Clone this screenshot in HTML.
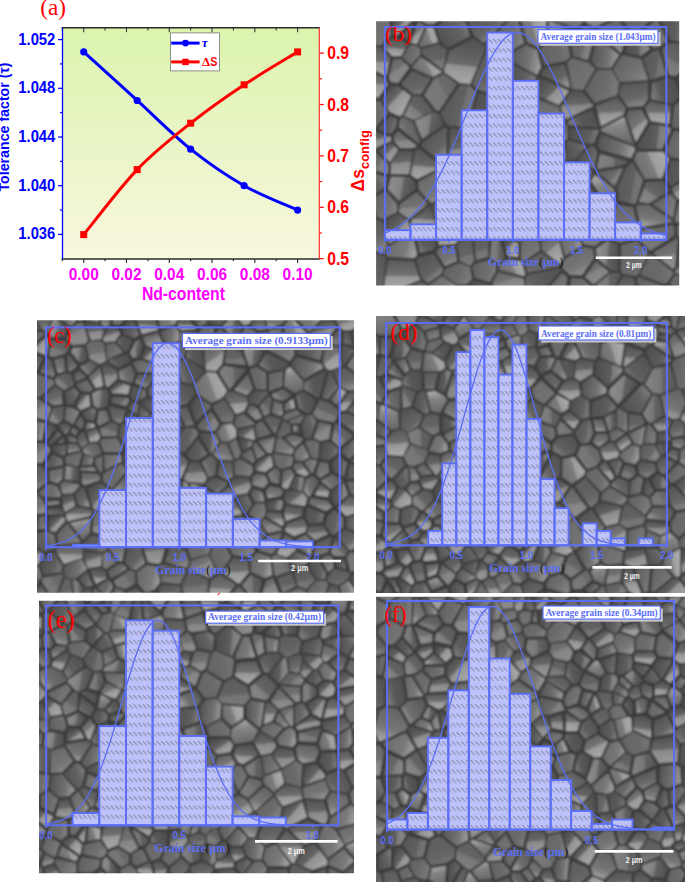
<!DOCTYPE html>
<html><head><meta charset="utf-8"><title>Figure</title>
<style>
html,body{margin:0;padding:0;background:#fff;width:685px;height:882px;overflow:hidden;}
svg{display:block;}
</style></head><body>
<svg width="685" height="882" viewBox="0 0 685 882">
<defs><linearGradient id="pg" x1="0" y1="0" x2="0" y2="1"><stop offset="0" stop-color="#dbf4ad"/><stop offset="0.42" stop-color="#e7f5c2"/><stop offset="1" stop-color="#f9f7df"/></linearGradient></defs>
<rect x="62.5" y="27.8" width="256.8" height="231.2" fill="url(#pg)"/>
<line x1="58.0" y1="234.40" x2="62.5" y2="234.40" stroke="#0000ff" stroke-width="1.2"/>
<line x1="60.0" y1="210.05" x2="62.5" y2="210.05" stroke="#0000ff" stroke-width="1.2"/>
<line x1="58.0" y1="185.70" x2="62.5" y2="185.70" stroke="#0000ff" stroke-width="1.2"/>
<line x1="60.0" y1="161.35" x2="62.5" y2="161.35" stroke="#0000ff" stroke-width="1.2"/>
<line x1="58.0" y1="137.00" x2="62.5" y2="137.00" stroke="#0000ff" stroke-width="1.2"/>
<line x1="60.0" y1="112.65" x2="62.5" y2="112.65" stroke="#0000ff" stroke-width="1.2"/>
<line x1="58.0" y1="88.30" x2="62.5" y2="88.30" stroke="#0000ff" stroke-width="1.2"/>
<line x1="60.0" y1="63.95" x2="62.5" y2="63.95" stroke="#0000ff" stroke-width="1.2"/>
<line x1="58.0" y1="39.60" x2="62.5" y2="39.60" stroke="#0000ff" stroke-width="1.2"/>
<line x1="319.3" y1="258.70" x2="323.8" y2="258.70" stroke="#ff0000" stroke-width="1.2"/>
<line x1="319.3" y1="233.00" x2="321.9" y2="233.00" stroke="#ff0000" stroke-width="1.2"/>
<line x1="319.3" y1="207.30" x2="323.8" y2="207.30" stroke="#ff0000" stroke-width="1.2"/>
<line x1="319.3" y1="181.60" x2="321.9" y2="181.60" stroke="#ff0000" stroke-width="1.2"/>
<line x1="319.3" y1="155.90" x2="323.8" y2="155.90" stroke="#ff0000" stroke-width="1.2"/>
<line x1="319.3" y1="130.20" x2="321.9" y2="130.20" stroke="#ff0000" stroke-width="1.2"/>
<line x1="319.3" y1="104.50" x2="323.8" y2="104.50" stroke="#ff0000" stroke-width="1.2"/>
<line x1="319.3" y1="78.80" x2="321.9" y2="78.80" stroke="#ff0000" stroke-width="1.2"/>
<line x1="319.3" y1="53.10" x2="323.8" y2="53.10" stroke="#ff0000" stroke-width="1.2"/>
<line x1="62.31" y1="259.0" x2="62.31" y2="261.2" stroke="#333" stroke-width="1.2"/>
<line x1="62.31" y1="27.8" x2="62.31" y2="30.4" stroke="#333" stroke-width="1.1"/>
<line x1="83.70" y1="259.0" x2="83.70" y2="263.0" stroke="#333" stroke-width="1.2"/>
<line x1="83.70" y1="27.8" x2="83.70" y2="32.2" stroke="#333" stroke-width="1.1"/>
<line x1="105.09" y1="259.0" x2="105.09" y2="261.2" stroke="#333" stroke-width="1.2"/>
<line x1="105.09" y1="27.8" x2="105.09" y2="30.4" stroke="#333" stroke-width="1.1"/>
<line x1="126.48" y1="259.0" x2="126.48" y2="263.0" stroke="#333" stroke-width="1.2"/>
<line x1="126.48" y1="27.8" x2="126.48" y2="32.2" stroke="#333" stroke-width="1.1"/>
<line x1="147.87" y1="259.0" x2="147.87" y2="261.2" stroke="#333" stroke-width="1.2"/>
<line x1="147.87" y1="27.8" x2="147.87" y2="30.4" stroke="#333" stroke-width="1.1"/>
<line x1="169.26" y1="259.0" x2="169.26" y2="263.0" stroke="#333" stroke-width="1.2"/>
<line x1="169.26" y1="27.8" x2="169.26" y2="32.2" stroke="#333" stroke-width="1.1"/>
<line x1="190.65" y1="259.0" x2="190.65" y2="261.2" stroke="#333" stroke-width="1.2"/>
<line x1="190.65" y1="27.8" x2="190.65" y2="30.4" stroke="#333" stroke-width="1.1"/>
<line x1="212.04" y1="259.0" x2="212.04" y2="263.0" stroke="#333" stroke-width="1.2"/>
<line x1="212.04" y1="27.8" x2="212.04" y2="32.2" stroke="#333" stroke-width="1.1"/>
<line x1="233.43" y1="259.0" x2="233.43" y2="261.2" stroke="#333" stroke-width="1.2"/>
<line x1="233.43" y1="27.8" x2="233.43" y2="30.4" stroke="#333" stroke-width="1.1"/>
<line x1="254.82" y1="259.0" x2="254.82" y2="263.0" stroke="#333" stroke-width="1.2"/>
<line x1="254.82" y1="27.8" x2="254.82" y2="32.2" stroke="#333" stroke-width="1.1"/>
<line x1="276.21" y1="259.0" x2="276.21" y2="261.2" stroke="#333" stroke-width="1.2"/>
<line x1="276.21" y1="27.8" x2="276.21" y2="30.4" stroke="#333" stroke-width="1.1"/>
<line x1="297.60" y1="259.0" x2="297.60" y2="263.0" stroke="#333" stroke-width="1.2"/>
<line x1="297.60" y1="27.8" x2="297.60" y2="32.2" stroke="#333" stroke-width="1.1"/>
<line x1="61.7" y1="27.8" x2="319.8" y2="27.8" stroke="#2a2a2a" stroke-width="1.5"/>
<line x1="61.7" y1="259.0" x2="319.8" y2="259.0" stroke="#2a2a2a" stroke-width="1.5"/>
<line x1="62.5" y1="27.8" x2="62.5" y2="259.0" stroke="#0000ff" stroke-width="1.3"/>
<line x1="319.3" y1="27.8" x2="319.3" y2="259.0" stroke="#ff2020" stroke-width="1.1"/>
<path d="M83.70,51.78 C92.61,59.89 119.35,84.24 137.18,100.48 C155.00,116.71 172.83,134.97 190.65,149.18 C208.48,163.38 226.30,175.55 244.12,185.70 C261.95,195.85 288.69,205.99 297.60,210.05" fill="none" stroke="#0000ff" stroke-width="3"/>
<path d="M83.70,234.60 C92.61,223.77 119.35,188.17 137.18,169.60 C155.00,151.03 172.83,137.33 190.65,123.20 C208.48,109.07 226.30,96.68 244.12,84.80 C261.95,72.92 288.69,57.38 297.60,51.90" fill="none" stroke="#ff0000" stroke-width="3"/>
<rect x="80.20" y="231.10" width="7" height="7" fill="#ff0000"/>
<rect x="133.68" y="166.10" width="7" height="7" fill="#ff0000"/>
<rect x="187.15" y="119.70" width="7" height="7" fill="#ff0000"/>
<rect x="240.62" y="81.30" width="7" height="7" fill="#ff0000"/>
<rect x="294.10" y="48.40" width="7" height="7" fill="#ff0000"/>
<circle cx="83.70" cy="51.78" r="3.6" fill="#0000ff"/>
<circle cx="137.18" cy="100.48" r="3.6" fill="#0000ff"/>
<circle cx="190.65" cy="149.18" r="3.6" fill="#0000ff"/>
<circle cx="244.12" cy="185.70" r="3.6" fill="#0000ff"/>
<circle cx="297.60" cy="210.05" r="3.6" fill="#0000ff"/>
<rect x="170.6" y="32.9" width="48.8" height="38" fill="#fff" stroke="#777" stroke-width="0.8"/>
<line x1="171.2" y1="43.1" x2="199.6" y2="43.1" stroke="#0000ff" stroke-width="3"/>
<circle cx="185.5" cy="43.1" r="3.4" fill="#0000ff"/>
<line x1="171.2" y1="61.9" x2="199.6" y2="61.9" stroke="#ff0000" stroke-width="3"/>
<rect x="182.3" y="58.7" width="6.4" height="6.4" fill="#ff0000"/>
<text x="201.8" y="46.6" font-family="Liberation Serif" font-weight="bold" font-style="italic" font-size="13.5" fill="#0000ff">&#964;</text>
<text x="202.0" y="66.4" font-family="Liberation Serif" font-weight="bold" font-size="13" fill="#ff0000">&#916;</text>
<text x="210.2" y="66.4" font-family="Liberation Sans" font-weight="bold" font-size="12.8" fill="#ff0000" transform="translate(210.2 0) scale(0.84 1) translate(-210.2 0)">S</text>
<text x="55.3" y="239.40" font-family="Liberation Sans" font-weight="bold" font-size="17" fill="#0000ff" text-anchor="end" transform="translate(55.3 0) scale(0.87 1) translate(-55.3 0)">1.036</text>
<text x="55.3" y="190.70" font-family="Liberation Sans" font-weight="bold" font-size="17" fill="#0000ff" text-anchor="end" transform="translate(55.3 0) scale(0.87 1) translate(-55.3 0)">1.040</text>
<text x="55.3" y="142.00" font-family="Liberation Sans" font-weight="bold" font-size="17" fill="#0000ff" text-anchor="end" transform="translate(55.3 0) scale(0.87 1) translate(-55.3 0)">1.044</text>
<text x="55.3" y="93.30" font-family="Liberation Sans" font-weight="bold" font-size="17" fill="#0000ff" text-anchor="end" transform="translate(55.3 0) scale(0.87 1) translate(-55.3 0)">1.048</text>
<text x="55.3" y="44.60" font-family="Liberation Sans" font-weight="bold" font-size="17" fill="#0000ff" text-anchor="end" transform="translate(55.3 0) scale(0.87 1) translate(-55.3 0)">1.052</text>
<text x="327.2" y="264.80" font-family="Liberation Sans" font-weight="bold" font-size="18.3" fill="#ff0000" transform="translate(327.2 0) scale(0.86 1) translate(-327.2 0)">0.5</text>
<text x="327.2" y="213.40" font-family="Liberation Sans" font-weight="bold" font-size="18.3" fill="#ff0000" transform="translate(327.2 0) scale(0.86 1) translate(-327.2 0)">0.6</text>
<text x="327.2" y="162.00" font-family="Liberation Sans" font-weight="bold" font-size="18.3" fill="#ff0000" transform="translate(327.2 0) scale(0.86 1) translate(-327.2 0)">0.7</text>
<text x="327.2" y="110.60" font-family="Liberation Sans" font-weight="bold" font-size="18.3" fill="#ff0000" transform="translate(327.2 0) scale(0.86 1) translate(-327.2 0)">0.8</text>
<text x="327.2" y="59.20" font-family="Liberation Sans" font-weight="bold" font-size="18.3" fill="#ff0000" transform="translate(327.2 0) scale(0.86 1) translate(-327.2 0)">0.9</text>
<text x="83.70" y="280.5" font-family="Liberation Sans" font-weight="bold" font-size="16.8" fill="#ff00ff" text-anchor="middle" transform="translate(83.70 0) scale(0.92 1) translate(-83.70 0)">0.00</text>
<text x="126.48" y="280.5" font-family="Liberation Sans" font-weight="bold" font-size="16.8" fill="#ff00ff" text-anchor="middle" transform="translate(126.48 0) scale(0.92 1) translate(-126.48 0)">0.02</text>
<text x="169.26" y="280.5" font-family="Liberation Sans" font-weight="bold" font-size="16.8" fill="#ff00ff" text-anchor="middle" transform="translate(169.26 0) scale(0.92 1) translate(-169.26 0)">0.04</text>
<text x="212.04" y="280.5" font-family="Liberation Sans" font-weight="bold" font-size="16.8" fill="#ff00ff" text-anchor="middle" transform="translate(212.04 0) scale(0.92 1) translate(-212.04 0)">0.06</text>
<text x="254.82" y="280.5" font-family="Liberation Sans" font-weight="bold" font-size="16.8" fill="#ff00ff" text-anchor="middle" transform="translate(254.82 0) scale(0.92 1) translate(-254.82 0)">0.08</text>
<text x="297.60" y="280.5" font-family="Liberation Sans" font-weight="bold" font-size="16.8" fill="#ff00ff" text-anchor="middle" transform="translate(297.60 0) scale(0.92 1) translate(-297.60 0)">0.10</text>
<text x="183.4" y="299.8" font-family="Liberation Sans" font-weight="bold" font-size="17.5" fill="#ff00ff" text-anchor="middle" transform="translate(183.4 0) scale(0.9 1) translate(-183.4 0)">Nd-content</text>
<text transform="translate(9.4 127) rotate(-90)" font-family="Liberation Sans" font-weight="bold" font-size="14.2" fill="#0000ff" text-anchor="middle">Tolerance factor (&#964;)</text>
<text transform="translate(363.8 191.4) rotate(-90)" font-family="Liberation Sans" font-weight="bold" font-size="17.5" fill="#ff0000">&#916;s<tspan font-size="13" dy="5.5">config</tspan></text>
<text x="40.3" y="15.3" font-family="Liberation Serif" font-size="23.2" fill="#ff0000">(a)</text>
<defs><pattern id="hatb" patternUnits="userSpaceOnUse" width="4.70" height="9.40" x="493.00" y="123.50"><line x1="0" y1="0" x2="4.4" y2="4.4" stroke="#727282" stroke-width="1.05" stroke-dasharray="1.1 0.45"/></pattern><clipPath id="cpb"><rect x="376.1" y="21.2" width="303.1" height="264.3"/></clipPath><pattern id="hatc" patternUnits="userSpaceOnUse" width="4.60" height="9.20" x="156.30" y="409.20"><line x1="0" y1="0" x2="4.4" y2="4.4" stroke="#727282" stroke-width="1.05" stroke-dasharray="1.1 0.45"/></pattern><clipPath id="cpc"><rect x="37.0" y="320.2" width="317.0" height="272.5"/></clipPath><pattern id="hatd" patternUnits="userSpaceOnUse" width="4.40" height="9.20" x="461.00" y="381.75"><line x1="0" y1="0" x2="4.4" y2="4.4" stroke="#727282" stroke-width="1.05" stroke-dasharray="1.1 0.45"/></pattern><clipPath id="cpd"><rect x="376.1" y="316.1" width="308.9" height="276.9"/></clipPath><pattern id="hate" patternUnits="userSpaceOnUse" width="4.60" height="9.20" x="101.30" y="741.10"><line x1="0" y1="0" x2="4.4" y2="4.4" stroke="#727282" stroke-width="1.05" stroke-dasharray="1.1 0.45"/></pattern><clipPath id="cpe"><rect x="39.0" y="600.7" width="315.0" height="272.6"/></clipPath><pattern id="hatf" patternUnits="userSpaceOnUse" width="4.70" height="9.30" x="451.75" y="704.20"><line x1="0" y1="0" x2="4.4" y2="4.4" stroke="#727282" stroke-width="1.05" stroke-dasharray="1.1 0.45"/></pattern><clipPath id="cpf"><rect x="376.1" y="596.7" width="308.9" height="285.3"/></clipPath><linearGradient id="g0" x1="0.67" y1="0.97" x2="0.33" y2="0.03"><stop offset="0.00" stop-color="rgb(118,118,118)"/><stop offset="0.35" stop-color="rgb(100,100,100)"/><stop offset="1.00" stop-color="rgb(93,93,93)"/></linearGradient><linearGradient id="g1" x1="1.00" y1="0.54" x2="0.00" y2="0.46"><stop offset="0.00" stop-color="rgb(139,139,139)"/><stop offset="0.37" stop-color="rgb(123,123,123)"/><stop offset="0.39" stop-color="rgb(94,94,94)"/><stop offset="1.00" stop-color="rgb(76,76,76)"/></linearGradient><linearGradient id="g2" x1="0.94" y1="0.27" x2="0.06" y2="0.73"><stop offset="0.00" stop-color="rgb(121,121,121)"/><stop offset="0.35" stop-color="rgb(97,97,97)"/><stop offset="1.00" stop-color="rgb(82,82,82)"/></linearGradient><linearGradient id="g3" x1="0.87" y1="0.84" x2="0.13" y2="0.16"><stop offset="0.00" stop-color="rgb(170,170,170)"/><stop offset="0.56" stop-color="rgb(146,146,146)"/><stop offset="0.58" stop-color="rgb(103,103,103)"/><stop offset="1.00" stop-color="rgb(75,75,75)"/></linearGradient><linearGradient id="g4" x1="0.99" y1="0.61" x2="0.01" y2="0.39"><stop offset="0.00" stop-color="rgb(131,131,131)"/><stop offset="0.35" stop-color="rgb(108,108,108)"/><stop offset="1.00" stop-color="rgb(103,103,103)"/></linearGradient><linearGradient id="g5" x1="0.94" y1="0.75" x2="0.06" y2="0.25"><stop offset="0.00" stop-color="rgb(135,135,135)"/><stop offset="0.37" stop-color="rgb(124,124,124)"/><stop offset="0.39" stop-color="rgb(105,105,105)"/><stop offset="1.00" stop-color="rgb(93,93,93)"/></linearGradient><linearGradient id="g6" x1="0.64" y1="0.98" x2="0.36" y2="0.02"><stop offset="0.00" stop-color="rgb(138,138,138)"/><stop offset="0.35" stop-color="rgb(104,104,104)"/><stop offset="1.00" stop-color="rgb(85,85,85)"/></linearGradient><linearGradient id="g7" x1="0.54" y1="1.00" x2="0.46" y2="0.00"><stop offset="0.00" stop-color="rgb(154,154,154)"/><stop offset="0.49" stop-color="rgb(136,136,136)"/><stop offset="0.51" stop-color="rgb(103,103,103)"/><stop offset="1.00" stop-color="rgb(82,82,82)"/></linearGradient><linearGradient id="g8" x1="0.99" y1="0.58" x2="0.01" y2="0.42"><stop offset="0.00" stop-color="rgb(156,156,156)"/><stop offset="0.35" stop-color="rgb(114,114,114)"/><stop offset="1.00" stop-color="rgb(84,84,84)"/></linearGradient><linearGradient id="g9" x1="0.57" y1="0.99" x2="0.43" y2="0.01"><stop offset="0.00" stop-color="rgb(122,122,122)"/><stop offset="0.36" stop-color="rgb(114,114,114)"/><stop offset="0.38" stop-color="rgb(100,100,100)"/><stop offset="1.00" stop-color="rgb(91,91,91)"/></linearGradient><linearGradient id="g10" x1="0.75" y1="0.94" x2="0.25" y2="0.06"><stop offset="0.00" stop-color="rgb(147,147,147)"/><stop offset="0.35" stop-color="rgb(117,117,117)"/><stop offset="1.00" stop-color="rgb(105,105,105)"/></linearGradient><linearGradient id="g11" x1="0.73" y1="0.94" x2="0.27" y2="0.06"><stop offset="0.00" stop-color="rgb(140,140,140)"/><stop offset="0.59" stop-color="rgb(131,131,131)"/><stop offset="0.61" stop-color="rgb(114,114,114)"/><stop offset="1.00" stop-color="rgb(104,104,104)"/></linearGradient><linearGradient id="g12" x1="0.99" y1="0.42" x2="0.01" y2="0.58"><stop offset="0.00" stop-color="rgb(117,117,117)"/><stop offset="0.35" stop-color="rgb(107,107,107)"/><stop offset="1.00" stop-color="rgb(99,99,99)"/></linearGradient><linearGradient id="g13" x1="0.00" y1="0.52" x2="1.00" y2="0.48"><stop offset="0.00" stop-color="rgb(130,130,130)"/><stop offset="0.52" stop-color="rgb(119,119,119)"/><stop offset="0.54" stop-color="rgb(99,99,99)"/><stop offset="1.00" stop-color="rgb(87,87,87)"/></linearGradient><linearGradient id="g14" x1="0.98" y1="0.66" x2="0.02" y2="0.34"><stop offset="0.00" stop-color="rgb(120,120,120)"/><stop offset="0.35" stop-color="rgb(94,94,94)"/><stop offset="1.00" stop-color="rgb(76,76,76)"/></linearGradient><linearGradient id="g15" x1="0.87" y1="0.84" x2="0.13" y2="0.16"><stop offset="0.00" stop-color="rgb(164,164,164)"/><stop offset="0.46" stop-color="rgb(142,142,142)"/><stop offset="0.48" stop-color="rgb(102,102,102)"/><stop offset="1.00" stop-color="rgb(76,76,76)"/></linearGradient><linearGradient id="g16" x1="0.98" y1="0.65" x2="0.02" y2="0.35"><stop offset="0.00" stop-color="rgb(161,161,161)"/><stop offset="0.35" stop-color="rgb(121,121,121)"/><stop offset="1.00" stop-color="rgb(105,105,105)"/></linearGradient><linearGradient id="g17" x1="0.45" y1="1.00" x2="0.55" y2="0.00"><stop offset="0.00" stop-color="rgb(169,169,169)"/><stop offset="0.39" stop-color="rgb(146,146,146)"/><stop offset="0.41" stop-color="rgb(106,106,106)"/><stop offset="1.00" stop-color="rgb(79,79,79)"/></linearGradient><linearGradient id="g18" x1="0.81" y1="0.90" x2="0.19" y2="0.10"><stop offset="0.00" stop-color="rgb(148,148,148)"/><stop offset="0.35" stop-color="rgb(99,99,99)"/><stop offset="1.00" stop-color="rgb(83,83,83)"/></linearGradient><linearGradient id="g19" x1="0.74" y1="0.94" x2="0.26" y2="0.06"><stop offset="0.00" stop-color="rgb(169,169,169)"/><stop offset="0.48" stop-color="rgb(151,151,151)"/><stop offset="0.50" stop-color="rgb(119,119,119)"/><stop offset="1.00" stop-color="rgb(98,98,98)"/></linearGradient><linearGradient id="g20" x1="0.87" y1="0.84" x2="0.13" y2="0.16"><stop offset="0.00" stop-color="rgb(117,117,117)"/><stop offset="0.35" stop-color="rgb(113,113,113)"/><stop offset="1.00" stop-color="rgb(106,106,106)"/></linearGradient><linearGradient id="g21" x1="0.15" y1="0.85" x2="0.85" y2="0.15"><stop offset="0.00" stop-color="rgb(136,136,136)"/><stop offset="0.38" stop-color="rgb(124,124,124)"/><stop offset="0.40" stop-color="rgb(102,102,102)"/><stop offset="1.00" stop-color="rgb(88,88,88)"/></linearGradient><linearGradient id="g22" x1="1.00" y1="0.56" x2="0.00" y2="0.44"><stop offset="0.00" stop-color="rgb(126,126,126)"/><stop offset="0.35" stop-color="rgb(93,93,93)"/><stop offset="1.00" stop-color="rgb(79,79,79)"/></linearGradient><linearGradient id="g23" x1="0.98" y1="0.64" x2="0.02" y2="0.36"><stop offset="0.00" stop-color="rgb(119,119,119)"/><stop offset="0.36" stop-color="rgb(111,111,111)"/><stop offset="0.38" stop-color="rgb(96,96,96)"/><stop offset="1.00" stop-color="rgb(87,87,87)"/></linearGradient><linearGradient id="g24" x1="0.15" y1="0.86" x2="0.85" y2="0.14"><stop offset="0.00" stop-color="rgb(122,122,122)"/><stop offset="0.35" stop-color="rgb(94,94,94)"/><stop offset="1.00" stop-color="rgb(83,83,83)"/></linearGradient><linearGradient id="g25" x1="0.49" y1="1.00" x2="0.51" y2="0.00"><stop offset="0.00" stop-color="rgb(171,171,171)"/><stop offset="0.47" stop-color="rgb(150,150,150)"/><stop offset="0.49" stop-color="rgb(114,114,114)"/><stop offset="1.00" stop-color="rgb(90,90,90)"/></linearGradient><linearGradient id="g26" x1="0.90" y1="0.80" x2="0.10" y2="0.20"><stop offset="0.00" stop-color="rgb(129,129,129)"/><stop offset="0.35" stop-color="rgb(108,108,108)"/><stop offset="1.00" stop-color="rgb(103,103,103)"/></linearGradient><linearGradient id="g27" x1="0.01" y1="0.43" x2="0.99" y2="0.57"><stop offset="0.00" stop-color="rgb(144,144,144)"/><stop offset="0.49" stop-color="rgb(127,127,127)"/><stop offset="0.51" stop-color="rgb(98,98,98)"/><stop offset="1.00" stop-color="rgb(79,79,79)"/></linearGradient><linearGradient id="g28" x1="0.36" y1="0.98" x2="0.64" y2="0.02"><stop offset="0.00" stop-color="rgb(164,164,164)"/><stop offset="0.35" stop-color="rgb(118,118,118)"/><stop offset="1.00" stop-color="rgb(99,99,99)"/></linearGradient><linearGradient id="g29" x1="0.56" y1="1.00" x2="0.44" y2="0.00"><stop offset="0.00" stop-color="rgb(144,144,144)"/><stop offset="0.43" stop-color="rgb(133,133,133)"/><stop offset="0.45" stop-color="rgb(114,114,114)"/><stop offset="1.00" stop-color="rgb(102,102,102)"/></linearGradient><linearGradient id="g30" x1="0.42" y1="0.01" x2="0.58" y2="0.99"><stop offset="0.00" stop-color="rgb(171,171,171)"/><stop offset="0.35" stop-color="rgb(131,131,131)"/><stop offset="1.00" stop-color="rgb(104,104,104)"/></linearGradient><linearGradient id="g31" x1="0.29" y1="0.95" x2="0.71" y2="0.05"><stop offset="0.00" stop-color="rgb(127,127,127)"/><stop offset="0.44" stop-color="rgb(118,118,118)"/><stop offset="0.46" stop-color="rgb(102,102,102)"/><stop offset="1.00" stop-color="rgb(92,92,92)"/></linearGradient><linearGradient id="g32" x1="0.93" y1="0.75" x2="0.07" y2="0.25"><stop offset="0.00" stop-color="rgb(129,129,129)"/><stop offset="0.35" stop-color="rgb(114,114,114)"/><stop offset="1.00" stop-color="rgb(98,98,98)"/></linearGradient><linearGradient id="g33" x1="0.97" y1="0.34" x2="0.03" y2="0.66"><stop offset="0.00" stop-color="rgb(171,171,171)"/><stop offset="0.44" stop-color="rgb(155,155,155)"/><stop offset="0.46" stop-color="rgb(126,126,126)"/><stop offset="1.00" stop-color="rgb(108,108,108)"/></linearGradient><linearGradient id="g34" x1="0.97" y1="0.68" x2="0.03" y2="0.32"><stop offset="0.00" stop-color="rgb(125,125,125)"/><stop offset="0.35" stop-color="rgb(110,110,110)"/><stop offset="1.00" stop-color="rgb(96,96,96)"/></linearGradient><linearGradient id="g35" x1="0.67" y1="0.97" x2="0.33" y2="0.03"><stop offset="0.00" stop-color="rgb(160,160,160)"/><stop offset="0.52" stop-color="rgb(139,139,139)"/><stop offset="0.54" stop-color="rgb(101,101,101)"/><stop offset="1.00" stop-color="rgb(77,77,77)"/></linearGradient><linearGradient id="g36" x1="0.08" y1="0.77" x2="0.92" y2="0.23"><stop offset="0.00" stop-color="rgb(157,157,157)"/><stop offset="0.35" stop-color="rgb(110,110,110)"/><stop offset="1.00" stop-color="rgb(91,91,91)"/></linearGradient><linearGradient id="g37" x1="0.53" y1="1.00" x2="0.47" y2="0.00"><stop offset="0.00" stop-color="rgb(170,170,170)"/><stop offset="0.45" stop-color="rgb(149,149,149)"/><stop offset="0.47" stop-color="rgb(112,112,112)"/><stop offset="1.00" stop-color="rgb(88,88,88)"/></linearGradient><linearGradient id="g38" x1="0.03" y1="0.66" x2="0.97" y2="0.34"><stop offset="0.00" stop-color="rgb(123,123,123)"/><stop offset="0.35" stop-color="rgb(89,89,89)"/><stop offset="1.00" stop-color="rgb(78,78,78)"/></linearGradient><linearGradient id="g39" x1="0.09" y1="0.78" x2="0.91" y2="0.22"><stop offset="0.00" stop-color="rgb(122,122,122)"/><stop offset="0.60" stop-color="rgb(117,117,117)"/><stop offset="0.62" stop-color="rgb(108,108,108)"/><stop offset="1.00" stop-color="rgb(103,103,103)"/></linearGradient><filter id="semblur" x="0" y="0" width="1" height="1"><feGaussianBlur stdDeviation="1.1"/></filter></defs>
<g><g clip-path="url(#cpb)"><g filter="url(#semblur)"><rect x="373.1" y="18.2" width="309.1" height="270.3" fill="#3a3a3a"/>
<path d="M493 161 496 191 498 192 512 188 522 168 510 150 508 150Z" fill="url(#g32)"/><path d="M681 130 693 144 697 144 697 121Z" fill="url(#g21)"/><path d="M528 195 543 188 545 182 536 170 525 170 515 188Z" fill="url(#g16)"/><path d="M413 151 399 151 391 163 391 174 409 174Z" fill="url(#g7)"/><path d="M584 247 565 259 562 266 564 270 570 275 582 275 594 258 593 249Z" fill="url(#g10)"/><path d="M378 98 388 84 386 79 365 69 358 73 357 84Z" fill="url(#g25)"/><path d="M386 259 384 255 367 251 337 268 355 285 383 287Z" fill="url(#g21)"/><path d="M577 188 576 195 595 211 601 212 605 208 588 183Z" fill="url(#g23)"/><path d="M398 83 409 68 409 67 401 59 393 59 389 78 391 82Z" fill="url(#g11)"/><path d="M524 279 498 272 492 284 498 293 524 290Z" fill="url(#g11)"/><path d="M542 216 556 215 557 209 544 190 529 197 531 208Z" fill="url(#g21)"/><path d="M529 208 527 197 513 190 500 194 509 217 517 218Z" fill="url(#g6)"/><path d="M504 86 535 81 536 77 507 61Z" fill="url(#g22)"/><path d="M675 235 674 226 673 225 642 230 639 239 650 251Z" fill="url(#g39)"/><path d="M444 72 460 83 470 84 486 48 484 45 473 38 449 51Z" fill="url(#g17)"/><path d="M636 142 648 122 642 110 629 110 626 116Z" fill="url(#g19)"/><path d="M645 108 651 121 669 124 671 106 650 101Z" fill="url(#g25)"/><path d="M682 159 691 146 678 131 674 131 665 151 671 157Z" fill="url(#g34)"/><path d="M648 80 641 59 622 55 613 69 620 82Z" fill="url(#g32)"/><path d="M375 100 355 87 334 106 349 113 360 113Z" fill="url(#g13)"/><path d="M376 47 368 67 386 76 390 58 381 47Z" fill="url(#g25)"/><path d="M640 33 631 33 625 53 641 56 650 49Z" fill="url(#g1)"/><path d="M549 141 566 140 567 138 568 127 565 121 561 118 547 126Z" fill="url(#g6)"/><path d="M412 232 390 246 386 255 388 257 414 258 417 255Z" fill="url(#g16)"/><path d="M397 204 386 191 373 198 373 199 377 217 383 219 397 212Z" fill="url(#g32)"/><path d="M388 113 379 100 362 115 373 130Z" fill="url(#g12)"/><path d="M421 94 431 79 412 71 401 84 413 94Z" fill="url(#g0)"/><path d="M429 285 433 303 450 298 456 286 442 276Z" fill="url(#g16)"/><path d="M414 120 433 111 421 96 413 96 404 116Z" fill="url(#g21)"/><path d="M676 200 671 194 652 204 673 218Z" fill="url(#g32)"/><path d="M433 77 442 72 421 57 412 67 412 68Z" fill="url(#g33)"/><path d="M648 82 621 84 619 95 628 107 643 106 648 99Z" fill="url(#g6)"/><path d="M459 -26 450 12 466 20 480 -2 480 -5 466 -36Z" fill="url(#g4)"/><path d="M358 182 372 195 385 188 387 177 369 172Z" fill="url(#g2)"/><path d="M444 168 418 182 419 190 431 203 445 197 450 190 453 175 451 171 447 169Z" fill="url(#g10)"/><path d="M471 130 475 155 491 159 507 148 500 130Z" fill="url(#g10)"/><path d="M562 273 536 302 538 307 565 300 567 277Z" fill="url(#g34)"/><path d="M415 18 414 17 396 14 392 16 394 34 397 35Z" fill="url(#g3)"/><path d="M699 257 677 268 675 272 675 273 693 278 701 266Z" fill="url(#g31)"/><path d="M438 42 433 27 427 27 419 45 421 47Z" fill="url(#g33)"/><path d="M693 175 672 188 673 192 678 199 699 196 703 190Z" fill="url(#g19)"/><path d="M482 0 468 22 474 36 484 43 508 18Z" fill="url(#g18)"/><path d="M430 205 411 221 413 229 434 229 436 225Z" fill="url(#g17)"/><path d="M428 283 441 274 443 269 434 254 419 257 416 260 422 279Z" fill="url(#g18)"/><path d="M541 75 570 88 565 64 544 68Z" fill="url(#g18)"/><path d="M408 221 398 214 384 221 389 244 411 230Z" fill="url(#g15)"/><path d="M374 46 360 34 346 62 357 70 364 66Z" fill="url(#g10)"/><path d="M527 275 526 278 526 290 534 300 561 271 559 268Z" fill="url(#g24)"/><path d="M589 63 572 58 567 63 572 89 583 90 595 69Z" fill="url(#g20)"/><path d="M399 116 402 115 411 96 398 86 391 86 381 99 390 112Z" fill="url(#g3)"/><path d="M549 19 576 28 583 23 580 12 557 3 548 17Z" fill="url(#g20)"/><path d="M473 280 469 285 472 315 486 324 496 295 490 285Z" fill="url(#g14)"/><path d="M591 181 608 207 616 202 614 189 595 175Z" fill="url(#g30)"/><path d="M528 234 516 220 509 220 500 234 501 235 520 241Z" fill="url(#g15)"/><path d="M611 297 621 303 627 302 635 283 634 278 623 276Z" fill="url(#g6)"/><path d="M620 242 636 238 638 228 633 207 618 205 608 210 604 214 608 238Z" fill="url(#g29)"/><path d="M636 285 629 303 637 309 640 308 645 297Z" fill="url(#g15)"/><path d="M473 237 484 233 477 210 474 210 458 222 457 224 463 236Z" fill="url(#g7)"/><path d="M675 275 670 283 685 304 699 291 693 280Z" fill="url(#g26)"/><path d="M498 236 492 237 490 258 498 263 505 258 499 237Z" fill="url(#g13)"/><path d="M691 173 682 162 671 160 665 179 671 186Z" fill="url(#g22)"/><path d="M566 119 593 106 593 105 583 92 572 91 561 107 563 116Z" fill="url(#g7)"/><path d="M546 189 558 207 573 195 574 187 564 177 548 182Z" fill="url(#g8)"/><path d="M352 208 354 223 359 225 374 217 370 201Z" fill="url(#g29)"/><path d="M617 97 596 106 601 126 623 115 626 108Z" fill="url(#g37)"/><path d="M626 168 617 188 619 201 634 204 636 203 643 180 632 162Z" fill="url(#g23)"/><path d="M499 265 499 270 524 276 525 274 522 263 520 261 507 260Z" fill="url(#g33)"/><path d="M507 59 537 75 541 67 537 50 526 45 506 57Z" fill="url(#g8)"/><path d="M601 134 597 145 600 150 631 158 635 150 634 147Z" fill="url(#g8)"/><path d="M445 199 432 205 438 224 455 223 456 221Z" fill="url(#g7)"/><path d="M411 43 417 44 425 26 418 21Z" fill="url(#g19)"/><path d="M701 216 698 199 679 202 675 220 677 223Z" fill="url(#g39)"/><path d="M451 193 447 198 458 219 471 208Z" fill="url(#g17)"/><path d="M400 119 399 127 419 144 420 141 413 122 403 117Z" fill="url(#g36)"/><path d="M678 128 698 117 699 105 682 99 674 106 672 125 674 128Z" fill="url(#g12)"/><path d="M537 82 538 96 559 105 569 91 539 77Z" fill="url(#g15)"/><path d="M398 150 392 143 377 150 390 162Z" fill="url(#g15)"/><path d="M673 272 650 254 640 275 664 284 668 282 673 274Z" fill="url(#g12)"/><path d="M466 23 449 16 436 27 441 42 448 48 470 36Z" fill="url(#g2)"/><path d="M472 84 478 90 496 94 502 87 504 60 503 58 487 50Z" fill="url(#g0)"/><path d="M422 139 444 125 439 114 434 112 415 121Z" fill="url(#g27)"/><path d="M567 141 566 161 575 160 586 146 568 140Z" fill="url(#g2)"/><path d="M459 263 445 269 443 275 457 285 467 284 472 279 470 267Z" fill="url(#g34)"/><path d="M596 172 615 186 623 168Z" fill="url(#g5)"/><path d="M455 247 439 248 436 252 445 266 457 261Z" fill="url(#g10)"/><path d="M653 51 643 59 650 80 666 75 659 50Z" fill="url(#g23)"/><path d="M599 130 570 128 569 138 588 144 594 143Z" fill="url(#g22)"/><path d="M558 216 561 222 573 225 593 213 574 197 559 209Z" fill="url(#g21)"/><path d="M591 61 597 68 611 68 619 55 597 36Z" fill="url(#g8)"/><path d="M510 19 487 45 488 47 504 55 524 43 517 17Z" fill="url(#g4)"/><path d="M598 32 621 53 628 32 618 19 597 29Z" fill="url(#g28)"/><path d="M424 95 436 110 439 111 457 84 444 74 434 79Z" fill="url(#g39)"/><path d="M597 169 624 165 629 161 600 154Z" fill="url(#g13)"/><path d="M558 231 565 256 582 245 572 227 561 225Z" fill="url(#g16)"/><path d="M474 240 476 260 488 257 489 236 486 235Z" fill="url(#g9)"/><path d="M681 239 697 245 711 224 703 219 677 226 678 236Z" fill="url(#g38)"/><path d="M391 137 373 131 367 147 375 148 391 141Z" fill="url(#g35)"/><path d="M582 312 590 286 583 279 571 278 569 300Z" fill="url(#g11)"/><path d="M474 157 454 171 455 174 493 191 490 162Z" fill="url(#g23)"/><path d="M673 269 675 267 678 240 677 238 653 253Z" fill="url(#g29)"/><path d="M578 31 571 43 573 56 588 60 595 33 594 29 585 26Z" fill="url(#g5)"/><path d="M612 271 619 271 618 244 607 241 596 249 597 258Z" fill="url(#g27)"/><path d="M584 244 595 246 605 238 601 215 595 215 575 227Z" fill="url(#g31)"/><path d="M427 285 421 282 397 292 420 311 428 310 430 304Z" fill="url(#g29)"/><path d="M525 263 527 273 559 266 541 252Z" fill="url(#g0)"/><path d="M451 299 471 315 471 315 467 285 458 287Z" fill="url(#g13)"/><path d="M652 83 651 99 672 104 680 96 675 80 668 78Z" fill="url(#g38)"/><path d="M541 242 542 250 560 264 563 258 557 232Z" fill="url(#g19)"/><path d="M657 19 642 32 653 48 659 47 667 41Z" fill="url(#g20)"/><path d="M472 240 463 238 457 245 460 261 470 266 474 261Z" fill="url(#g9)"/><path d="M361 26 360 32 376 45 381 45 391 35 389 16 382 14Z" fill="url(#g20)"/><path d="M530 234 540 240 556 230 559 223 556 217 542 218Z" fill="url(#g7)"/><path d="M673 221 649 205 637 205 636 206 641 227 673 222Z" fill="url(#g28)"/><path d="M419 148 415 151 411 175 417 179 442 167Z" fill="url(#g17)"/><path d="M461 237 455 226 438 227 436 230 439 245 455 244Z" fill="url(#g19)"/><path d="M588 147 577 160 594 169 597 152 594 146Z" fill="url(#g14)"/><path d="M662 178 669 159 663 152 637 152 634 160 645 179Z" fill="url(#g33)"/><path d="M446 124 449 126 467 126 476 92 470 86 460 85 440 114Z" fill="url(#g23)"/><path d="M665 286 660 296 663 310 682 308 683 305 669 285Z" fill="url(#g1)"/><path d="M420 280 414 261 388 260 384 288 386 290 393 291Z" fill="url(#g25)"/><path d="M548 42 540 49 544 65 566 61 570 57 568 44Z" fill="url(#g12)"/><path d="M542 149 527 143 513 150 524 166 536 167 543 155Z" fill="url(#g23)"/><path d="M476 263 472 267 475 278 490 282 496 271 496 265 489 260Z" fill="url(#g34)"/><path d="M545 148 546 154 565 160 565 142 549 143Z" fill="url(#g37)"/><path d="M595 27 617 16 621 2 621 1 590 -4 583 11 586 23Z" fill="url(#g11)"/><path d="M561 117 559 107 537 99 527 111 534 122 546 125Z" fill="url(#g29)"/><path d="M421 146 445 165 446 166 447 128 445 127 423 142Z" fill="url(#g18)"/><path d="M397 119 390 116 377 129 391 134 396 127Z" fill="url(#g14)"/><path d="M637 278 637 283 647 295 658 294 662 286 639 277Z" fill="url(#g34)"/><path d="M507 111 526 111 536 97 534 83 504 88 498 95Z" fill="url(#g18)"/><path d="M415 182 409 177 391 177 388 189 399 201 416 189Z" fill="url(#g27)"/><path d="M410 45 402 57 411 65 420 55 420 49 417 46Z" fill="url(#g34)"/><path d="M617 95 619 83 612 70 597 70 585 90 595 103Z" fill="url(#g34)"/><path d="M452 191 474 208 478 207 492 193 454 176Z" fill="url(#g5)"/><path d="M361 227 368 249 384 253 387 245 383 221 376 219Z" fill="url(#g6)"/><path d="M366 150 370 169 388 174 388 164 374 151Z" fill="url(#g5)"/><path d="M447 50 439 44 421 49 422 54 443 70Z" fill="url(#g9)"/><path d="M543 146 547 142 545 126 534 124 528 141Z" fill="url(#g27)"/><path d="M470 128 500 128 506 113 496 96 478 93 469 126Z" fill="url(#g14)"/><path d="M546 20 545 18 520 16 527 42 538 47 546 40Z" fill="url(#g33)"/><path d="M428 204 417 192 400 204 399 212 409 219Z" fill="url(#g29)"/><path d="M575 162 567 163 565 175 576 185 588 180 594 172Z" fill="url(#g21)"/><path d="M669 189 663 181 646 182 639 202 649 203 670 191Z" fill="url(#g21)"/><path d="M662 49 669 75 676 76 687 66 683 44 669 43Z" fill="url(#g31)"/><path d="M623 274 635 276 638 275 648 253 637 241 621 245 621 272Z" fill="url(#g4)"/><path d="M689 69 678 79 683 96 700 102 736 79Z" fill="url(#g2)"/><path d="M667 10 659 17 670 40 683 42 685 19Z" fill="url(#g22)"/><path d="M433 232 415 232 420 253 433 250 436 246Z" fill="url(#g24)"/><path d="M446 13 425 -2 417 16 418 18 427 24 434 24Z" fill="url(#g29)"/><path d="M651 124 637 146 638 149 662 149 671 130 669 127Z" fill="url(#g1)"/><path d="M654 17 632 3 624 3 620 17 630 30 640 30Z" fill="url(#g0)"/><path d="M494 194 480 209 487 232 491 234 498 233 507 218 497 195Z" fill="url(#g26)"/><path d="M609 298 594 287 586 310 599 309Z" fill="url(#g9)"/><path d="M529 236 521 242 521 259 524 261 540 250 539 242Z" fill="url(#g10)"/><path d="M529 230 539 217 530 211 520 220Z" fill="url(#g24)"/><path d="M546 157 538 169 547 180 563 174 564 163Z" fill="url(#g20)"/><path d="M549 21 548 39 568 42 575 30Z" fill="url(#g27)"/><path d="M408 44 397 38 393 37 383 46 392 56 401 56Z" fill="url(#g17)"/><path d="M503 239 508 256 518 257 518 243Z" fill="url(#g3)"/><path d="M450 128 449 167 452 169 473 155 469 129 467 128Z" fill="url(#g7)"/><path d="M509 147 511 148 526 141 532 123 526 113 508 113 502 129Z" fill="url(#g9)"/><path d="M594 284 609 272 596 261 585 277 593 284Z" fill="url(#g11)"/><path d="M398 131 394 136 394 141 400 148 413 148 417 146Z" fill="url(#g29)"/><path d="M601 129 601 131 634 145 624 117Z" fill="url(#g30)"/><path d="M408 41 413 24 401 36Z" fill="url(#g2)"/><path d="M699 254 699 253 697 248 681 241 678 266Z" fill="url(#g12)"/><path d="M610 295 621 275 620 273 611 273 596 285Z" fill="url(#g13)"/><path d="M599 128 593 109 568 121 569 125Z" fill="url(#g38)"/></g></g>
<rect x="384.90" y="230.10" width="25.58" height="9.70" fill="#bec2fa"/>
<rect x="385.90" y="231.10" width="23.58" height="8.70" fill="url(#hatb)"/>
<rect x="410.48" y="224.30" width="25.58" height="15.50" fill="#bec2fa"/>
<rect x="411.48" y="225.30" width="23.58" height="14.50" fill="url(#hatb)"/>
<rect x="436.06" y="154.80" width="25.58" height="85.00" fill="#bec2fa"/>
<rect x="437.06" y="155.80" width="23.58" height="84.00" fill="url(#hatb)"/>
<rect x="461.64" y="110.30" width="25.58" height="129.50" fill="#bec2fa"/>
<rect x="462.64" y="111.30" width="23.58" height="128.50" fill="url(#hatb)"/>
<rect x="487.22" y="32.50" width="25.58" height="207.30" fill="#bec2fa"/>
<rect x="488.22" y="33.50" width="23.58" height="206.30" fill="url(#hatb)"/>
<rect x="512.80" y="80.80" width="25.58" height="159.00" fill="#bec2fa"/>
<rect x="513.80" y="81.80" width="23.58" height="158.00" fill="url(#hatb)"/>
<rect x="538.38" y="113.50" width="25.58" height="126.30" fill="#bec2fa"/>
<rect x="539.38" y="114.50" width="23.58" height="125.30" fill="url(#hatb)"/>
<rect x="563.96" y="162.30" width="25.58" height="77.50" fill="#bec2fa"/>
<rect x="564.96" y="163.30" width="23.58" height="76.50" fill="url(#hatb)"/>
<rect x="589.54" y="193.30" width="25.58" height="46.50" fill="#bec2fa"/>
<rect x="590.54" y="194.30" width="23.58" height="45.50" fill="url(#hatb)"/>
<rect x="615.12" y="222.40" width="25.58" height="17.40" fill="#bec2fa"/>
<rect x="616.12" y="223.40" width="23.58" height="16.40" fill="url(#hatb)"/>
<rect x="640.70" y="233.50" width="25.58" height="6.30" fill="#bec2fa"/>
<rect x="641.70" y="234.50" width="23.58" height="5.30" fill="url(#hatb)"/>
<rect x="384.90" y="230.10" width="25.58" height="9.70" fill="none" stroke="#5b6ef5" stroke-width="1.9"/>
<rect x="410.48" y="224.30" width="25.58" height="15.50" fill="none" stroke="#5b6ef5" stroke-width="1.9"/>
<rect x="436.06" y="154.80" width="25.58" height="85.00" fill="none" stroke="#5b6ef5" stroke-width="1.9"/>
<rect x="461.64" y="110.30" width="25.58" height="129.50" fill="none" stroke="#5b6ef5" stroke-width="1.9"/>
<rect x="487.22" y="32.50" width="25.58" height="207.30" fill="none" stroke="#5b6ef5" stroke-width="1.9"/>
<rect x="512.80" y="80.80" width="25.58" height="159.00" fill="none" stroke="#5b6ef5" stroke-width="1.9"/>
<rect x="538.38" y="113.50" width="25.58" height="126.30" fill="none" stroke="#5b6ef5" stroke-width="1.9"/>
<rect x="563.96" y="162.30" width="25.58" height="77.50" fill="none" stroke="#5b6ef5" stroke-width="1.9"/>
<rect x="589.54" y="193.30" width="25.58" height="46.50" fill="none" stroke="#5b6ef5" stroke-width="1.9"/>
<rect x="615.12" y="222.40" width="25.58" height="17.40" fill="none" stroke="#5b6ef5" stroke-width="1.9"/>
<rect x="640.70" y="233.50" width="25.58" height="6.30" fill="none" stroke="#5b6ef5" stroke-width="1.9"/>
<polyline points="384.9,232.9 386.4,232.4 387.9,231.8 389.4,231.2 390.9,230.5 392.4,229.8 393.9,229.1 395.4,228.3 396.9,227.4 398.4,226.5 399.9,225.6 401.4,224.6 402.9,223.5 404.4,222.4 405.9,221.2 407.4,219.9 408.9,218.6 410.4,217.3 411.9,215.8 413.4,214.3 414.9,212.7 416.4,211.1 417.9,209.3 419.4,207.5 420.9,205.7 422.4,203.7 423.9,201.7 425.4,199.5 426.9,197.3 428.4,195.0 429.9,192.7 431.4,190.2 432.9,187.7 434.4,185.1 435.9,182.4 437.4,179.7 438.9,176.8 440.4,173.9 441.9,170.9 443.4,167.8 444.9,164.7 446.4,161.5 447.9,158.2 449.4,154.9 450.9,151.5 452.4,148.0 453.9,144.5 455.4,141.0 456.9,137.4 458.4,133.8 459.9,130.1 461.4,126.5 462.9,122.7 464.4,119.0 465.9,115.3 467.4,111.6 468.9,107.9 470.4,104.1 471.9,100.5 473.4,96.8 474.9,93.2 476.4,89.6 477.9,86.0 479.4,82.5 480.9,79.1 482.4,75.7 483.9,72.4 485.4,69.2 486.9,66.1 488.4,63.1 489.9,60.2 491.4,57.4 492.9,54.7 494.4,52.2 495.9,49.8 497.4,47.5 498.9,45.3 500.4,43.4 501.9,41.5 503.4,39.9 504.9,38.3 506.4,37.0 507.9,35.8 509.4,34.8 510.9,34.0 512.4,33.4 513.9,32.9 515.4,32.6 516.9,32.5 518.4,32.6 519.9,32.8 521.4,33.2 522.9,33.8 524.4,34.5 525.9,35.3 527.4,36.4 528.9,37.6 530.4,38.9 531.9,40.4 533.4,42.0 534.9,43.8 536.4,45.7 537.9,47.7 539.4,49.9 540.9,52.2 542.4,54.6 543.9,57.1 545.4,59.7 546.9,62.5 548.4,65.3 549.9,68.2 551.4,71.2 552.9,74.3 554.4,77.4 555.9,80.7 557.4,83.9 558.9,87.3 560.4,90.6 561.9,94.0 563.4,97.5 564.9,101.0 566.4,104.4 567.9,108.0 569.4,111.5 570.9,115.0 572.4,118.5 573.9,122.0 575.4,125.6 576.9,129.0 578.4,132.5 579.9,135.9 581.4,139.3 582.9,142.7 584.4,146.1 585.9,149.3 587.4,152.6 588.9,155.8 590.4,158.9 591.9,162.0 593.4,165.0 594.9,168.0 596.4,170.9 597.9,173.7 599.4,176.5 600.9,179.2 602.4,181.8 603.9,184.4 605.4,186.9 606.9,189.3 608.4,191.6 609.9,193.9 611.4,196.1 612.9,198.2 614.4,200.3 615.9,202.3 617.4,204.2 618.9,206.0 620.4,207.8 621.9,209.5 623.4,211.1 624.9,212.7 626.4,214.2 627.9,215.6 629.4,217.0 630.9,218.3 632.4,219.6 633.9,220.8 635.4,221.9 636.9,223.0 638.4,224.0 639.9,225.0 641.4,225.9 642.9,226.8 644.4,227.6 645.9,228.4 647.4,229.2 648.9,229.9 650.4,230.5 651.9,231.2 653.4,231.8 654.9,232.3 656.4,232.8 657.9,233.3 659.4,233.8 660.9,234.2 662.4,234.6 663.9,235.0 665.4,235.4" fill="none" stroke="#5b6ef5" stroke-width="1.3"/>
<rect x="384.9" y="27.0" width="281.4" height="212.8" fill="none" stroke="#5b6ef5" stroke-width="2"/>
<line x1="384.90" y1="239.8" x2="384.90" y2="242.3" stroke="#5b6ef5" stroke-width="1.5"/>
<text x="384.90" y="253.6" font-family="Liberation Sans" font-weight="bold" font-size="10.6" fill="#5b6ef5" text-anchor="middle" transform="translate(384.90 0) scale(0.90 1) translate(-384.90 0)">0.0</text>
<line x1="448.85" y1="239.8" x2="448.85" y2="242.3" stroke="#5b6ef5" stroke-width="1.5"/>
<text x="448.85" y="253.6" font-family="Liberation Sans" font-weight="bold" font-size="10.6" fill="#5b6ef5" text-anchor="middle" transform="translate(448.85 0) scale(0.90 1) translate(-448.85 0)">0.5</text>
<line x1="512.80" y1="239.8" x2="512.80" y2="242.3" stroke="#5b6ef5" stroke-width="1.5"/>
<text x="512.80" y="253.6" font-family="Liberation Sans" font-weight="bold" font-size="10.6" fill="#5b6ef5" text-anchor="middle" transform="translate(512.80 0) scale(0.90 1) translate(-512.80 0)">1.0</text>
<line x1="576.75" y1="239.8" x2="576.75" y2="242.3" stroke="#5b6ef5" stroke-width="1.5"/>
<text x="576.75" y="253.6" font-family="Liberation Sans" font-weight="bold" font-size="10.6" fill="#5b6ef5" text-anchor="middle" transform="translate(576.75 0) scale(0.90 1) translate(-576.75 0)">1.5</text>
<line x1="640.70" y1="239.8" x2="640.70" y2="242.3" stroke="#5b6ef5" stroke-width="1.5"/>
<text x="640.70" y="253.6" font-family="Liberation Sans" font-weight="bold" font-size="10.6" fill="#5b6ef5" text-anchor="middle" transform="translate(640.70 0) scale(0.90 1) translate(-640.70 0)">2.0</text>
<text x="525.6" y="266.1" font-family="Liberation Serif" font-weight="bold" font-size="11.7" fill="#5b6ef5" text-anchor="middle">Grain size<tspan font-weight="normal" fill="#111">(</tspan>&#956;m<tspan font-weight="normal" fill="#111">)</tspan></text>
<rect x="540.5" y="32.2" width="120.0" height="13.6" fill="#c8c8c8"/>
<rect x="538.0" y="29.7" width="120.0" height="13.6" fill="#fff" stroke="#5b6ef5" stroke-width="1.2"/>
<text x="598.0" y="40.1" font-family="Liberation Serif" font-weight="bold" font-size="10.2" fill="#5b6ef5" text-anchor="middle" textLength="115.0" lengthAdjust="spacingAndGlyphs">Average grain size (1.043&#956;m)</text>
<line x1="595.7" y1="257.7" x2="672.3" y2="257.7" stroke="#fff" stroke-width="2.6"/>
<text x="634.0" y="268.0" font-family="Liberation Sans" font-weight="bold" font-size="8.3" fill="#f4f4f4" text-anchor="middle" transform="translate(634.0 0) scale(0.8 1) translate(-634.0 0)">2 &#956;m</text>
<text x="385.0" y="40.7" font-family="Liberation Serif" font-size="22.0" fill="#ff0000" textLength="27.1" lengthAdjust="spacingAndGlyphs">(b)</text></g>
<g><g clip-path="url(#cpc)"><g filter="url(#semblur)"><rect x="34.0" y="317.2" width="323.0" height="278.5" fill="#3a3a3a"/>
<path d="M182 518 195 507 194 504 183 504Z" fill="url(#g17)"/><path d="M267 331 259 333 255 343 265 350 270 343Z" fill="url(#g9)"/><path d="M117 562 108 551 103 554 103 567 106 569Z" fill="url(#g39)"/><path d="M283 491 280 488 270 486 266 491 268 498 281 496Z" fill="url(#g28)"/><path d="M214 506 213 511 224 515 225 507 217 503Z" fill="url(#g39)"/><path d="M61 435 58 431 48 443 51 445 52 444Z" fill="url(#g22)"/><path d="M63 596 72 594 71 580 65 577 59 593Z" fill="url(#g0)"/><path d="M27 542 19 546 24 564 38 565 43 554Z" fill="url(#g37)"/><path d="M36 516 27 507 16 512 30 532 33 530Z" fill="url(#g39)"/><path d="M123 424 120 425 119 437 126 447 132 445 137 439 133 426Z" fill="url(#g8)"/><path d="M196 308 191 316 199 327 207 323 204 310Z" fill="url(#g23)"/><path d="M56 429 56 427 48 423 46 440Z" fill="url(#g38)"/><path d="M62 404 62 391 55 386 43 398 53 405Z" fill="url(#g6)"/><path d="M246 343 241 335 232 340 231 345 242 348Z" fill="url(#g23)"/><path d="M82 558 83 550 81 544 58 547 56 551 64 564Z" fill="url(#g25)"/><path d="M161 425 150 429 147 437 154 440 162 431Z" fill="url(#g36)"/><path d="M235 459 239 457 241 453 236 439 229 443Z" fill="url(#g20)"/><path d="M140 404 139 416 141 418 143 418 149 414Z" fill="url(#g18)"/><path d="M282 526 284 523 281 513 268 512 266 516Z" fill="url(#g25)"/><path d="M51 360 47 358 40 372 53 377 55 375Z" fill="url(#g9)"/><path d="M141 475 146 459 133 447 126 449 123 454 123 463 128 471Z" fill="url(#g14)"/><path d="M306 441 305 442 311 457 318 459 319 443 312 440Z" fill="url(#g12)"/><path d="M175 452 173 453 168 477 181 478 188 462 183 456Z" fill="url(#g37)"/><path d="M90 442 98 441 100 437 97 429 87 432Z" fill="url(#g19)"/><path d="M148 562 158 564 161 562 167 541 161 537 143 546Z" fill="url(#g7)"/><path d="M30 465 24 477 36 490 47 482 46 471 42 466Z" fill="url(#g6)"/><path d="M83 540 90 533 90 519 70 523Z" fill="url(#g30)"/><path d="M140 491 131 497 137 510 147 515 151 514 153 511Z" fill="url(#g9)"/><path d="M34 442 26 427 2 436 30 446Z" fill="url(#g20)"/><path d="M87 380 77 384 77 386 82 391 90 392 93 389Z" fill="url(#g12)"/><path d="M133 358 139 357 143 346 140 339 136 341 130 353Z" fill="url(#g27)"/><path d="M282 599 283 603 306 609 309 604 305 591 298 588 283 596Z" fill="url(#g11)"/><path d="M316 400 303 391 296 396 299 408 306 413 311 413Z" fill="url(#g38)"/><path d="M26 504 34 493 21 479 -64 498 14 509Z" fill="url(#g15)"/><path d="M145 563 140 546 138 544 128 546 125 562 130 568 136 570Z" fill="url(#g18)"/><path d="M328 501 312 498 310 499 309 504 326 511 332 507Z" fill="url(#g29)"/><path d="M84 455 81 466 92 464 93 458Z" fill="url(#g8)"/><path d="M182 502 192 501 187 483 183 481 180 500Z" fill="url(#g33)"/><path d="M355 350 343 345 340 347 343 365 344 365Z" fill="url(#g14)"/><path d="M135 572 130 570 114 581 116 586 125 589 135 584Z" fill="url(#g39)"/><path d="M202 528 209 526 208 516 201 515 199 520Z" fill="url(#g0)"/><path d="M289 363 266 353 259 365 268 371 284 369Z" fill="url(#g38)"/><path d="M102 366 106 386 108 387 117 379 117 371 106 363Z" fill="url(#g7)"/><path d="M260 522 268 533 282 530 282 529 265 519Z" fill="url(#g11)"/><path d="M50 594 57 593 63 576 62 574 43 578 42 582Z" fill="url(#g39)"/><path d="M172 363 158 365 156 373 157 377 165 383 177 383 179 382 175 364Z" fill="url(#g7)"/><path d="M218 501 226 504 234 498 235 496 229 487 218 495Z" fill="url(#g8)"/><path d="M300 433 299 426 293 426 294 432Z" fill="url(#g27)"/><path d="M209 596 219 601 222 600 236 585 221 575 218 575 211 580Z" fill="url(#g25)"/><path d="M311 495 319 481 313 476 306 479 304 491 309 497Z" fill="url(#g36)"/><path d="M128 409 137 414 138 404 132 402Z" fill="url(#g23)"/><path d="M294 475 291 469 283 471 282 486 285 489 288 488Z" fill="url(#g19)"/><path d="M351 572 359 569 362 564 353 552 351 552 347 557 350 570Z" fill="url(#g39)"/><path d="M359 595 348 581 340 586 343 600 349 601Z" fill="url(#g33)"/><path d="M189 569 209 578 216 573 209 555 191 561Z" fill="url(#g11)"/><path d="M158 330 153 312 144 312 137 320 142 334Z" fill="url(#g17)"/><path d="M133 386 130 396 132 400 139 401 146 396 145 390Z" fill="url(#g22)"/><path d="M359 514 347 518 346 527 355 531 363 526Z" fill="url(#g8)"/><path d="M212 504 215 501 215 495 206 489 202 499Z" fill="url(#g34)"/><path d="M63 465 62 459 53 454 45 465 48 468Z" fill="url(#g23)"/><path d="M265 418 264 419 275 434 281 420 281 419 270 416Z" fill="url(#g9)"/><path d="M99 426 110 420 106 410 99 411 97 422Z" fill="url(#g39)"/><path d="M126 523 137 525 144 517 136 513 126 516Z" fill="url(#g5)"/><path d="M51 337 65 337 68 328 57 320 54 320 53 320 48 332Z" fill="url(#g27)"/><path d="M124 524 123 515 111 504 105 509 115 531Z" fill="url(#g19)"/><path d="M286 521 302 515 303 508 286 505 284 512Z" fill="url(#g17)"/><path d="M171 345 174 361 176 362 184 356 186 349 180 343Z" fill="url(#g0)"/><path d="M268 393 267 392 255 391 248 397 249 403 258 405Z" fill="url(#g14)"/><path d="M104 389 96 391 92 394 94 406 98 408 106 407 108 404 109 395 107 390Z" fill="url(#g27)"/><path d="M135 383 146 388 155 378 153 375 138 375Z" fill="url(#g31)"/><path d="M82 447 88 443 84 432 83 432 82 432 78 437 78 443Z" fill="url(#g6)"/><path d="M82 604 91 599 92 589 86 589 79 598Z" fill="url(#g24)"/><path d="M196 534 200 529 197 522 183 523 183 524Z" fill="url(#g28)"/><path d="M66 445 54 446 52 447 53 451 63 456 65 454Z" fill="url(#g14)"/><path d="M223 573 239 584 249 572 248 560 233 558Z" fill="url(#g37)"/><path d="M104 452 121 452 123 448 117 438 102 439 100 442Z" fill="url(#g20)"/><path d="M333 568 333 558 329 555 321 558 328 572Z" fill="url(#g10)"/><path d="M80 468 81 470 96 471 93 466Z" fill="url(#g7)"/><path d="M300 423 304 416 303 415 288 421 291 424Z" fill="url(#g34)"/><path d="M259 521 264 517 266 511 264 503 255 504 249 514Z" fill="url(#g32)"/><path d="M264 416 269 414 272 399 269 395 260 406Z" fill="url(#g31)"/><path d="M272 394 274 398 283 401 292 395 283 389Z" fill="url(#g36)"/><path d="M196 422 210 408 210 405 197 396 190 406Z" fill="url(#g14)"/><path d="M139 335 134 321 128 321 122 328 123 334 134 338Z" fill="url(#g14)"/><path d="M82 473 82 483 83 484 85 485 100 480 100 476 97 474Z" fill="url(#g29)"/><path d="M319 398 327 371 325 370 305 382 304 389 318 398Z" fill="url(#g38)"/><path d="M347 482 351 494 362 498 368 487 364 480Z" fill="url(#g26)"/><path d="M155 589 160 582 157 567 147 565 137 572 138 584 146 593Z" fill="url(#g16)"/><path d="M355 397 355 392 349 392 339 407 341 411 346 410Z" fill="url(#g37)"/><path d="M48 505 59 504 59 500 46 500Z" fill="url(#g7)"/><path d="M328 497 329 491 320 484 315 495Z" fill="url(#g25)"/><path d="M306 439 311 438 316 421 312 415 306 416 302 424 303 435Z" fill="url(#g2)"/><path d="M224 366 219 372 229 389 230 389 247 369Z" fill="url(#g13)"/><path d="M152 413 162 423 165 420 170 408 159 403Z" fill="url(#g16)"/><path d="M150 414 145 419 149 427 159 423Z" fill="url(#g32)"/><path d="M323 346 309 334 297 350 297 354 320 360Z" fill="url(#g14)"/><path d="M74 374 76 381 86 377 79 370Z" fill="url(#g6)"/><path d="M24 566 24 579 40 580 42 577 38 567Z" fill="url(#g30)"/><path d="M346 569 344 559 336 559 336 567Z" fill="url(#g14)"/><path d="M140 542 141 543 158 534 151 517 147 518 139 527Z" fill="url(#g17)"/><path d="M106 330 103 340 105 342 115 341 120 334 118 329 111 327Z" fill="url(#g35)"/><path d="M350 574 348 572 334 569 329 575 327 580 330 583 338 585 348 579Z" fill="url(#g0)"/><path d="M87 572 79 579 86 587 92 586 93 586Z" fill="url(#g23)"/><path d="M81 542 67 523 57 535 59 545Z" fill="url(#g32)"/><path d="M106 344 107 360 123 352 115 343Z" fill="url(#g32)"/><path d="M74 388 65 392 66 404 73 405 79 393Z" fill="url(#g2)"/><path d="M344 483 332 491 331 499 335 506 348 495Z" fill="url(#g1)"/><path d="M45 516 39 517 37 529 46 529Z" fill="url(#g26)"/><path d="M200 436 210 453 212 453 219 442 215 434 200 433Z" fill="url(#g1)"/><path d="M211 506 201 501 197 504 197 507 201 513 208 513 210 512Z" fill="url(#g27)"/><path d="M303 444 296 450 294 455 296 460 302 461 309 457Z" fill="url(#g16)"/><path d="M253 442 239 439 243 451 251 446Z" fill="url(#g1)"/><path d="M253 425 254 423 244 414 237 416 234 423 237 428Z" fill="url(#g34)"/><path d="M160 453 156 457 165 475 170 453Z" fill="url(#g25)"/><path d="M282 386 283 371 269 374 269 390 270 391Z" fill="url(#g26)"/><path d="M341 452 349 459 363 448 356 438 341 450Z" fill="url(#g8)"/><path d="M325 524 331 534 334 535 343 527 343 518 335 510 328 515Z" fill="url(#g23)"/><path d="M166 423 163 424 164 431 175 437 181 429Z" fill="url(#g39)"/><path d="M255 551 247 539 239 536 234 536 227 544 233 555 249 557Z" fill="url(#g32)"/><path d="M325 343 336 327 334 322 325 319 311 332Z" fill="url(#g35)"/><path d="M39 329 32 318 26 322 24 332Z" fill="url(#g23)"/><path d="M49 517 49 530 55 532 65 521 64 517Z" fill="url(#g3)"/><path d="M95 588 94 588 93 599 101 603 105 601 106 600Z" fill="url(#g19)"/><path d="M205 371 185 358 177 364 182 382 193 384Z" fill="url(#g38)"/><path d="M277 436 281 437 291 432 290 425 286 422 283 421Z" fill="url(#g0)"/><path d="M212 403 223 397 227 391 216 373 207 372 194 385 197 394Z" fill="url(#g33)"/><path d="M85 321 98 322 100 312 90 310Z" fill="url(#g8)"/><path d="M362 406 357 399 348 411 358 415Z" fill="url(#g24)"/><path d="M109 599 123 605 124 591 116 588Z" fill="url(#g26)"/><path d="M227 517 242 514 235 500 227 506Z" fill="url(#g37)"/><path d="M187 547 196 538 195 536 181 527 170 540Z" fill="url(#g16)"/><path d="M330 537 316 543 314 555 318 555 328 552 332 538Z" fill="url(#g6)"/><path d="M128 412 125 421 134 423 138 419 137 417Z" fill="url(#g14)"/><path d="M202 347 199 345 188 349 186 357 204 368Z" fill="url(#g38)"/><path d="M234 462 235 475 250 476 253 471 252 466 240 459Z" fill="url(#g32)"/><path d="M138 372 153 372 155 365 141 360 134 362 133 363Z" fill="url(#g32)"/><path d="M145 481 142 489 155 509 158 508 162 502 162 482Z" fill="url(#g23)"/><path d="M63 468 49 471 50 481 58 483 62 479Z" fill="url(#g10)"/><path d="M365 528 357 533 360 542 366 542 368 529Z" fill="url(#g20)"/><path d="M100 429 102 436 117 436 118 425 112 422Z" fill="url(#g31)"/><path d="M35 533 30 536 29 540 44 552 54 549 56 546 54 535 47 532Z" fill="url(#g2)"/><path d="M249 366 256 365 263 352 254 344 249 345 244 351Z" fill="url(#g27)"/><path d="M216 478 209 479 206 484 206 486 217 493 227 485 227 482Z" fill="url(#g18)"/><path d="M234 415 224 399 213 406 213 408 222 422 232 422Z" fill="url(#g0)"/><path d="M126 410 110 406 109 409 113 420 119 423 122 422Z" fill="url(#g6)"/><path d="M198 439 186 454 190 460 199 460 207 454Z" fill="url(#g22)"/><path d="M65 420 73 424 79 412 73 408 66 407Z" fill="url(#g16)"/><path d="M89 395 82 394 76 406 81 410 90 406Z" fill="url(#g3)"/><path d="M150 412 157 403 148 398 141 403Z" fill="url(#g14)"/><path d="M124 513 134 510 128 498 114 499 113 502Z" fill="url(#g21)"/><path d="M143 476 144 479 164 479 154 458 148 460Z" fill="url(#g26)"/><path d="M233 314 244 325 249 324 256 314 247 305Z" fill="url(#g17)"/><path d="M266 329 263 316 257 316 251 325 258 330Z" fill="url(#g6)"/><path d="M88 568 101 566 102 554 85 551 84 558Z" fill="url(#g35)"/><path d="M76 442 76 438 69 435 67 436 69 441Z" fill="url(#g6)"/><path d="M110 577 112 578 127 569 123 564 119 564 108 571Z" fill="url(#g5)"/><path d="M100 364 106 361 104 344 101 341 90 341 86 345 90 359Z" fill="url(#g29)"/><path d="M245 513 247 513 252 504 247 495 237 498 237 498Z" fill="url(#g2)"/><path d="M213 454 219 459 233 460 227 444 221 443Z" fill="url(#g28)"/><path d="M194 425 187 407 177 409 186 426Z" fill="url(#g0)"/><path d="M268 536 258 550 271 554 274 553 282 533Z" fill="url(#g20)"/><path d="M95 464 99 471 101 473 102 471 102 456 95 459Z" fill="url(#g12)"/><path d="M291 466 293 461 292 456 274 454 273 455 276 466 282 469Z" fill="url(#g4)"/><path d="M262 492 253 489 250 493 255 502 264 501 264 500Z" fill="url(#g8)"/><path d="M272 413 281 416 283 413 282 404 274 401Z" fill="url(#g10)"/><path d="M335 538 331 553 335 556 345 556 348 551Z" fill="url(#g21)"/><path d="M350 333 344 332 344 343 353 346Z" fill="url(#g24)"/><path d="M319 422 314 438 320 441 329 439 331 425Z" fill="url(#g11)"/><path d="M120 379 132 383 135 374 131 365 119 371Z" fill="url(#g36)"/><path d="M117 342 125 351 127 352 133 340 122 336Z" fill="url(#g38)"/><path d="M45 555 40 566 44 575 61 572 62 566 54 552Z" fill="url(#g14)"/><path d="M159 451 154 442 146 438 139 440 134 446 147 458 154 456Z" fill="url(#g24)"/><path d="M238 605 247 597 239 586 226 601Z" fill="url(#g5)"/><path d="M65 371 64 357 54 360 58 373Z" fill="url(#g28)"/><path d="M341 600 338 587 330 585 325 602 332 607Z" fill="url(#g7)"/><path d="M347 479 364 477 362 468 350 464Z" fill="url(#g23)"/><path d="M157 363 156 353 146 348 142 358Z" fill="url(#g3)"/><path d="M350 550 353 549 357 544 354 533 345 529 336 537Z" fill="url(#g18)"/><path d="M218 573 221 572 231 557 224 544 220 544 213 547 210 554Z" fill="url(#g12)"/><path d="M104 455 105 470 121 462 121 455Z" fill="url(#g16)"/><path d="M351 330 360 325 359 322 347 313 345 313 336 321 339 326 343 330Z" fill="url(#g19)"/><path d="M226 352 225 363 246 365 241 352 230 348Z" fill="url(#g9)"/><path d="M326 574 318 559 312 558 309 566 317 579 325 579Z" fill="url(#g22)"/><path d="M238 436 254 440 255 439 253 427 238 430Z" fill="url(#g15)"/><path d="M143 420 141 420 135 426 140 438 145 436 148 428Z" fill="url(#g26)"/><path d="M48 595 41 585 33 593 34 598 48 596Z" fill="url(#g6)"/><path d="M207 478 199 462 190 462 184 479 188 482 204 483Z" fill="url(#g7)"/><path d="M326 581 316 581 307 591 311 603 323 602 328 584Z" fill="url(#g32)"/><path d="M212 456 210 456 202 462 209 477 215 475 217 461Z" fill="url(#g36)"/><path d="M320 400 319 401 313 414 318 419 333 422 335 421 339 412 336 408 328 402Z" fill="url(#g31)"/><path d="M312 474 317 461 311 459 304 462Z" fill="url(#g16)"/><path d="M87 423 85 430 95 427 94 424Z" fill="url(#g33)"/><path d="M311 555 312 542 306 535 296 539 299 549Z" fill="url(#g16)"/><path d="M191 559 208 554 211 547 197 540 188 549Z" fill="url(#g4)"/><path d="M259 596 262 580 251 575 242 585 250 596 255 598Z" fill="url(#g13)"/><path d="M256 420 261 418 262 417 257 408 250 405 247 412Z" fill="url(#g11)"/><path d="M113 324 119 325 125 319 119 311 113 315Z" fill="url(#g20)"/><path d="M243 326 232 316 223 326 231 337 241 332Z" fill="url(#g27)"/><path d="M76 578 87 569 82 559 64 566 63 573 65 576 72 579Z" fill="url(#g8)"/><path d="M92 408 82 413 87 420 94 421 96 410Z" fill="url(#g2)"/><path d="M250 371 256 389 266 390 266 373 257 367 250 369Z" fill="url(#g12)"/><path d="M221 542 224 542 232 534 226 520 215 528Z" fill="url(#g17)"/><path d="M293 571 306 564 309 558 297 552 289 558Z" fill="url(#g8)"/><path d="M295 393 303 389 303 381 290 367 286 370 284 386Z" fill="url(#g30)"/><path d="M303 440 301 437 292 435 285 438 295 447Z" fill="url(#g29)"/><path d="M244 411 248 403 246 397 231 391 228 392 225 397 236 414Z" fill="url(#g37)"/><path d="M49 447 43 443 37 443 32 449 31 462 42 463 50 451Z" fill="url(#g11)"/><path d="M160 401 171 406 176 386 166 386Z" fill="url(#g20)"/><path d="M232 462 220 461 218 475 228 480 233 476Z" fill="url(#g6)"/><path d="M344 367 333 371 340 386 348 390 356 390 356 375Z" fill="url(#g6)"/><path d="M322 398 328 399 338 387 331 372 329 372Z" fill="url(#g18)"/><path d="M126 604 144 597 144 596 136 587 127 591Z" fill="url(#g35)"/><path d="M266 534 258 522 249 537 256 548Z" fill="url(#g6)"/><path d="M83 323 78 323 71 328 67 339 72 345 85 344 88 340Z" fill="url(#g11)"/><path d="M71 432 76 435 79 431 73 427Z" fill="url(#g21)"/><path d="M322 522 324 514 307 507 305 516 309 524Z" fill="url(#g22)"/><path d="M181 591 180 586 162 584 158 591 166 598Z" fill="url(#g18)"/><path d="M135 318 141 310 135 299 121 306 121 308 128 317Z" fill="url(#g39)"/><path d="M255 442 253 447 257 459 265 454Z" fill="url(#g10)"/><path d="M80 363 88 359 84 347 73 348 71 352Z" fill="url(#g27)"/><path d="M183 591 187 595 207 595 208 580 189 571 182 585Z" fill="url(#g9)"/><path d="M351 461 362 465 368 457 365 451Z" fill="url(#g26)"/><path d="M258 441 268 453 271 453 272 452 275 438 274 437Z" fill="url(#g11)"/><path d="M307 526 303 518 287 524 285 531 294 536 305 532Z" fill="url(#g37)"/><path d="M256 474 252 478 253 485 263 488 268 483 265 475Z" fill="url(#g11)"/><path d="M68 444 68 453 81 450 76 444Z" fill="url(#g29)"/><path d="M160 332 164 341 170 343 179 341 179 332 175 326Z" fill="url(#g8)"/><path d="M81 416 75 424 82 429 84 421Z" fill="url(#g0)"/><path d="M63 506 65 512 75 506 73 495 63 496 62 499Z" fill="url(#g35)"/><path d="M255 465 256 470 265 472 273 466 271 456 267 456 258 462Z" fill="url(#g3)"/><path d="M172 409 167 420 183 427 173 409Z" fill="url(#g23)"/><path d="M362 501 350 496 338 508 346 516 359 512 362 506Z" fill="url(#g25)"/><path d="M249 342 253 341 256 332 249 327 245 327 243 333Z" fill="url(#g28)"/><path d="M204 347 206 370 207 370 216 371 222 364 224 351 212 345Z" fill="url(#g19)"/><path d="M140 478 128 473 113 491 115 496 129 495 140 488 142 480Z" fill="url(#g36)"/><path d="M68 370 71 371 77 366 69 354 67 356Z" fill="url(#g6)"/><path d="M294 449 281 438 277 438 275 452 292 454Z" fill="url(#g10)"/><path d="M325 345 323 362 326 368 329 370 331 370 341 366 338 347Z" fill="url(#g19)"/><path d="M243 516 229 520 234 533 239 533Z" fill="url(#g32)"/><path d="M214 343 224 349 228 346 229 339 221 328 218 329Z" fill="url(#g31)"/><path d="M353 332 356 348 357 348 364 347 365 330 362 328Z" fill="url(#g19)"/><path d="M112 489 126 471 122 464 104 473 103 475 103 481Z" fill="url(#g4)"/><path d="M96 584 107 578 105 571 102 568 90 570Z" fill="url(#g17)"/><path d="M103 313 101 323 105 327 110 325 109 315Z" fill="url(#g28)"/><path d="M67 373 58 376 55 380 56 384 64 390 74 385 74 383 71 374Z" fill="url(#g21)"/><path d="M362 594 368 582 359 572 351 575 350 580 361 594Z" fill="url(#g15)"/><path d="M255 426 257 438 271 434 262 421 257 424Z" fill="url(#g12)"/><path d="M64 354 68 351 69 346 65 341 52 340 49 355 53 357Z" fill="url(#g31)"/><path d="M180 584 187 570 163 564 159 566 162 582Z" fill="url(#g9)"/><path d="M70 306 78 320 82 320 87 308 85 303 83 300Z" fill="url(#g3)"/><path d="M306 333 294 320 288 320 284 326 286 340 295 347Z" fill="url(#g33)"/><path d="M108 361 118 368 130 362 131 361 127 354 125 354Z" fill="url(#g38)"/><path d="M177 607 183 603 184 597 182 593 167 600 168 605Z" fill="url(#g14)"/><path d="M320 462 316 474 320 478 329 472 328 463Z" fill="url(#g10)"/><path d="M46 355 49 339 47 337 30 349Z" fill="url(#g3)"/><path d="M122 561 125 545 114 539 109 549 119 561Z" fill="url(#g10)"/><path d="M68 308 59 318 70 326 76 321Z" fill="url(#g8)"/><path d="M97 587 107 598 113 587 111 582 108 580Z" fill="url(#g5)"/><path d="M114 533 103 510 95 512 93 518 93 532 112 537Z" fill="url(#g29)"/><path d="M48 514 48 514 63 515 64 513 61 508 48 509Z" fill="url(#g24)"/><path d="M64 481 60 485 63 494 73 493 80 485Z" fill="url(#g11)"/><path d="M283 593 296 586 292 573 277 578Z" fill="url(#g9)"/><path d="M161 610 165 606 164 600 156 593 147 596 148 602Z" fill="url(#g21)"/><path d="M53 380 37 374 36 374 33 391 36 397 40 397 54 384Z" fill="url(#g4)"/><path d="M273 578 266 581 262 595 280 597 280 596Z" fill="url(#g11)"/><path d="M107 549 111 539 92 535 83 543 85 549 102 552Z" fill="url(#g23)"/><path d="M272 575 270 557 257 553 251 559 251 572 265 578Z" fill="url(#g16)"/><path d="M357 418 347 413 341 414 339 421 356 433 358 420Z" fill="url(#g9)"/><path d="M281 510 283 503 282 500 267 502 266 503 268 510Z" fill="url(#g1)"/><path d="M265 315 268 329 282 324 286 319 280 313Z" fill="url(#g28)"/><path d="M341 332 338 330 328 343 338 345 341 343Z" fill="url(#g9)"/><path d="M180 524 180 521 159 511 156 512 154 515 162 534 168 537Z" fill="url(#g17)"/><path d="M275 576 291 571 287 558 275 555 272 557Z" fill="url(#g39)"/><path d="M119 382 110 389 112 393 128 394 130 386Z" fill="url(#g3)"/><path d="M331 400 337 405 346 392 340 388Z" fill="url(#g33)"/><path d="M157 400 163 385 156 380 148 390 149 395Z" fill="url(#g0)"/><path d="M294 355 294 350 284 342 272 344 268 350 290 361Z" fill="url(#g32)"/><path d="M38 493 44 497 60 497 61 495 57 486 49 484Z" fill="url(#g4)"/><path d="M187 404 195 394 192 386 181 384 179 385 174 406Z" fill="url(#g24)"/><path d="M126 406 129 401 128 398 112 397 112 403Z" fill="url(#g5)"/><path d="M42 440 45 423 31 421 29 425 37 440Z" fill="url(#g16)"/><path d="M323 525 309 526 307 533 315 540 328 534Z" fill="url(#g7)"/><path d="M104 329 99 324 85 323 91 340 101 339Z" fill="url(#g7)"/><path d="M269 331 272 341 283 340 281 327Z" fill="url(#g39)"/><path d="M297 473 305 476 309 474 301 463 295 463 293 467Z" fill="url(#g19)"/><path d="M43 358 26 351 27 368 35 372 36 371Z" fill="url(#g9)"/><path d="M38 312 33 316 42 329 46 331 51 320Z" fill="url(#g6)"/><path d="M285 411 295 408 293 399 285 404Z" fill="url(#g33)"/><path d="M181 333 181 341 187 347 198 343 197 332Z" fill="url(#g27)"/><path d="M66 464 78 466 82 454 81 452 67 456 65 458Z" fill="url(#g26)"/><path d="M164 343 158 352 159 362 172 361 169 345Z" fill="url(#g38)"/><path d="M65 442 64 437 58 443Z" fill="url(#g13)"/><path d="M51 307 42 303 39 310 52 318Z" fill="url(#g13)"/><path d="M285 534 277 554 287 557 296 550 293 539Z" fill="url(#g25)"/><path d="M65 434 68 432 70 426 64 423 59 426 60 428Z" fill="url(#g18)"/><path d="M161 328 175 324 177 319 172 311 155 311Z" fill="url(#g16)"/><path d="M334 319 342 312 332 295 323 308 326 316Z" fill="url(#g35)"/><path d="M296 476 290 488 302 491 304 478Z" fill="url(#g1)"/><path d="M253 463 255 460 251 449 243 454 242 457Z" fill="url(#g34)"/><path d="M344 481 332 474 321 481 331 489Z" fill="url(#g36)"/><path d="M200 430 215 431 219 424 211 411 197 426Z" fill="url(#g5)"/><path d="M249 478 234 477 230 482 230 485 236 495 247 493 251 487Z" fill="url(#g35)"/><path d="M371 560 374 557 373 554 369 547 367 546 359 546 356 550 365 562Z" fill="url(#g4)"/><path d="M125 526 116 534 115 537 127 543 137 542 136 527Z" fill="url(#g23)"/><path d="M83 449 84 453 94 457 102 453 98 443 89 444Z" fill="url(#g36)"/><path d="M198 536 199 538 212 544 217 542 212 529 211 528 202 531Z" fill="url(#g39)"/><path d="M46 334 45 333 41 331 23 335 22 337 26 348Z" fill="url(#g25)"/><path d="M82 487 75 494 78 505 90 507 84 488Z" fill="url(#g18)"/><path d="M66 466 65 479 79 482 79 471 78 468Z" fill="url(#g27)"/><path d="M336 423 335 424 332 440 339 447 354 436Z" fill="url(#g21)"/><path d="M110 501 112 497 110 491 101 483 87 488 93 508 95 510 103 508Z" fill="url(#g15)"/><path d="M174 440 163 434 157 441 161 449 171 450 174 449Z" fill="url(#g33)"/><path d="M68 521 90 516 93 511 91 510 77 507 66 514 67 520Z" fill="url(#g25)"/><path d="M182 521 197 519 200 514 196 509Z" fill="url(#g4)"/><path d="M321 364 296 357 291 365 304 379 323 368Z" fill="url(#g8)"/><path d="M279 484 280 471 275 468 268 474 271 482Z" fill="url(#g39)"/><path d="M166 480 165 481 165 501 178 500 181 481Z" fill="url(#g37)"/><path d="M179 518 180 503 179 502 165 503 161 509Z" fill="url(#g2)"/><path d="M255 522 246 516 242 533 247 535Z" fill="url(#g0)"/><path d="M347 463 339 456 332 462 333 471 344 477Z" fill="url(#g22)"/><path d="M204 344 211 342 214 328 208 326 200 330 200 342Z" fill="url(#g4)"/><path d="M74 594 78 597 84 589 76 580 73 580Z" fill="url(#g13)"/><path d="M40 581 24 581 17 587 31 591Z" fill="url(#g18)"/><path d="M57 424 63 420 64 407 64 406 53 408 49 421Z" fill="url(#g21)"/><path d="M187 568 189 561 186 551 171 544 165 562Z" fill="url(#g6)"/><path d="M143 337 146 345 156 350 162 342 158 333Z" fill="url(#g11)"/><path d="M45 513 46 507 42 499 36 494 28 505 38 514Z" fill="url(#g10)"/><path d="M234 390 247 395 253 389 248 374Z" fill="url(#g28)"/><path d="M212 514 210 515 212 526 214 527 224 518Z" fill="url(#g30)"/><path d="M90 361 80 367 88 375 98 365Z" fill="url(#g36)"/><path d="M347 366 357 373 382 363 365 350 357 351Z" fill="url(#g39)"/><path d="M197 436 198 432 194 428 185 428 184 429 177 439 176 450 184 453Z" fill="url(#g23)"/><path d="M294 573 298 586 306 589 315 580 307 567Z" fill="url(#g9)"/><path d="M289 490 285 491 284 498 286 503 305 506 307 498 302 492Z" fill="url(#g15)"/><path d="M207 309 209 323 217 326 221 325 230 314 220 301Z" fill="url(#g2)"/><path d="M217 433 221 441 227 442 236 437 236 430 232 424 222 425Z" fill="url(#g33)"/><path d="M283 418 284 419 286 420 301 414 297 410 285 414Z" fill="url(#g20)"/><path d="M51 408 39 399 36 400 30 409 32 417 47 420Z" fill="url(#g11)"/><path d="M329 460 338 453 338 449 330 442 321 443 320 459Z" fill="url(#g14)"/><path d="M100 367 89 377 96 388 103 386Z" fill="url(#g19)"/><path d="M181 330 196 329 196 329 188 318 179 320 177 324Z" fill="url(#g17)"/><path d="M204 487 203 485 190 484 194 501 195 501 200 499Z" fill="url(#g27)"/><path d="M309 332 323 317 320 309 305 303 296 318Z" fill="url(#g16)"/></g></g>
<rect x="72.69" y="544.80" width="26.69" height="2.40" fill="#bec2fa"/>
<rect x="73.69" y="545.80" width="24.69" height="1.40" fill="url(#hatc)"/>
<rect x="99.38" y="490.10" width="26.69" height="57.10" fill="#bec2fa"/>
<rect x="100.38" y="491.10" width="24.69" height="56.10" fill="url(#hatc)"/>
<rect x="126.07" y="418.00" width="26.69" height="129.20" fill="#bec2fa"/>
<rect x="127.07" y="419.00" width="24.69" height="128.20" fill="url(#hatc)"/>
<rect x="152.76" y="343.20" width="26.69" height="204.00" fill="#bec2fa"/>
<rect x="153.76" y="344.20" width="24.69" height="203.00" fill="url(#hatc)"/>
<rect x="179.45" y="487.90" width="26.69" height="59.30" fill="#bec2fa"/>
<rect x="180.45" y="488.90" width="24.69" height="58.30" fill="url(#hatc)"/>
<rect x="206.14" y="493.60" width="26.69" height="53.60" fill="#bec2fa"/>
<rect x="207.14" y="494.60" width="24.69" height="52.60" fill="url(#hatc)"/>
<rect x="232.83" y="519.00" width="26.69" height="28.20" fill="#bec2fa"/>
<rect x="233.83" y="520.00" width="24.69" height="27.20" fill="url(#hatc)"/>
<rect x="259.52" y="540.40" width="26.69" height="6.80" fill="#bec2fa"/>
<rect x="260.52" y="541.40" width="24.69" height="5.80" fill="url(#hatc)"/>
<rect x="286.21" y="541.30" width="26.69" height="5.90" fill="#bec2fa"/>
<rect x="287.21" y="542.30" width="24.69" height="4.90" fill="url(#hatc)"/>
<rect x="72.69" y="544.80" width="26.69" height="2.40" fill="none" stroke="#5b6ef5" stroke-width="1.9"/>
<rect x="99.38" y="490.10" width="26.69" height="57.10" fill="none" stroke="#5b6ef5" stroke-width="1.9"/>
<rect x="126.07" y="418.00" width="26.69" height="129.20" fill="none" stroke="#5b6ef5" stroke-width="1.9"/>
<rect x="152.76" y="343.20" width="26.69" height="204.00" fill="none" stroke="#5b6ef5" stroke-width="1.9"/>
<rect x="179.45" y="487.90" width="26.69" height="59.30" fill="none" stroke="#5b6ef5" stroke-width="1.9"/>
<rect x="206.14" y="493.60" width="26.69" height="53.60" fill="none" stroke="#5b6ef5" stroke-width="1.9"/>
<rect x="232.83" y="519.00" width="26.69" height="28.20" fill="none" stroke="#5b6ef5" stroke-width="1.9"/>
<rect x="259.52" y="540.40" width="26.69" height="6.80" fill="none" stroke="#5b6ef5" stroke-width="1.9"/>
<rect x="286.21" y="541.30" width="26.69" height="5.90" fill="none" stroke="#5b6ef5" stroke-width="1.9"/>
<polyline points="46.1,545.8 47.6,545.6 49.1,545.4 50.6,545.2 52.1,544.9 53.6,544.6 55.1,544.3 56.6,544.0 58.1,543.6 59.6,543.2 61.1,542.7 62.6,542.2 64.1,541.7 65.6,541.1 67.1,540.4 68.6,539.7 70.1,538.9 71.6,538.0 73.1,537.1 74.6,536.1 76.1,535.0 77.6,533.8 79.1,532.6 80.6,531.2 82.1,529.8 83.6,528.2 85.1,526.5 86.6,524.8 88.1,522.9 89.6,520.9 91.1,518.7 92.6,516.5 94.1,514.1 95.6,511.5 97.1,508.9 98.6,506.1 100.1,503.1 101.6,500.1 103.1,496.8 104.6,493.5 106.1,490.0 107.6,486.4 109.1,482.6 110.6,478.8 112.1,474.8 113.6,470.6 115.1,466.4 116.6,462.1 118.1,457.6 119.6,453.1 121.1,448.5 122.6,443.9 124.1,439.1 125.6,434.4 127.1,429.6 128.6,424.8 130.1,419.9 131.6,415.1 133.1,410.3 134.6,405.6 136.1,400.9 137.6,396.3 139.1,391.8 140.6,387.4 142.1,383.1 143.6,379.0 145.1,375.0 146.6,371.1 148.1,367.5 149.6,364.1 151.1,360.9 152.6,357.9 154.1,355.2 155.6,352.7 157.1,350.5 158.6,348.6 160.1,346.9 161.6,345.6 163.1,344.5 164.6,343.8 166.1,343.3 167.6,343.2 169.1,343.4 170.6,343.8 172.1,344.5 173.6,345.4 175.1,346.7 176.6,348.2 178.1,349.9 179.6,351.9 181.1,354.1 182.6,356.6 184.1,359.3 185.6,362.1 187.1,365.2 188.6,368.5 190.1,372.0 191.6,375.6 193.1,379.3 194.6,383.2 196.1,387.3 197.6,391.4 199.1,395.6 200.6,399.9 202.1,404.3 203.6,408.8 205.1,413.2 206.6,417.7 208.1,422.3 209.6,426.8 211.1,431.3 212.6,435.8 214.1,440.3 215.6,444.7 217.1,449.1 218.6,453.4 220.1,457.6 221.6,461.8 223.1,465.9 224.6,469.9 226.1,473.7 227.6,477.5 229.1,481.2 230.6,484.8 232.1,488.2 233.6,491.6 235.1,494.8 236.6,497.9 238.1,500.9 239.6,503.7 241.1,506.5 242.6,509.1 244.1,511.6 245.6,514.0 247.1,516.2 248.6,518.4 250.1,520.4 251.6,522.3 253.1,524.1 254.6,525.8 256.1,527.4 257.6,529.0 259.1,530.4 260.6,531.7 262.1,533.0 263.6,534.1 265.1,535.2 266.6,536.2 268.1,537.1 269.6,538.0 271.1,538.8 272.6,539.6 274.1,540.3 275.6,540.9 277.1,541.5 278.6,542.0 280.1,542.5 281.6,543.0 283.1,543.4 284.6,543.7 286.1,544.1 287.6,544.4 289.1,544.7 290.6,545.0 292.1,545.2 293.6,545.4 295.1,545.6 296.6,545.8 298.1,545.9 299.6,546.1 301.1,546.2 302.6,546.3 304.1,546.4 305.6,546.5 307.1,546.6 308.6,546.7 310.1,546.7 311.6,546.8 313.1,546.8 314.6,546.9 316.1,546.9 317.6,546.9 319.1,547.0 320.6,547.0 322.1,547.0 323.6,547.1 325.1,547.1 326.6,547.1 328.1,547.1 329.6,547.1 331.1,547.1 332.6,547.1 334.1,547.1 335.6,547.2 337.1,547.2 338.6,547.2" fill="none" stroke="#5b6ef5" stroke-width="1.3"/>
<rect x="46.1" y="327.4" width="293.6" height="219.8" fill="none" stroke="#5b6ef5" stroke-width="2"/>
<line x1="46.00" y1="547.2" x2="46.00" y2="549.7" stroke="#5b6ef5" stroke-width="1.5"/>
<text x="46.00" y="561.0" font-family="Liberation Sans" font-weight="bold" font-size="10.6" fill="#5b6ef5" text-anchor="middle" transform="translate(46.00 0) scale(0.90 1) translate(-46.00 0)">0.0</text>
<line x1="112.72" y1="547.2" x2="112.72" y2="549.7" stroke="#5b6ef5" stroke-width="1.5"/>
<text x="112.72" y="561.0" font-family="Liberation Sans" font-weight="bold" font-size="10.6" fill="#5b6ef5" text-anchor="middle" transform="translate(112.72 0) scale(0.90 1) translate(-112.72 0)">0.5</text>
<line x1="179.45" y1="547.2" x2="179.45" y2="549.7" stroke="#5b6ef5" stroke-width="1.5"/>
<text x="179.45" y="561.0" font-family="Liberation Sans" font-weight="bold" font-size="10.6" fill="#5b6ef5" text-anchor="middle" transform="translate(179.45 0) scale(0.90 1) translate(-179.45 0)">1.0</text>
<line x1="246.17" y1="547.2" x2="246.17" y2="549.7" stroke="#5b6ef5" stroke-width="1.5"/>
<text x="246.17" y="561.0" font-family="Liberation Sans" font-weight="bold" font-size="10.6" fill="#5b6ef5" text-anchor="middle" transform="translate(246.17 0) scale(0.90 1) translate(-246.17 0)">1.5</text>
<line x1="312.90" y1="547.2" x2="312.90" y2="549.7" stroke="#5b6ef5" stroke-width="1.5"/>
<text x="312.90" y="561.0" font-family="Liberation Sans" font-weight="bold" font-size="10.6" fill="#5b6ef5" text-anchor="middle" transform="translate(312.90 0) scale(0.90 1) translate(-312.90 0)">2.0</text>
<text x="192.9" y="573.5" font-family="Liberation Serif" font-weight="bold" font-size="11.7" fill="#5b6ef5" text-anchor="middle">Grain size<tspan font-weight="normal" fill="#111">(</tspan>&#956;m<tspan font-weight="normal" fill="#111">)</tspan></text>
<rect x="185.0" y="335.9" width="147.8" height="14.2" fill="#c8c8c8"/>
<rect x="182.5" y="333.4" width="147.8" height="14.2" fill="#fff" stroke="#5b6ef5" stroke-width="1.2"/>
<text x="256.4" y="344.4" font-family="Liberation Serif" font-weight="bold" font-size="10.2" fill="#5b6ef5" text-anchor="middle" textLength="142.8" lengthAdjust="spacingAndGlyphs">Average grain size (0.9133&#956;m)</text>
<line x1="258.2" y1="561.0" x2="341.0" y2="561.0" stroke="#fff" stroke-width="2.6"/>
<text x="299.6" y="571.5" font-family="Liberation Sans" font-weight="bold" font-size="9.2" fill="#f4f4f4" text-anchor="middle" transform="translate(299.6 0) scale(0.8 1) translate(-299.6 0)">2 &#956;m</text>
<text x="47.0" y="342.9" font-family="Liberation Serif" font-size="22.8" fill="#ff0000" textLength="24.5" lengthAdjust="spacingAndGlyphs">(c)</text></g>
<g><g clip-path="url(#cpd)"><g filter="url(#semblur)"><rect x="373.1" y="313.1" width="314.9" height="282.9" fill="#3a3a3a"/>
<path d="M435 524 444 525 449 520 447 514 434 520Z" fill="url(#g0)"/><path d="M602 584 604 584 607 567 600 565 591 571 594 580Z" fill="url(#g30)"/><path d="M412 369 420 369 423 353 412 350 407 358Z" fill="url(#g9)"/><path d="M405 357 410 349 400 335 397 337 392 357 393 359Z" fill="url(#g1)"/><path d="M618 326 615 327 612 339 624 342 630 329 628 327Z" fill="url(#g21)"/><path d="M555 359 553 358 541 358 536 366 541 374 550 369Z" fill="url(#g1)"/><path d="M449 442 462 434 459 426 444 435Z" fill="url(#g10)"/><path d="M651 498 653 505 668 505 666 491 656 492Z" fill="url(#g39)"/><path d="M399 579 398 579 403 596 407 598 411 587Z" fill="url(#g14)"/><path d="M644 549 627 550 625 552 625 564 634 567 647 564Z" fill="url(#g35)"/><path d="M645 547 657 546 660 537 647 531Z" fill="url(#g20)"/><path d="M455 574 442 565 439 575 448 585 454 578Z" fill="url(#g11)"/><path d="M510 542 519 550 531 540 527 531 520 530 514 533 509 541Z" fill="url(#g8)"/><path d="M554 428 539 423 536 426 536 430 551 441 555 436Z" fill="url(#g12)"/><path d="M490 435 493 435 493 421 479 418 479 429Z" fill="url(#g39)"/><path d="M459 337 473 329 464 317 455 329Z" fill="url(#g30)"/><path d="M649 564 652 565 661 563 663 555 657 549 646 549Z" fill="url(#g2)"/><path d="M560 529 549 525 545 544 549 547 560 532Z" fill="url(#g39)"/><path d="M399 510 393 507 386 513 385 522 398 522Z" fill="url(#g4)"/><path d="M507 340 508 347 511 350 521 346 520 337 518 336Z" fill="url(#g30)"/><path d="M408 465 414 466 424 462 428 452 427 450 411 445 404 457Z" fill="url(#g39)"/><path d="M447 444 441 436 440 435 435 437 429 450 430 451 440 453 448 450Z" fill="url(#g16)"/><path d="M563 416 563 419 574 429 580 420 569 412Z" fill="url(#g37)"/><path d="M400 429 393 432 387 439 385 445 388 455 403 456 409 444 407 433Z" fill="url(#g37)"/><path d="M445 368 444 362 432 354 425 353 423 370 423 371 440 371Z" fill="url(#g33)"/><path d="M402 410 401 412 401 428 407 432 418 426 423 415 411 408Z" fill="url(#g18)"/><path d="M613 607 625 609 634 597 628 594 610 599 609 602Z" fill="url(#g22)"/><path d="M644 593 648 591 650 567 648 566 635 569Z" fill="url(#g34)"/><path d="M580 319 574 322 569 329 568 334 570 337 575 340 594 337 591 321Z" fill="url(#g13)"/><path d="M508 573 501 574 495 578 502 593 512 583Z" fill="url(#g29)"/><path d="M680 549 666 556 663 564 675 576 678 577 680 575Z" fill="url(#g33)"/><path d="M423 564 420 562 415 563 411 566 417 581 424 580 425 579Z" fill="url(#g9)"/><path d="M475 515 485 531 489 531 493 515 489 511Z" fill="url(#g39)"/><path d="M562 529 562 532 575 550 586 542 575 519 574 519Z" fill="url(#g20)"/><path d="M421 510 423 510 434 499 431 491 424 490 413 497 413 504Z" fill="url(#g21)"/><path d="M544 483 548 501 559 501 569 486 560 480Z" fill="url(#g35)"/><path d="M475 534 481 531 473 518 467 524Z" fill="url(#g32)"/><path d="M474 383 465 386 462 398 472 406 484 396 484 392Z" fill="url(#g21)"/><path d="M419 512 412 506 402 510 401 523 404 526 414 522Z" fill="url(#g23)"/><path d="M392 361 390 358 381 357 376 375 379 376 386 373Z" fill="url(#g0)"/><path d="M375 496 360 501 358 506 372 506Z" fill="url(#g26)"/><path d="M542 480 559 477 561 459 553 454 541 478Z" fill="url(#g24)"/><path d="M475 329 479 329 488 317 486 313 474 306 466 316Z" fill="url(#g32)"/><path d="M401 381 386 376 381 378 388 390 400 386 401 385Z" fill="url(#g3)"/><path d="M439 482 434 490 436 499 449 504 457 498Z" fill="url(#g14)"/><path d="M367 438 364 444 368 446 384 444 385 440 371 435Z" fill="url(#g10)"/><path d="M476 576 477 578 481 580 487 577 487 566 481 561Z" fill="url(#g7)"/><path d="M533 452 550 450 550 445 535 433 527 443 531 451Z" fill="url(#g30)"/><path d="M582 383 582 394 590 399 606 393 606 388 593 376Z" fill="url(#g8)"/><path d="M672 531 679 537 694 523 687 511 677 513 671 523Z" fill="url(#g26)"/><path d="M425 511 432 518 447 511 448 506 435 501Z" fill="url(#g36)"/><path d="M645 384 653 393 660 394 677 388 670 365 653 369Z" fill="url(#g13)"/><path d="M561 413 568 409 569 401 557 395 547 405Z" fill="url(#g33)"/><path d="M438 373 424 373 425 389 434 389Z" fill="url(#g0)"/><path d="M413 406 425 414 429 412 425 391 423 391 418 393Z" fill="url(#g14)"/><path d="M368 552 383 550 387 545 380 537 373 537 366 547Z" fill="url(#g15)"/><path d="M643 351 626 345 624 367 643 353Z" fill="url(#g17)"/><path d="M538 480 532 471 515 468 518 479 530 483Z" fill="url(#g18)"/><path d="M453 372 465 384 473 381 477 365 472 361Z" fill="url(#g31)"/><path d="M505 338 517 334 512 325 503 326 502 332Z" fill="url(#g26)"/><path d="M667 316 659 324 659 324 670 325Z" fill="url(#g17)"/><path d="M651 346 646 350 646 353 653 367 670 362 671 360Z" fill="url(#g22)"/><path d="M444 412 460 421 471 411 471 409 460 400 449 402Z" fill="url(#g28)"/><path d="M472 448 487 437 477 431 469 438Z" fill="url(#g20)"/><path d="M389 548 385 552 386 566 396 562 392 550Z" fill="url(#g21)"/><path d="M450 587 453 596 461 600 465 598 463 586 456 581Z" fill="url(#g14)"/><path d="M546 315 544 331 551 335 566 333 566 329Z" fill="url(#g12)"/><path d="M675 357 688 352 688 350 675 334 672 336 669 342Z" fill="url(#g11)"/><path d="M519 417 534 424 538 420 543 406 533 400 519 411Z" fill="url(#g21)"/><path d="M478 559 469 547 466 548 460 555 463 563Z" fill="url(#g2)"/><path d="M429 529 431 525 430 520 423 513 422 513 417 523 423 530Z" fill="url(#g25)"/><path d="M528 604 545 607 544 591Z" fill="url(#g25)"/><path d="M512 467 493 474 493 476 509 486 515 480Z" fill="url(#g38)"/><path d="M564 572 571 578 583 569 574 553 568 557Z" fill="url(#g31)"/><path d="M686 313 681 315 677 329 689 325Z" fill="url(#g6)"/><path d="M392 478 405 465 402 458 388 457 382 465 390 478Z" fill="url(#g31)"/><path d="M645 477 648 477 656 471 655 464 641 461 638 465 639 474Z" fill="url(#g6)"/><path d="M600 315 613 325 616 324 616 312 602 311Z" fill="url(#g2)"/><path d="M620 581 623 565 609 567 606 584Z" fill="url(#g29)"/><path d="M491 499 490 509 496 514 515 506 516 505 509 494Z" fill="url(#g27)"/><path d="M647 529 661 535 669 531 668 524 647 521 645 524Z" fill="url(#g7)"/><path d="M458 554 464 547 458 537 447 539 445 541 453 553Z" fill="url(#g35)"/><path d="M386 392 378 378 374 378 367 387 375 400 381 402Z" fill="url(#g21)"/><path d="M437 545 440 561 441 561 451 554 444 543 438 544Z" fill="url(#g2)"/><path d="M426 565 428 577 436 574 439 564Z" fill="url(#g19)"/><path d="M671 420 665 417 653 424 658 431 667 430Z" fill="url(#g7)"/><path d="M522 368 518 374 525 385 530 387 539 376 533 368 527 366Z" fill="url(#g17)"/><path d="M502 596 514 609 525 604 525 603 520 586 513 585 503 594Z" fill="url(#g8)"/><path d="M551 355 548 347 539 349 541 355Z" fill="url(#g34)"/><path d="M473 451 484 461 499 443 494 438 490 438Z" fill="url(#g25)"/><path d="M418 480 419 477 414 468 409 467 411 481Z" fill="url(#g11)"/><path d="M415 323 419 310 392 291 388 300 403 329Z" fill="url(#g11)"/><path d="M558 392 571 400 580 395 579 383 574 380 568 380 565 381Z" fill="url(#g37)"/><path d="M677 461 679 451 672 449 667 455Z" fill="url(#g31)"/><path d="M543 582 548 575 544 565 533 562 527 564 530 578Z" fill="url(#g16)"/><path d="M430 532 424 533 420 540 426 546 435 544 436 543Z" fill="url(#g7)"/><path d="M590 420 583 421 575 432 575 434 581 444 589 442 593 433Z" fill="url(#g23)"/><path d="M672 328 659 327 659 331 671 334 675 331Z" fill="url(#g21)"/><path d="M655 340 658 332 657 327 655 324 647 322 642 327 650 344Z" fill="url(#g37)"/><path d="M363 446 362 448 360 461 371 466 375 465 367 448Z" fill="url(#g13)"/><path d="M674 360 672 364 678 388 682 389 697 381 695 357 689 354Z" fill="url(#g34)"/><path d="M524 502 541 508 545 503 541 483 540 482 531 486Z" fill="url(#g0)"/><path d="M435 474 437 475 441 469 440 456 429 454 426 462Z" fill="url(#g7)"/><path d="M642 385 620 407 628 411 641 413 651 394 643 385Z" fill="url(#g2)"/><path d="M603 420 593 420 596 431 606 431Z" fill="url(#g28)"/><path d="M681 547 688 548 700 542 703 528 696 524 680 540Z" fill="url(#g4)"/><path d="M380 596 366 588 353 599 380 605 381 601Z" fill="url(#g5)"/><path d="M690 590 700 593 718 589 704 568 698 566 681 578Z" fill="url(#g24)"/><path d="M653 508 647 517 647 518 669 521 674 512 669 507Z" fill="url(#g36)"/><path d="M594 508 606 526 618 523 621 507 600 502Z" fill="url(#g35)"/><path d="M557 360 552 370 564 379 567 378 560 360Z" fill="url(#g10)"/><path d="M402 529 399 525 385 525 383 535 389 542Z" fill="url(#g19)"/><path d="M568 298 564 307 574 319 579 317 578 301 572 297Z" fill="url(#g14)"/><path d="M592 507 598 501 599 493 585 478 575 486 590 507Z" fill="url(#g0)"/><path d="M531 560 537 545 533 543 521 553 523 560 526 561Z" fill="url(#g3)"/><path d="M679 418 686 402 681 390 678 389 661 396 666 415 673 419Z" fill="url(#g28)"/><path d="M641 447 641 459 656 461 660 456 655 445 643 445Z" fill="url(#g5)"/><path d="M545 406 540 420 555 426 560 419 561 416Z" fill="url(#g13)"/><path d="M687 427 685 436 689 444 697 447 702 445 707 433 698 426Z" fill="url(#g30)"/><path d="M698 382 684 390 688 401 702 407 739 394Z" fill="url(#g19)"/><path d="M592 597 593 598 603 603 607 602 608 598 603 586 602 586Z" fill="url(#g32)"/><path d="M604 416 615 409 616 407 607 396 592 402 591 417Z" fill="url(#g22)"/><path d="M377 464 379 464 386 455 384 447 370 448Z" fill="url(#g6)"/><path d="M509 568 500 559 496 564 501 572 508 571Z" fill="url(#g6)"/><path d="M498 419 497 420 497 436 502 441 504 442 509 440 514 420Z" fill="url(#g7)"/><path d="M561 534 551 548 552 551 566 555 573 551Z" fill="url(#g3)"/><path d="M369 357 368 358 372 372 374 374 378 357Z" fill="url(#g37)"/><path d="M400 389 389 393 384 403 399 410 400 409Z" fill="url(#g36)"/><path d="M452 370 470 359 457 345 454 346 446 362 448 367Z" fill="url(#g15)"/><path d="M380 335 396 335 400 333 401 331 385 302 372 312 371 323 375 333Z" fill="url(#g30)"/><path d="M364 419 372 420 376 419 379 405 374 403 361 411Z" fill="url(#g29)"/><path d="M416 326 403 332 403 334 412 347 424 350 426 342 423 332Z" fill="url(#g14)"/><path d="M546 584 547 588 568 594 570 590 569 581 561 574 550 577Z" fill="url(#g32)"/><path d="M597 541 604 527 592 510 590 510 578 519 588 540Z" fill="url(#g18)"/><path d="M599 543 602 562 608 565 622 563 623 552Z" fill="url(#g20)"/><path d="M658 339 667 340 669 336 660 334Z" fill="url(#g22)"/><path d="M374 492 374 491 365 483 357 485 360 497Z" fill="url(#g14)"/><path d="M535 469 539 474 549 454 535 455Z" fill="url(#g1)"/><path d="M640 328 633 329 628 342 644 348 648 345Z" fill="url(#g12)"/><path d="M605 418 609 431 616 427 615 412Z" fill="url(#g13)"/><path d="M492 361 486 365 496 379 500 378 504 374 501 363Z" fill="url(#g7)"/><path d="M440 480 460 498 460 497 465 490 452 479Z" fill="url(#g38)"/><path d="M549 608 555 616 566 597 548 592Z" fill="url(#g13)"/><path d="M448 536 456 534 459 527 451 523 446 528Z" fill="url(#g5)"/><path d="M378 497 376 505 385 511 391 505 390 502Z" fill="url(#g17)"/><path d="M408 567 406 568 401 577 412 585 414 582Z" fill="url(#g19)"/><path d="M642 383 643 383 652 368 644 355 624 369 625 372Z" fill="url(#g24)"/><path d="M462 316 457 313 447 315 445 323 453 327Z" fill="url(#g24)"/><path d="M508 313 502 322 503 324 512 323 516 315Z" fill="url(#g8)"/><path d="M586 476 601 492 609 485 609 483 597 468 587 472Z" fill="url(#g4)"/><path d="M493 535 507 539 511 532 496 516 491 533Z" fill="url(#g10)"/><path d="M435 391 427 392 431 411 440 413 447 400 444 396Z" fill="url(#g30)"/><path d="M369 555 370 570 371 571 381 571 383 568 382 553Z" fill="url(#g7)"/><path d="M647 425 644 443 655 443 656 433 650 425Z" fill="url(#g32)"/><path d="M500 323 489 318 481 330 483 334 500 332 501 326Z" fill="url(#g9)"/><path d="M426 332 428 340 439 337 439 329Z" fill="url(#g10)"/><path d="M486 544 490 536 489 535 484 534 476 537 474 542Z" fill="url(#g7)"/><path d="M619 312 618 323 627 324 626 307Z" fill="url(#g24)"/><path d="M636 474 634 467 625 465 621 476 629 479Z" fill="url(#g31)"/><path d="M643 479 638 476 631 482 630 495 640 493Z" fill="url(#g34)"/><path d="M620 457 625 462 635 464 639 459 639 447 633 445 621 453Z" fill="url(#g16)"/><path d="M550 574 561 571 564 557 552 553 546 564Z" fill="url(#g11)"/><path d="M571 401 570 410 582 419 589 417 589 401 581 396Z" fill="url(#g14)"/><path d="M467 436 476 429 476 416 473 413 461 423 461 425 464 434Z" fill="url(#g36)"/><path d="M439 477 440 478 451 477 457 467 443 471Z" fill="url(#g30)"/><path d="M490 576 494 576 498 573 494 566 490 567Z" fill="url(#g29)"/><path d="M584 475 585 471 574 457 563 459 562 477 572 484Z" fill="url(#g33)"/><path d="M640 445 642 444 645 426 629 434 634 443Z" fill="url(#g16)"/><path d="M547 524 542 521 530 530 534 540 539 543 543 543Z" fill="url(#g9)"/><path d="M625 549 626 530 619 525 606 528 600 541 624 550Z" fill="url(#g19)"/><path d="M666 476 671 483 673 483 688 473 688 470 678 464Z" fill="url(#g34)"/><path d="M557 357 559 356 567 338 566 336 553 338 551 344 555 355Z" fill="url(#g4)"/><path d="M439 415 430 414 425 416 420 427 433 435 439 432Z" fill="url(#g9)"/><path d="M543 585 529 580 522 586 527 600 543 588Z" fill="url(#g18)"/><path d="M621 451 631 443 627 435 616 443Z" fill="url(#g19)"/><path d="M656 342 654 345 672 357 667 343Z" fill="url(#g30)"/><path d="M629 431 645 423 641 415 629 414Z" fill="url(#g9)"/><path d="M488 564 493 563 498 557 488 554 483 560Z" fill="url(#g39)"/><path d="M618 459 609 462 617 476 618 475 622 463Z" fill="url(#g23)"/><path d="M607 434 596 434 593 442 599 447 608 440Z" fill="url(#g29)"/><path d="M626 501 627 498 610 487 602 494 601 500 622 505Z" fill="url(#g26)"/><path d="M483 582 492 598 500 596 501 594 494 579 488 578Z" fill="url(#g37)"/><path d="M553 444 553 451 562 456 574 454 578 445 573 436 558 438Z" fill="url(#g24)"/><path d="M641 495 629 498 628 502 645 515 651 506 649 498Z" fill="url(#g32)"/><path d="M421 315 417 324 424 330 439 326Z" fill="url(#g6)"/><path d="M657 445 661 455 664 454 670 447 669 442Z" fill="url(#g38)"/><path d="M405 529 412 539 418 538 421 533 414 525Z" fill="url(#g36)"/><path d="M407 550 396 550 400 561 406 565 408 564 412 560Z" fill="url(#g15)"/><path d="M543 377 556 389 561 381 551 373Z" fill="url(#g0)"/><path d="M598 450 590 445 581 446 577 455 587 469 596 466 601 460Z" fill="url(#g39)"/><path d="M568 378 574 378 575 362 562 360Z" fill="url(#g38)"/><path d="M519 334 521 335 527 331 526 316 518 315 514 324Z" fill="url(#g10)"/><path d="M538 346 548 343 549 338 542 334 540 335Z" fill="url(#g9)"/><path d="M609 597 627 592 621 583 605 586Z" fill="url(#g5)"/><path d="M411 504 411 497 404 490 399 488 392 501 393 505 400 508Z" fill="url(#g3)"/><path d="M598 356 600 344 595 339 576 342 583 357 595 360Z" fill="url(#g36)"/><path d="M403 376 393 363 388 373 402 379Z" fill="url(#g21)"/><path d="M543 546 540 546 534 561 544 563 550 552 548 548Z" fill="url(#g1)"/><path d="M604 462 599 467 611 480 614 477 606 462Z" fill="url(#g25)"/><path d="M364 524 373 534 380 534 383 524 383 523 371 520Z" fill="url(#g39)"/><path d="M522 336 524 346 526 347 535 346 537 334 528 332Z" fill="url(#g24)"/><path d="M594 362 582 359 576 362 575 378 580 381 592 374Z" fill="url(#g7)"/><path d="M451 444 451 450 459 455 470 450 466 438 463 436Z" fill="url(#g10)"/><path d="M629 325 632 327 641 326 645 320 644 308 632 301 630 302 628 305Z" fill="url(#g28)"/><path d="M510 357 503 362 507 374 516 373 519 367Z" fill="url(#g25)"/><path d="M599 562 596 543 588 543 577 552 586 568 589 569Z" fill="url(#g8)"/><path d="M432 531 438 542 444 541 446 538 443 528 434 527Z" fill="url(#g27)"/><path d="M511 355 521 366 525 364 524 349 523 348 511 353Z" fill="url(#g5)"/><path d="M449 452 442 456 442 468 457 464 458 457Z" fill="url(#g19)"/><path d="M646 480 643 493 649 496 653 491 648 480Z" fill="url(#g14)"/><path d="M561 421 557 427 558 435 573 433 573 432Z" fill="url(#g39)"/><path d="M408 433 411 443 427 449 432 436 418 428Z" fill="url(#g13)"/><path d="M600 359 596 362 595 374 608 386 622 372 622 369 621 368Z" fill="url(#g1)"/><path d="M389 580 400 595 395 580Z" fill="url(#g37)"/><path d="M670 315 673 326 675 329 679 315Z" fill="url(#g10)"/><path d="M467 492 463 498 474 512 487 508 488 498 485 492Z" fill="url(#g24)"/><path d="M591 594 599 586 593 583 585 590Z" fill="url(#g23)"/><path d="M407 467 394 480 399 487 404 488 409 482Z" fill="url(#g2)"/><path d="M683 438 672 440 673 446 680 448 686 444Z" fill="url(#g28)"/><path d="M618 457 619 453 614 443 610 442 600 449 604 459 607 460Z" fill="url(#g37)"/><path d="M469 545 471 543 473 536 464 526 463 527 460 536 466 545Z" fill="url(#g4)"/><path d="M476 580 467 585 468 597 471 597 479 582Z" fill="url(#g19)"/><path d="M641 593 632 570 625 567 623 581 629 591 636 595 640 595Z" fill="url(#g37)"/><path d="M668 490 671 505 676 510 687 508 690 502 673 486 671 486Z" fill="url(#g6)"/><path d="M547 313 568 328 573 321 563 308 551 310Z" fill="url(#g21)"/><path d="M561 527 572 518 560 504 548 504 543 510 543 518 549 523Z" fill="url(#g37)"/><path d="M443 563 456 572 460 567 461 565 458 556 453 556Z" fill="url(#g18)"/><path d="M506 349 495 352 493 358 502 360 509 355 509 353Z" fill="url(#g32)"/><path d="M421 489 418 483 411 484 407 489 412 495Z" fill="url(#g28)"/><path d="M541 518 540 510 522 504 518 506 517 507 521 527 528 528Z" fill="url(#g37)"/><path d="M503 307 503 305 495 301 488 312 489 316Z" fill="url(#g3)"/><path d="M562 357 575 360 580 357 573 342 570 341Z" fill="url(#g15)"/><path d="M396 488 392 481 390 481 378 491 378 493 390 499Z" fill="url(#g37)"/><path d="M402 388 403 408 411 406 416 392 403 387Z" fill="url(#g21)"/><path d="M643 546 645 530 643 526 628 531 628 547Z" fill="url(#g32)"/><path d="M618 408 617 410 617 427 627 432 627 413Z" fill="url(#g26)"/><path d="M677 332 688 346 695 331 690 328Z" fill="url(#g37)"/><path d="M407 547 410 541 403 531 390 545 394 548Z" fill="url(#g13)"/><path d="M627 528 643 524 645 519 645 517 627 503 623 507 620 524Z" fill="url(#g9)"/><path d="M437 578 428 581 428 581 432 590 444 585Z" fill="url(#g30)"/><path d="M535 348 526 349 527 364 534 365 539 356Z" fill="url(#g9)"/><path d="M481 583 473 598 486 604 491 599Z" fill="url(#g20)"/><path d="M651 591 654 592 672 577 662 565 653 568Z" fill="url(#g32)"/><path d="M600 357 621 366 624 344 610 341 602 344Z" fill="url(#g33)"/><path d="M422 312 441 324 442 323 444 314 443 312 424 309 423 310Z" fill="url(#g13)"/><path d="M679 420 674 420 669 432 672 437 683 435 685 426Z" fill="url(#g6)"/><path d="M465 487 467 476 459 470 454 478Z" fill="url(#g37)"/><path d="M581 589 592 580 588 571 586 570 572 581 573 589Z" fill="url(#g39)"/><path d="M383 595 384 599 396 596 387 584Z" fill="url(#g38)"/><path d="M381 338 381 354 389 355 394 338Z" fill="url(#g24)"/><path d="M460 340 459 343 472 356 481 338 481 335 479 332 475 331Z" fill="url(#g17)"/><path d="M374 508 373 518 382 520 383 513Z" fill="url(#g31)"/><path d="M474 359 479 362 483 363 490 358 492 351 489 346 483 341Z" fill="url(#g30)"/><path d="M542 313 534 313 529 316 529 330 538 332 541 331 544 314Z" fill="url(#g5)"/><path d="M518 419 512 440 525 442 533 430 533 426Z" fill="url(#g4)"/><path d="M496 404 485 398 474 408 474 411 477 415 495 418 496 417Z" fill="url(#g33)"/><path d="M504 341 493 346 494 349 504 346Z" fill="url(#g14)"/><path d="M452 519 461 524 464 523 471 514 460 500 450 506 450 512Z" fill="url(#g33)"/><path d="M519 313 527 314 532 311 525 297 518 299Z" fill="url(#g28)"/><path d="M398 564 386 570 384 573 388 577 398 576 403 567Z" fill="url(#g35)"/><path d="M475 575 478 561 463 565 463 567Z" fill="url(#g14)"/><path d="M575 517 587 508 572 487 562 502Z" fill="url(#g29)"/><path d="M467 489 486 489 491 476 490 474 484 468 469 476Z" fill="url(#g15)"/><path d="M486 463 486 465 492 471 509 464 503 445 502 445Z" fill="url(#g9)"/><path d="M425 583 416 584 413 587 410 600 428 600 430 592Z" fill="url(#g23)"/><path d="M682 549 682 573 696 564 688 550Z" fill="url(#g35)"/><path d="M666 313 662 301 647 309 648 319 656 322Z" fill="url(#g7)"/><path d="M599 316 593 320 596 337 602 342 609 339 612 327Z" fill="url(#g27)"/><path d="M653 395 643 414 648 422 651 423 664 415 659 396Z" fill="url(#g13)"/><path d="M515 465 532 469 532 454 530 453Z" fill="url(#g11)"/><path d="M434 476 421 477 420 481 424 488 432 489 438 480 437 477Z" fill="url(#g35)"/><path d="M670 438 667 433 658 433 657 443 670 440Z" fill="url(#g22)"/><path d="M508 399 499 404 499 416 516 417 517 411Z" fill="url(#g35)"/><path d="M405 376 403 380 403 385 417 391 422 389 422 372 421 371 411 371Z" fill="url(#g38)"/><path d="M644 595 642 597 651 631 667 608 654 594 649 594Z" fill="url(#g10)"/><path d="M479 365 476 382 485 390 494 380 483 366Z" fill="url(#g35)"/><path d="M475 577 462 569 457 574 456 578 465 583 475 578Z" fill="url(#g8)"/><path d="M445 343 434 353 444 360 451 346Z" fill="url(#g38)"/><path d="M464 315 473 304 472 296 459 286 458 311Z" fill="url(#g8)"/><path d="M395 361 405 373 409 370 405 359Z" fill="url(#g8)"/><path d="M590 598 581 592 573 592 571 596 583 608Z" fill="url(#g17)"/><path d="M451 372 446 370 441 373 437 389 444 393Z" fill="url(#g1)"/><path d="M376 489 387 479 379 466 376 467 372 468 367 480Z" fill="url(#g26)"/><path d="M510 397 519 408 531 398 529 390 524 389Z" fill="url(#g17)"/><path d="M426 351 432 352 443 342 440 339 428 342Z" fill="url(#g26)"/><path d="M502 338 500 334 484 336 484 338 491 343Z" fill="url(#g13)"/><path d="M419 541 412 542 409 548 415 560 420 559 424 548Z" fill="url(#g5)"/><path d="M471 453 460 457 460 465 460 466 469 474 483 466 482 464Z" fill="url(#g10)"/><path d="M506 312 504 310 494 317 500 320Z" fill="url(#g29)"/><path d="M491 497 508 493 508 489 492 478 487 490Z" fill="url(#g8)"/><path d="M489 551 499 554 507 543 507 541 492 537 488 546Z" fill="url(#g15)"/><path d="M509 394 523 386 516 375 506 376 502 380Z" fill="url(#g17)"/><path d="M675 484 692 501 697 497 688 475Z" fill="url(#g15)"/><path d="M447 588 433 593 431 601 436 607 450 597Z" fill="url(#g0)"/><path d="M518 502 520 502 527 486 517 482 511 489 511 493Z" fill="url(#g33)"/><path d="M512 569 510 572 514 582 520 583 527 578 524 564 522 563Z" fill="url(#g21)"/><path d="M611 440 614 441 625 433 616 429 609 433Z" fill="url(#g32)"/><path d="M480 559 487 552 486 547 472 545 471 546Z" fill="url(#g9)"/><path d="M651 479 656 489 666 488 668 484 663 477 658 474Z" fill="url(#g1)"/><path d="M664 474 675 463 664 457 661 457 657 463 659 471Z" fill="url(#g6)"/><path d="M496 381 486 392 486 396 497 402 508 396 500 381Z" fill="url(#g0)"/><path d="M441 328 442 337 445 341 453 344 456 343 458 339 453 329 444 325Z" fill="url(#g35)"/><path d="M378 337 375 335 365 345 369 354 378 354Z" fill="url(#g18)"/><path d="M511 566 520 560 518 553 508 545 501 556Z" fill="url(#g17)"/><path d="M680 547 678 540 670 533 661 537 659 547 665 554Z" fill="url(#g30)"/><path d="M442 415 442 432 443 433 458 424 458 423Z" fill="url(#g1)"/><path d="M681 419 687 424 697 424 700 409 688 404Z" fill="url(#g25)"/><path d="M598 314 600 310 599 303 588 297 581 301 581 317 592 319Z" fill="url(#g23)"/><path d="M513 464 528 451 525 445 511 443 507 445Z" fill="url(#g16)"/><path d="M618 404 638 384 624 375 610 389 609 394Z" fill="url(#g27)"/><path d="M669 607 670 607 688 592 678 579 674 578 656 593Z" fill="url(#g3)"/><path d="M374 423 373 433 385 437 390 431 377 422Z" fill="url(#g23)"/><path d="M544 404 555 393 541 380 532 389 534 398Z" fill="url(#g20)"/><path d="M427 549 423 560 425 561 437 560 434 547Z" fill="url(#g25)"/><path d="M432 474 424 464 417 468 421 475Z" fill="url(#g26)"/><path d="M380 592 385 579 381 575 371 574 368 585Z" fill="url(#g0)"/><path d="M688 446 681 450 680 462 689 468 695 449Z" fill="url(#g28)"/><path d="M453 375 447 395 449 398 459 397 462 386Z" fill="url(#g11)"/><path d="M628 496 629 482 619 478 616 479 611 485Z" fill="url(#g21)"/><path d="M498 515 513 531 519 527 515 507Z" fill="url(#g18)"/><path d="M398 412 381 405 378 419 392 430 399 428Z" fill="url(#g30)"/></g></g>
<rect x="428.21" y="530.90" width="14.04" height="14.40" fill="#bec2fa"/>
<rect x="429.21" y="531.90" width="12.04" height="13.40" fill="url(#hatd)"/>
<rect x="442.24" y="463.40" width="14.04" height="81.90" fill="#bec2fa"/>
<rect x="443.24" y="464.40" width="12.04" height="80.90" fill="url(#hatd)"/>
<rect x="456.28" y="352.20" width="14.04" height="193.10" fill="#bec2fa"/>
<rect x="457.28" y="353.20" width="12.04" height="192.10" fill="url(#hatd)"/>
<rect x="470.31" y="330.00" width="14.04" height="215.30" fill="#bec2fa"/>
<rect x="471.31" y="331.00" width="12.04" height="214.30" fill="url(#hatd)"/>
<rect x="484.35" y="337.10" width="14.04" height="208.20" fill="#bec2fa"/>
<rect x="485.35" y="338.10" width="12.04" height="207.20" fill="url(#hatd)"/>
<rect x="498.38" y="374.60" width="14.03" height="170.70" fill="#bec2fa"/>
<rect x="499.38" y="375.60" width="12.03" height="169.70" fill="url(#hatd)"/>
<rect x="512.41" y="344.60" width="14.03" height="200.70" fill="#bec2fa"/>
<rect x="513.41" y="345.60" width="12.03" height="199.70" fill="url(#hatd)"/>
<rect x="526.45" y="418.90" width="14.03" height="126.40" fill="#bec2fa"/>
<rect x="527.45" y="419.90" width="12.03" height="125.40" fill="url(#hatd)"/>
<rect x="540.49" y="479.00" width="14.03" height="66.30" fill="#bec2fa"/>
<rect x="541.49" y="480.00" width="12.03" height="65.30" fill="url(#hatd)"/>
<rect x="554.52" y="508.20" width="14.03" height="37.10" fill="#bec2fa"/>
<rect x="555.52" y="509.20" width="12.03" height="36.10" fill="url(#hatd)"/>
<rect x="582.59" y="523.30" width="14.03" height="22.00" fill="#bec2fa"/>
<rect x="583.59" y="524.30" width="12.03" height="21.00" fill="url(#hatd)"/>
<rect x="596.62" y="530.90" width="14.03" height="14.40" fill="#bec2fa"/>
<rect x="597.62" y="531.90" width="12.03" height="13.40" fill="url(#hatd)"/>
<rect x="610.66" y="538.40" width="14.03" height="6.90" fill="#bec2fa"/>
<rect x="611.66" y="539.40" width="12.03" height="5.90" fill="url(#hatd)"/>
<rect x="638.73" y="538.40" width="14.03" height="6.90" fill="#bec2fa"/>
<rect x="639.73" y="539.40" width="12.03" height="5.90" fill="url(#hatd)"/>
<rect x="428.21" y="530.90" width="14.04" height="14.40" fill="none" stroke="#5b6ef5" stroke-width="1.9"/>
<rect x="442.24" y="463.40" width="14.04" height="81.90" fill="none" stroke="#5b6ef5" stroke-width="1.9"/>
<rect x="456.28" y="352.20" width="14.04" height="193.10" fill="none" stroke="#5b6ef5" stroke-width="1.9"/>
<rect x="470.31" y="330.00" width="14.04" height="215.30" fill="none" stroke="#5b6ef5" stroke-width="1.9"/>
<rect x="484.35" y="337.10" width="14.04" height="208.20" fill="none" stroke="#5b6ef5" stroke-width="1.9"/>
<rect x="498.38" y="374.60" width="14.03" height="170.70" fill="none" stroke="#5b6ef5" stroke-width="1.9"/>
<rect x="512.41" y="344.60" width="14.03" height="200.70" fill="none" stroke="#5b6ef5" stroke-width="1.9"/>
<rect x="526.45" y="418.90" width="14.03" height="126.40" fill="none" stroke="#5b6ef5" stroke-width="1.9"/>
<rect x="540.49" y="479.00" width="14.03" height="66.30" fill="none" stroke="#5b6ef5" stroke-width="1.9"/>
<rect x="554.52" y="508.20" width="14.03" height="37.10" fill="none" stroke="#5b6ef5" stroke-width="1.9"/>
<rect x="582.59" y="523.30" width="14.03" height="22.00" fill="none" stroke="#5b6ef5" stroke-width="1.9"/>
<rect x="596.62" y="530.90" width="14.03" height="14.40" fill="none" stroke="#5b6ef5" stroke-width="1.9"/>
<rect x="610.66" y="538.40" width="14.03" height="6.90" fill="none" stroke="#5b6ef5" stroke-width="1.9"/>
<rect x="638.73" y="538.40" width="14.03" height="6.90" fill="none" stroke="#5b6ef5" stroke-width="1.9"/>
<polyline points="386.1,543.9 387.6,543.7 389.1,543.5 390.6,543.3 392.1,543.0 393.6,542.7 395.1,542.3 396.6,542.0 398.1,541.5 399.6,541.1 401.1,540.5 402.6,540.0 404.1,539.3 405.6,538.6 407.1,537.9 408.6,537.0 410.1,536.1 411.6,535.1 413.1,534.0 414.6,532.8 416.1,531.5 417.6,530.1 419.1,528.6 420.6,527.0 422.1,525.2 423.6,523.3 425.1,521.3 426.6,519.1 428.1,516.8 429.6,514.3 431.1,511.7 432.6,508.9 434.1,506.0 435.6,502.9 437.1,499.6 438.6,496.2 440.1,492.6 441.6,488.8 443.1,484.9 444.6,480.8 446.1,476.6 447.6,472.2 449.1,467.6 450.6,462.9 452.1,458.1 453.6,453.2 455.1,448.1 456.6,442.9 458.1,437.7 459.6,432.4 461.1,427.0 462.6,421.6 464.1,416.2 465.6,410.7 467.1,405.3 468.6,399.9 470.1,394.6 471.6,389.3 473.1,384.1 474.6,379.1 476.1,374.2 477.6,369.4 479.1,364.9 480.6,360.5 482.1,356.4 483.6,352.5 485.1,348.8 486.6,345.5 488.1,342.4 489.6,339.6 491.1,337.2 492.6,335.1 494.1,333.4 495.6,332.0 497.1,331.0 498.6,330.3 500.1,330.0 501.6,330.1 503.1,330.6 504.6,331.4 506.1,332.6 507.6,334.1 509.1,336.1 510.6,338.3 512.1,340.9 513.6,343.8 515.1,347.0 516.6,350.5 518.1,354.3 519.6,358.3 521.1,362.5 522.6,367.0 524.1,371.6 525.6,376.5 527.1,381.4 528.6,386.5 530.1,391.8 531.6,397.1 533.1,402.4 534.6,407.8 536.1,413.3 537.6,418.7 539.1,424.1 540.6,429.5 542.1,434.9 543.6,440.2 545.1,445.4 546.6,450.5 548.1,455.5 549.6,460.4 551.1,465.1 552.6,469.7 554.1,474.2 555.6,478.6 557.1,482.7 558.6,486.8 560.1,490.6 561.6,494.3 563.1,497.8 564.6,501.2 566.1,504.4 567.6,507.4 569.1,510.3 570.6,513.0 572.1,515.5 573.6,517.9 575.1,520.1 576.6,522.2 578.1,524.2 579.6,526.0 581.1,527.7 582.6,529.3 584.1,530.8 585.6,532.1 587.1,533.4 588.6,534.5 590.1,535.6 591.6,536.5 593.1,537.4 594.6,538.2 596.1,539.0 597.6,539.6 599.1,540.2 600.6,540.8 602.1,541.3 603.6,541.7 605.1,542.1 606.6,542.5 608.1,542.8 609.6,543.1 611.1,543.4 612.6,543.6 614.1,543.8 615.6,544.0 617.1,544.2 618.6,544.3 620.1,544.4 621.6,544.5 623.1,544.6 624.6,544.7 626.1,544.8 627.6,544.9 629.1,544.9 630.6,545.0 632.1,545.0 633.6,545.1 635.1,545.1 636.6,545.1 638.1,545.2 639.6,545.2 641.1,545.2 642.6,545.2 644.1,545.2 645.6,545.2 647.1,545.2 648.6,545.3 650.1,545.3 651.6,545.3 653.1,545.3 654.6,545.3 656.1,545.3 657.6,545.3 659.1,545.3 660.6,545.3 662.1,545.3 663.6,545.3 665.1,545.3 666.6,545.3" fill="none" stroke="#5b6ef5" stroke-width="1.3"/>
<rect x="386.1" y="323.0" width="280.7" height="222.3" fill="none" stroke="#5b6ef5" stroke-width="2"/>
<line x1="386.10" y1="545.3" x2="386.10" y2="547.8" stroke="#5b6ef5" stroke-width="1.5"/>
<text x="386.10" y="559.1" font-family="Liberation Sans" font-weight="bold" font-size="10.6" fill="#5b6ef5" text-anchor="middle" transform="translate(386.10 0) scale(0.90 1) translate(-386.10 0)">0.0</text>
<line x1="456.28" y1="545.3" x2="456.28" y2="547.8" stroke="#5b6ef5" stroke-width="1.5"/>
<text x="456.28" y="559.1" font-family="Liberation Sans" font-weight="bold" font-size="10.6" fill="#5b6ef5" text-anchor="middle" transform="translate(456.28 0) scale(0.90 1) translate(-456.28 0)">0.5</text>
<line x1="526.45" y1="545.3" x2="526.45" y2="547.8" stroke="#5b6ef5" stroke-width="1.5"/>
<text x="526.45" y="559.1" font-family="Liberation Sans" font-weight="bold" font-size="10.6" fill="#5b6ef5" text-anchor="middle" transform="translate(526.45 0) scale(0.90 1) translate(-526.45 0)">1.0</text>
<line x1="596.62" y1="545.3" x2="596.62" y2="547.8" stroke="#5b6ef5" stroke-width="1.5"/>
<text x="596.62" y="559.1" font-family="Liberation Sans" font-weight="bold" font-size="10.6" fill="#5b6ef5" text-anchor="middle" transform="translate(596.62 0) scale(0.90 1) translate(-596.62 0)">1.5</text>
<line x1="666.80" y1="545.3" x2="666.80" y2="547.8" stroke="#5b6ef5" stroke-width="1.5"/>
<text x="666.80" y="559.1" font-family="Liberation Sans" font-weight="bold" font-size="10.6" fill="#5b6ef5" text-anchor="middle" transform="translate(666.80 0) scale(0.90 1) translate(-666.80 0)">2.0</text>
<text x="526.5" y="571.6" font-family="Liberation Serif" font-weight="bold" font-size="11.7" fill="#5b6ef5" text-anchor="middle">Grain size<tspan font-weight="normal" fill="#111">(</tspan>&#956;m<tspan font-weight="normal" fill="#111">)</tspan></text>
<rect x="541.1" y="328.5" width="115.2" height="14.0" fill="#c8c8c8"/>
<rect x="538.6" y="326.0" width="115.2" height="14.0" fill="#fff" stroke="#5b6ef5" stroke-width="1.2"/>
<text x="596.2" y="336.8" font-family="Liberation Serif" font-weight="bold" font-size="10.2" fill="#5b6ef5" text-anchor="middle" textLength="110.2" lengthAdjust="spacingAndGlyphs">Average grain size (0.81&#956;m)</text>
<line x1="592.4" y1="567.4" x2="671.7" y2="567.4" stroke="#fff" stroke-width="2.6"/>
<text x="632.0" y="579.0" font-family="Liberation Sans" font-weight="bold" font-size="8.2" fill="#f4f4f4" text-anchor="middle" transform="translate(632.0 0) scale(0.8 1) translate(-632.0 0)">2 &#956;m</text>
<text x="390.5" y="340.4" font-family="Liberation Serif" font-size="22.7" fill="#ff0000" textLength="26.9" lengthAdjust="spacingAndGlyphs">(d)</text></g>
<g><g clip-path="url(#cpe)"><g filter="url(#semblur)"><rect x="36.0" y="597.7" width="321.0" height="278.6" fill="#3a3a3a"/>
<path d="M41 806 53 813 58 799 49 791 41 796Z" fill="url(#g34)"/><path d="M105 665 117 658 113 648 103 653Z" fill="url(#g31)"/><path d="M301 788 286 785 275 794 275 795 283 806 302 799Z" fill="url(#g37)"/><path d="M126 823 135 815 133 796 121 792 116 797 112 815 113 818Z" fill="url(#g14)"/><path d="M155 829 168 829 164 814 161 811 151 817Z" fill="url(#g7)"/><path d="M44 647 50 648 54 644 49 634 44 634 44 635Z" fill="url(#g13)"/><path d="M337 696 345 705 360 697 358 687 338 691Z" fill="url(#g35)"/><path d="M124 825 113 820 103 829 102 839 108 849 118 845Z" fill="url(#g37)"/><path d="M250 633 252 632 253 621 246 613 242 612 233 626 242 634Z" fill="url(#g11)"/><path d="M213 796 225 797 215 779 210 778 209 778 207 785Z" fill="url(#g7)"/><path d="M62 774 51 776 50 789 59 797 69 796 75 790Z" fill="url(#g8)"/><path d="M67 680 62 672 50 667 42 670 40 673 41 682 47 690 67 681Z" fill="url(#g36)"/><path d="M41 647 41 637 28 643 28 652 32 654Z" fill="url(#g14)"/><path d="M251 862 246 859 237 863 236 867 242 875Z" fill="url(#g23)"/><path d="M270 612 274 607 264 593 260 594 259 603Z" fill="url(#g26)"/><path d="M237 793 228 775 218 778 229 797Z" fill="url(#g2)"/><path d="M83 609 85 604 82 600 69 598 67 600 73 616Z" fill="url(#g13)"/><path d="M351 730 351 728 337 736 338 749 348 748 352 743Z" fill="url(#g8)"/><path d="M67 718 69 725 80 726 86 718 78 713Z" fill="url(#g27)"/><path d="M100 839 100 829 89 826 87 841Z" fill="url(#g33)"/><path d="M186 617 202 611 196 596 182 597Z" fill="url(#g9)"/><path d="M327 603 329 597 327 596 317 596 315 600 315 601Z" fill="url(#g24)"/><path d="M298 599 288 596 282 606 293 616 299 617Z" fill="url(#g31)"/><path d="M214 591 210 589 202 590 198 594 204 610 217 607 219 603Z" fill="url(#g17)"/><path d="M194 805 194 793 181 791 180 797 187 806Z" fill="url(#g7)"/><path d="M201 721 206 726 220 718 221 704 217 699 205 700 200 708Z" fill="url(#g8)"/><path d="M199 721 198 709 176 709 175 711 177 725 182 728Z" fill="url(#g22)"/><path d="M227 602 240 606 241 596 235 590Z" fill="url(#g5)"/><path d="M179 639 184 650 193 651 196 649 191 635 187 632Z" fill="url(#g29)"/><path d="M344 878 342 874 329 868 328 894 331 898 341 892Z" fill="url(#g29)"/><path d="M41 615 26 613 24 616 27 621Z" fill="url(#g19)"/><path d="M282 768 295 760 293 750 278 748 273 755Z" fill="url(#g7)"/><path d="M363 713 364 705 363 700 361 699 346 707 346 716 351 723 359 719Z" fill="url(#g16)"/><path d="M145 756 138 753 136 756 139 771 142 773 143 772 147 760Z" fill="url(#g21)"/><path d="M110 632 109 633 115 644 127 641 124 631Z" fill="url(#g19)"/><path d="M258 730 245 720 232 729 231 737 235 744 253 741Z" fill="url(#g30)"/><path d="M98 708 104 709 111 700 101 695Z" fill="url(#g30)"/><path d="M40 669 32 656 27 654 21 658 22 672 39 672Z" fill="url(#g13)"/><path d="M152 665 155 659 145 646 135 668 138 669Z" fill="url(#g38)"/><path d="M90 647 85 642 70 643 68 647 69 650 71 654 83 658Z" fill="url(#g4)"/><path d="M347 658 340 655 330 663 338 671 343 669Z" fill="url(#g9)"/><path d="M103 777 108 765 105 761 87 769 88 771Z" fill="url(#g2)"/><path d="M357 662 350 660 346 669 360 680 363 671Z" fill="url(#g4)"/><path d="M280 686 296 702 300 701 300 687Z" fill="url(#g29)"/><path d="M235 764 231 755 218 757 212 775 216 776 228 773Z" fill="url(#g19)"/><path d="M190 863 200 860 200 847 189 843 182 851 182 855Z" fill="url(#g13)"/><path d="M144 693 136 696 137 708 146 711 147 696Z" fill="url(#g11)"/><path d="M290 671 299 673 302 660 300 654 288 658Z" fill="url(#g6)"/><path d="M346 771 353 786 365 781 367 779 366 776 356 765Z" fill="url(#g34)"/><path d="M171 683 178 693 193 688 180 679Z" fill="url(#g17)"/><path d="M109 607 112 592 105 590 104 602Z" fill="url(#g14)"/><path d="M81 816 89 808 78 791 77 792 71 798 77 815Z" fill="url(#g16)"/><path d="M62 670 70 655 67 651 53 661 52 666Z" fill="url(#g17)"/><path d="M173 750 177 759 187 758 188 756 184 746Z" fill="url(#g14)"/><path d="M129 824 149 836 152 831 148 817 136 817Z" fill="url(#g17)"/><path d="M101 693 113 698 116 698 121 690 106 683Z" fill="url(#g19)"/><path d="M163 613 165 618 183 618 178 596 171 598Z" fill="url(#g16)"/><path d="M94 624 84 612 73 619 73 621 86 628Z" fill="url(#g6)"/><path d="M273 614 275 620 280 623 289 616 280 608 277 609Z" fill="url(#g32)"/><path d="M258 656 264 652 262 636 254 634 252 636Z" fill="url(#g11)"/><path d="M240 793 248 798 262 785 261 781 249 778Z" fill="url(#g39)"/><path d="M243 764 258 755 252 744 236 747 234 754 238 762Z" fill="url(#g17)"/><path d="M102 726 110 733 108 723Z" fill="url(#g31)"/><path d="M24 802 32 810 38 806 38 796 27 793 23 796Z" fill="url(#g14)"/><path d="M354 745 351 749 357 760 364 755 364 748Z" fill="url(#g12)"/><path d="M44 866 53 863 54 859 45 854 42 865Z" fill="url(#g29)"/><path d="M323 827 317 842 328 858 343 846 344 845 335 830 327 825Z" fill="url(#g16)"/><path d="M301 674 305 678 312 670 303 662Z" fill="url(#g7)"/><path d="M61 703 71 690 67 684 48 693 48 695Z" fill="url(#g32)"/><path d="M170 832 170 845 180 850 187 842 187 838 178 830Z" fill="url(#g35)"/><path d="M205 742 187 740 185 744 190 755 200 753 206 747Z" fill="url(#g7)"/><path d="M110 813 113 798 99 795 96 806Z" fill="url(#g36)"/><path d="M329 865 343 871 354 861 344 849 329 860Z" fill="url(#g16)"/><path d="M162 729 170 727 174 725 173 712 164 710 151 716 151 719Z" fill="url(#g35)"/><path d="M213 865 216 860 215 847 206 845 202 847 202 860Z" fill="url(#g1)"/><path d="M180 876 188 870 189 865 181 858 170 868 170 873Z" fill="url(#g0)"/><path d="M24 717 30 726 33 725 38 719 36 712Z" fill="url(#g21)"/><path d="M237 826 236 824 227 819 219 829 224 839 225 840Z" fill="url(#g5)"/><path d="M178 789 170 781 155 791 161 808 177 797Z" fill="url(#g26)"/><path d="M323 722 323 726 324 729 335 734 350 726 350 725 344 717Z" fill="url(#g18)"/><path d="M159 747 160 733 151 740 155 746Z" fill="url(#g31)"/><path d="M66 625 64 625 51 633 57 643 66 645 68 642Z" fill="url(#g28)"/><path d="M101 670 103 666 101 653 93 648 92 648 84 659 87 666 94 671Z" fill="url(#g23)"/><path d="M324 645 322 656 324 661 327 661 339 652 339 651Z" fill="url(#g28)"/><path d="M42 853 40 850 34 853 32 862 39 863Z" fill="url(#g2)"/><path d="M255 811 273 795 273 794 264 787 249 800Z" fill="url(#g28)"/><path d="M249 837 255 837 261 820 254 813 239 823 240 826Z" fill="url(#g28)"/><path d="M166 653 176 640 163 635 161 637Z" fill="url(#g30)"/><path d="M296 761 282 770 286 783 301 787 302 765Z" fill="url(#g12)"/><path d="M265 634 278 637 280 635 278 627 273 624Z" fill="url(#g22)"/><path d="M137 815 149 815 159 809 153 791 144 788 135 795Z" fill="url(#g18)"/><path d="M168 775 160 772 144 774 144 775 145 786 153 789 168 779Z" fill="url(#g26)"/><path d="M188 836 189 834 191 823 184 821 180 829Z" fill="url(#g30)"/><path d="M133 730 128 737 138 743 143 739 140 730Z" fill="url(#g13)"/><path d="M327 664 324 663 319 669 324 679 333 680 336 673Z" fill="url(#g16)"/><path d="M84 769 79 764 76 763 64 774 77 789 82 786 85 772Z" fill="url(#g2)"/><path d="M78 857 62 846 58 856 76 861Z" fill="url(#g33)"/><path d="M118 869 106 857 103 860 102 867 109 874 115 874 118 872Z" fill="url(#g27)"/><path d="M205 613 210 629 215 633 225 626 216 610Z" fill="url(#g0)"/><path d="M203 809 210 798 204 788 197 793 198 806Z" fill="url(#g19)"/><path d="M181 788 195 791 204 785 206 777 195 774Z" fill="url(#g23)"/><path d="M80 855 82 845 75 838 69 837 62 842Z" fill="url(#g3)"/><path d="M43 612 34 596 26 597 23 600 26 610Z" fill="url(#g14)"/><path d="M241 879 233 869 216 870 231 885 236 886 238 884Z" fill="url(#g18)"/><path d="M133 696 123 691 118 699 123 712 126 714 134 708Z" fill="url(#g10)"/><path d="M193 773 190 769 171 776 171 779 179 786Z" fill="url(#g5)"/><path d="M137 671 133 669 129 674 124 689 134 694 143 690 144 686Z" fill="url(#g36)"/><path d="M322 753 319 762 327 772 337 767 336 753Z" fill="url(#g22)"/><path d="M140 846 143 846 148 842 148 839 132 829Z" fill="url(#g13)"/><path d="M343 635 354 635 357 630 345 615 341 616 337 622Z" fill="url(#g2)"/><path d="M84 842 86 826 78 837 83 842Z" fill="url(#g19)"/><path d="M45 852 55 857 60 843 47 836 42 848Z" fill="url(#g32)"/><path d="M95 704 98 695 87 691 81 693Z" fill="url(#g38)"/><path d="M240 610 225 604 221 604 219 608 228 625 230 625Z" fill="url(#g35)"/><path d="M295 706 295 725 309 714 304 704 301 703Z" fill="url(#g5)"/><path d="M289 829 304 844 314 841 320 827 308 820Z" fill="url(#g7)"/><path d="M40 848 44 836 19 835 15 839 32 851Z" fill="url(#g13)"/><path d="M301 652 320 655 322 644 321 641 319 638 303 643Z" fill="url(#g14)"/><path d="M241 636 230 627 228 627 216 635 216 650 232 656Z" fill="url(#g1)"/><path d="M212 828 217 828 226 817 226 815 204 812 203 818Z" fill="url(#g31)"/><path d="M146 754 153 747 148 741 145 741 139 746 139 752Z" fill="url(#g35)"/><path d="M62 875 74 873 76 872 76 863 56 859 55 863Z" fill="url(#g32)"/><path d="M248 839 243 846 247 856 254 860 261 859 264 847 256 839Z" fill="url(#g8)"/><path d="M33 813 32 816 47 827 53 817 52 816 39 809Z" fill="url(#g3)"/><path d="M28 751 33 770 49 773 50 751 42 746 31 748Z" fill="url(#g13)"/><path d="M100 860 82 857 79 863 78 871 86 873 94 871 99 867Z" fill="url(#g12)"/><path d="M52 718 50 720 50 729 64 731 66 727 64 717 62 716Z" fill="url(#g12)"/><path d="M198 706 202 699 195 690 179 697 178 707Z" fill="url(#g36)"/><path d="M28 790 40 794 48 788 49 775 33 773 26 777Z" fill="url(#g4)"/><path d="M338 673 335 681 337 688 359 684 360 683 344 671Z" fill="url(#g15)"/><path d="M122 714 110 716 110 720 117 722 124 715Z" fill="url(#g8)"/><path d="M26 698 39 701 41 700 45 695 45 692 39 684 22 692 21 693Z" fill="url(#g16)"/><path d="M108 611 102 604 96 606 103 612Z" fill="url(#g0)"/><path d="M206 835 211 828 203 820 200 831Z" fill="url(#g4)"/><path d="M346 877 355 879 364 875 366 873 356 864 344 873Z" fill="url(#g23)"/><path d="M178 637 185 630 184 621 166 620 164 633Z" fill="url(#g9)"/><path d="M138 848 127 825 126 824 119 846 130 853Z" fill="url(#g29)"/><path d="M210 880 211 886 216 891 229 886 215 872Z" fill="url(#g23)"/><path d="M269 888 287 884 287 869 269 869 266 879Z" fill="url(#g35)"/><path d="M57 883 66 907 75 891 73 876 62 878Z" fill="url(#g20)"/><path d="M206 810 225 813 227 800 212 799Z" fill="url(#g1)"/><path d="M116 646 119 657 126 660 128 644Z" fill="url(#g33)"/><path d="M128 621 115 615 111 630 124 629Z" fill="url(#g33)"/><path d="M101 780 88 774 85 786 96 789Z" fill="url(#g16)"/><path d="M85 631 71 624 69 625 71 641 84 640Z" fill="url(#g21)"/><path d="M95 647 102 651 113 646 113 645 107 634 105 634Z" fill="url(#g2)"/><path d="M256 661 237 663 235 676 248 684 261 673Z" fill="url(#g25)"/><path d="M339 752 340 768 343 769 355 762 348 750Z" fill="url(#g37)"/><path d="M105 855 107 851 100 841 87 844 84 845 83 854 101 858Z" fill="url(#g32)"/><path d="M328 701 324 718 343 714 344 707 334 698Z" fill="url(#g37)"/><path d="M167 655 171 659 175 659 183 650 178 641Z" fill="url(#g1)"/><path d="M178 800 165 810 166 811 181 814 184 808Z" fill="url(#g0)"/><path d="M197 878 208 878 213 870 213 867 202 862 191 866 190 870Z" fill="url(#g6)"/><path d="M133 598 128 596 115 614 128 619Z" fill="url(#g31)"/><path d="M166 656 156 660 153 665 164 679 165 680 170 660Z" fill="url(#g20)"/><path d="M127 740 122 747 126 754 134 754 137 752 137 746Z" fill="url(#g9)"/><path d="M133 667 144 644 143 642 130 643 129 662Z" fill="url(#g3)"/><path d="M180 885 179 878 169 875 159 883 159 884 160 885 176 893Z" fill="url(#g10)"/><path d="M158 697 150 697 149 713 163 708Z" fill="url(#g34)"/><path d="M164 654 158 638 147 639 145 641 146 644 156 657Z" fill="url(#g13)"/><path d="M259 659 264 672 268 673 282 657 278 653 266 654Z" fill="url(#g24)"/><path d="M196 771 203 773 199 756 191 758 190 759 192 767Z" fill="url(#g10)"/><path d="M286 828 307 817 302 801 284 808 281 821Z" fill="url(#g3)"/><path d="M275 721 284 727 288 726 279 712Z" fill="url(#g16)"/><path d="M139 850 132 854 132 863 136 866 148 861 143 850Z" fill="url(#g12)"/><path d="M202 812 196 808 187 809 184 816 184 818 193 821 201 817Z" fill="url(#g28)"/><path d="M166 683 163 681 147 687 146 690 150 694 158 695Z" fill="url(#g23)"/><path d="M125 737 118 733 112 735 111 736 108 745 120 746Z" fill="url(#g23)"/><path d="M263 859 268 866 288 866 290 864 276 844 266 848Z" fill="url(#g16)"/><path d="M356 807 372 805 374 803 365 784 353 789 350 794 352 803Z" fill="url(#g33)"/><path d="M95 873 87 875 94 890 98 881Z" fill="url(#g38)"/><path d="M23 715 35 710 37 704 26 701Z" fill="url(#g2)"/><path d="M355 842 346 846 346 847 356 859 366 851 365 846Z" fill="url(#g30)"/><path d="M215 868 233 867 234 862 230 855 217 861 215 866Z" fill="url(#g17)"/><path d="M127 883 119 875 117 877 117 879 122 888 125 888Z" fill="url(#g7)"/><path d="M39 674 21 674 17 680 21 689 39 682Z" fill="url(#g4)"/><path d="M213 649 214 636 208 632 194 635 198 648 211 651Z" fill="url(#g2)"/><path d="M332 597 331 603 341 613 344 612 346 609 348 597 344 593 339 592Z" fill="url(#g30)"/><path d="M159 880 166 873 167 868 160 861 153 863 156 876Z" fill="url(#g7)"/><path d="M126 757 122 766 124 770 136 770 133 757Z" fill="url(#g36)"/><path d="M304 766 304 785 324 778 325 775 316 764Z" fill="url(#g15)"/><path d="M50 717 41 703 40 703 37 711 40 718 48 719Z" fill="url(#g23)"/><path d="M242 609 247 610 257 603 257 594 256 593 244 596 242 608Z" fill="url(#g25)"/><path d="M286 830 277 843 292 863 294 863 303 846Z" fill="url(#g25)"/><path d="M281 684 301 685 304 680 300 675 289 673Z" fill="url(#g5)"/><path d="M169 866 180 856 179 852 168 848 166 849 162 859Z" fill="url(#g4)"/><path d="M283 829 279 823 264 822 258 838 265 845 275 841Z" fill="url(#g6)"/><path d="M205 836 199 833 191 836 189 837 189 842 201 846 205 843Z" fill="url(#g9)"/><path d="M210 653 197 651 194 653 191 665 201 671 205 669Z" fill="url(#g29)"/><path d="M277 686 267 676 264 675 250 687 252 697 265 700 268 699Z" fill="url(#g21)"/><path d="M83 823 80 819 76 818 70 821 70 834 75 835Z" fill="url(#g32)"/><path d="M197 688 205 698 216 697 222 682 206 672 203 674Z" fill="url(#g12)"/><path d="M163 752 163 753 170 766 174 760 170 751Z" fill="url(#g29)"/><path d="M30 819 22 832 45 834 45 830Z" fill="url(#g11)"/><path d="M233 678 225 682 218 698 222 703 244 705 250 698 247 687Z" fill="url(#g9)"/><path d="M143 598 145 619 160 614 160 614Z" fill="url(#g24)"/><path d="M145 596 160 610 168 597 152 589Z" fill="url(#g7)"/><path d="M298 759 303 763 315 761 319 751 316 746 299 745 296 749Z" fill="url(#g28)"/><path d="M145 848 151 861 159 858 164 848 150 843Z" fill="url(#g4)"/><path d="M129 863 129 855 118 848 109 852 108 855 121 867Z" fill="url(#g39)"/><path d="M281 771 265 776 263 780 265 785 274 792 284 783Z" fill="url(#g33)"/><path d="M239 791 247 776 242 767 237 765 230 774Z" fill="url(#g20)"/><path d="M106 876 100 870 97 873 100 879 104 879Z" fill="url(#g3)"/><path d="M326 779 331 790 348 793 351 787 343 771 339 770 327 775Z" fill="url(#g24)"/><path d="M46 881 55 882 60 876 54 865 45 868 44 880Z" fill="url(#g35)"/><path d="M151 667 140 671 146 684 161 679Z" fill="url(#g14)"/><path d="M255 657 249 637 243 637 235 657 236 659Z" fill="url(#g16)"/><path d="M324 641 325 643 339 649 341 637Z" fill="url(#g23)"/><path d="M49 732 46 734 44 745 50 749 64 745 64 742 63 734Z" fill="url(#g27)"/><path d="M178 828 182 819 181 816 167 814 170 829Z" fill="url(#g9)"/><path d="M131 668 127 663 118 660 105 667 103 671 127 672Z" fill="url(#g27)"/><path d="M120 748 107 748 105 748 106 759 110 763 119 765 124 756Z" fill="url(#g19)"/><path d="M73 761 64 747 51 751 51 773 62 772Z" fill="url(#g10)"/><path d="M305 800 309 817 323 824 326 823 328 817 324 801Z" fill="url(#g7)"/><path d="M108 736 99 727 97 727 92 741 93 743 104 747 106 746Z" fill="url(#g38)"/><path d="M48 720 40 720 35 726 45 733 48 730Z" fill="url(#g10)"/><path d="M263 879 267 868 261 861 254 862 242 878Z" fill="url(#g32)"/><path d="M126 674 105 673 107 681 122 689Z" fill="url(#g10)"/><path d="M256 631 261 632 271 621 269 615 256 622Z" fill="url(#g14)"/><path d="M105 778 119 785 122 772 119 767 110 766Z" fill="url(#g4)"/><path d="M188 630 192 632 207 630 202 614 186 620Z" fill="url(#g29)"/><path d="M68 729 67 733 67 741 84 738 79 729Z" fill="url(#g15)"/><path d="M323 639 339 634 335 624 323 627 321 636Z" fill="url(#g27)"/><path d="M260 732 254 742 261 755 271 753 276 747 274 740Z" fill="url(#g7)"/><path d="M106 710 109 713 120 711 116 700 114 700Z" fill="url(#g24)"/><path d="M317 618 325 606 315 605 312 616Z" fill="url(#g1)"/><path d="M207 727 209 736 230 736 230 729 221 720Z" fill="url(#g12)"/><path d="M51 716 62 714 60 706 46 697 43 701Z" fill="url(#g3)"/><path d="M78 693 74 691 62 705 64 714 66 715 77 710 78 695Z" fill="url(#g31)"/><path d="M312 870 327 865 327 860 315 844 305 846 296 863Z" fill="url(#g15)"/><path d="M368 648 358 642 350 657 358 659Z" fill="url(#g27)"/><path d="M303 701 305 702 317 695 315 687 305 683 303 687Z" fill="url(#g13)"/><path d="M260 730 274 738 283 728 273 723 263 726Z" fill="url(#g32)"/><path d="M279 709 294 704 279 688 271 701Z" fill="url(#g29)"/><path d="M360 721 352 725 353 729 371 734 373 733 372 725Z" fill="url(#g28)"/><path d="M318 636 320 626 316 621 310 618 301 619 299 635 302 640Z" fill="url(#g24)"/><path d="M299 652 301 642 297 637 283 636 280 639 279 651 284 656 287 657Z" fill="url(#g0)"/><path d="M168 685 160 696 165 707 174 709 175 708 176 696Z" fill="url(#g4)"/><path d="M260 757 245 767 249 775 261 778 264 775Z" fill="url(#g13)"/><path d="M70 622 71 618 64 600 59 600 50 611 64 623 67 624Z" fill="url(#g22)"/><path d="M78 890 91 889 85 876 77 873 76 874Z" fill="url(#g24)"/><path d="M226 842 223 842 217 846 218 859 229 853 230 848Z" fill="url(#g24)"/><path d="M319 620 322 624 335 621 339 615 329 606Z" fill="url(#g15)"/><path d="M349 612 347 614 358 627 367 623 365 614Z" fill="url(#g17)"/><path d="M50 660 49 651 43 650 35 656 42 667 49 665Z" fill="url(#g31)"/><path d="M265 774 280 769 271 755 262 757Z" fill="url(#g32)"/><path d="M267 652 277 651 278 640 265 637Z" fill="url(#g16)"/><path d="M185 668 181 676 195 686 200 673 190 667Z" fill="url(#g11)"/><path d="M264 724 272 721 277 710 269 702 266 703Z" fill="url(#g37)"/><path d="M48 609 56 599 40 591 37 594 45 610Z" fill="url(#g8)"/><path d="M83 817 88 823 101 827 111 818 110 816 94 809 91 809Z" fill="url(#g39)"/><path d="M90 719 82 728 88 739 90 740 95 726Z" fill="url(#g19)"/><path d="M131 619 141 621 142 620 140 599 135 599Z" fill="url(#g14)"/><path d="M158 730 149 722 143 729 147 738 148 738Z" fill="url(#g16)"/><path d="M358 827 356 825 338 830 345 844 354 840Z" fill="url(#g10)"/><path d="M168 681 179 676 182 668 175 661 172 661 168 680Z" fill="url(#g5)"/><path d="M101 673 95 673 89 688 99 691 104 682Z" fill="url(#g13)"/><path d="M41 634 42 632 42 631 27 628 22 635 27 641Z" fill="url(#g17)"/><path d="M161 755 157 760 161 769 168 772 169 769Z" fill="url(#g11)"/><path d="M303 788 304 798 324 799 329 791 325 780Z" fill="url(#g10)"/><path d="M192 886 196 879 189 872 181 878 182 884Z" fill="url(#g7)"/><path d="M87 601 100 588 98 585 87 588 85 598Z" fill="url(#g35)"/><path d="M163 748 169 747 169 731 164 732Z" fill="url(#g26)"/><path d="M249 612 255 619 267 613 258 605Z" fill="url(#g11)"/><path d="M279 684 288 672 286 658 284 658 269 674Z" fill="url(#g1)"/><path d="M360 828 356 840 366 845 370 839 368 829Z" fill="url(#g32)"/><path d="M114 614 110 613 103 615 97 624 105 632 108 632 109 631Z" fill="url(#g34)"/><path d="M127 595 122 590 114 591 111 611 114 613Z" fill="url(#g13)"/><path d="M290 868 289 886 297 895 309 887 311 872 295 864 292 865Z" fill="url(#g9)"/><path d="M301 597 312 599 314 594 311 586 307 586Z" fill="url(#g19)"/><path d="M241 847 232 848 231 854 235 861 245 856Z" fill="url(#g17)"/><path d="M151 838 151 842 165 847 167 846 167 832 155 832Z" fill="url(#g38)"/><path d="M280 710 290 726 293 726 293 707Z" fill="url(#g11)"/><path d="M302 654 303 659 314 669 317 668 323 661 320 657Z" fill="url(#g15)"/><path d="M296 634 298 619 293 618 282 626 284 634Z" fill="url(#g38)"/><path d="M238 795 229 800 227 815 228 816 238 822 253 811 247 800Z" fill="url(#g19)"/><path d="M243 718 243 707 223 705 223 718 232 726Z" fill="url(#g33)"/><path d="M319 698 307 704 312 713 321 718 325 700Z" fill="url(#g15)"/><path d="M41 629 41 617 27 623 27 626Z" fill="url(#g33)"/><path d="M67 821 55 819 48 830 48 834 61 840 67 835Z" fill="url(#g4)"/><path d="M234 587 229 585 216 591 221 602 224 601Z" fill="url(#g6)"/><path d="M86 767 104 759 103 749 93 745 81 762Z" fill="url(#g8)"/><path d="M88 605 86 610 96 622 101 615 92 606Z" fill="url(#g9)"/><path d="M42 878 42 868 40 867 31 865 29 866 28 877Z" fill="url(#g39)"/><path d="M92 645 103 633 95 626 87 631 87 640Z" fill="url(#g1)"/><path d="M84 666 82 660 71 656 64 672 68 678Z" fill="url(#g24)"/><path d="M369 646 379 629 369 625 359 630 356 636 358 640Z" fill="url(#g11)"/><path d="M286 595 279 580 277 578 266 591 277 606 280 605Z" fill="url(#g13)"/><path d="M326 892 326 868 313 873 311 886Z" fill="url(#g35)"/><path d="M117 731 117 725 111 724 112 732Z" fill="url(#g9)"/><path d="M299 741 316 742 321 730 320 728 299 733Z" fill="url(#g31)"/><path d="M135 869 130 865 121 869 120 872 129 881 136 877 137 874Z" fill="url(#g10)"/><path d="M318 687 320 695 327 697 333 695 335 689 332 683 324 682Z" fill="url(#g3)"/><path d="M95 708 81 697 79 710 90 716Z" fill="url(#g24)"/><path d="M198 831 201 820 194 823 191 834Z" fill="url(#g28)"/><path d="M101 601 102 591 90 603 92 604Z" fill="url(#g4)"/><path d="M353 731 354 742 365 746 370 742 371 736Z" fill="url(#g3)"/><path d="M93 672 86 668 68 680 68 682 74 689 79 692 86 688Z" fill="url(#g27)"/><path d="M97 710 92 717 98 725 99 725 107 720 107 715 104 711Z" fill="url(#g22)"/><path d="M134 793 143 787 141 775 137 773 125 773 121 787 122 790Z" fill="url(#g26)"/><path d="M83 788 80 790 91 807 94 806 97 793 97 792Z" fill="url(#g31)"/><path d="M355 823 355 808 351 805 331 818 329 824 336 828Z" fill="url(#g16)"/><path d="M32 746 41 744 43 734 33 728 30 728 28 733Z" fill="url(#g6)"/><path d="M367 606 361 597 352 598 350 609 365 611Z" fill="url(#g29)"/><path d="M170 774 189 767 187 760 177 761 171 769Z" fill="url(#g21)"/><path d="M161 616 145 621 143 623 147 637 159 636 162 633 164 620Z" fill="url(#g30)"/><path d="M356 641 354 637 343 637 340 650 341 652 348 656Z" fill="url(#g2)"/><path d="M259 727 261 725 264 703 251 700 246 706 247 718Z" fill="url(#g8)"/><path d="M173 747 183 743 184 739 180 730 176 728 173 730Z" fill="url(#g3)"/><path d="M104 780 99 791 114 795 119 790 118 788Z" fill="url(#g31)"/><path d="M247 838 238 828 227 841 232 846 242 845Z" fill="url(#g8)"/><path d="M309 616 313 603 312 602 301 600 302 616Z" fill="url(#g16)"/><path d="M316 685 322 680 317 670 315 670 306 680Z" fill="url(#g14)"/><path d="M91 744 90 742 86 741 67 744 66 746 76 760 79 761Z" fill="url(#g28)"/><path d="M208 742 208 747 218 754 230 752 233 745 229 739 209 739Z" fill="url(#g15)"/><path d="M149 761 145 771 159 769 155 761Z" fill="url(#g39)"/><path d="M207 836 207 843 215 845 221 840 217 829 212 829Z" fill="url(#g31)"/><path d="M127 716 133 727 140 727 148 719 147 714 135 710Z" fill="url(#g36)"/><path d="M209 775 216 756 207 749 201 754 206 775 207 776Z" fill="url(#g26)"/><path d="M160 751 154 749 148 756 149 758 155 758 160 752Z" fill="url(#g25)"/><path d="M61 624 49 613 45 613 44 614 44 631 49 631Z" fill="url(#g26)"/><path d="M234 661 232 658 215 651 212 653 207 670 224 680 232 676Z" fill="url(#g12)"/><path d="M200 724 184 730 187 738 205 739 206 737 204 728Z" fill="url(#g13)"/><path d="M130 640 143 639 144 638 141 624 130 622 127 630Z" fill="url(#g11)"/><path d="M150 862 137 869 139 873 153 876Z" fill="url(#g25)"/><path d="M296 727 298 730 320 725 320 722 311 716Z" fill="url(#g35)"/><path d="M321 750 336 749 334 736 323 732 319 744Z" fill="url(#g33)"/><path d="M74 815 69 799 60 800 56 816 68 818Z" fill="url(#g7)"/><path d="M331 792 327 800 331 815 349 803 347 795Z" fill="url(#g28)"/><path d="M126 734 130 728 125 718 120 724 119 731Z" fill="url(#g4)"/><path d="M53 658 66 649 66 647 57 646 51 651Z" fill="url(#g29)"/><path d="M285 730 277 739 279 745 293 747 296 742 295 732 293 729 290 728Z" fill="url(#g16)"/><path d="M274 797 256 812 263 819 279 820 282 808Z" fill="url(#g26)"/><path d="M185 666 188 665 191 653 184 652 178 660Z" fill="url(#g17)"/></g></g>
<rect x="72.65" y="813.10" width="26.65" height="12.20" fill="#bec2fa"/>
<rect x="73.65" y="814.10" width="24.65" height="11.20" fill="url(#hate)"/>
<rect x="99.30" y="726.10" width="26.65" height="99.20" fill="#bec2fa"/>
<rect x="100.30" y="727.10" width="24.65" height="98.20" fill="url(#hate)"/>
<rect x="125.95" y="620.40" width="26.65" height="204.90" fill="#bec2fa"/>
<rect x="126.95" y="621.40" width="24.65" height="203.90" fill="url(#hate)"/>
<rect x="152.60" y="630.70" width="26.65" height="194.60" fill="#bec2fa"/>
<rect x="153.60" y="631.70" width="24.65" height="193.60" fill="url(#hate)"/>
<rect x="179.25" y="736.00" width="26.65" height="89.30" fill="#bec2fa"/>
<rect x="180.25" y="737.00" width="24.65" height="88.30" fill="url(#hate)"/>
<rect x="205.90" y="766.60" width="26.65" height="58.70" fill="#bec2fa"/>
<rect x="206.90" y="767.60" width="24.65" height="57.70" fill="url(#hate)"/>
<rect x="232.55" y="816.30" width="26.65" height="9.00" fill="#bec2fa"/>
<rect x="233.55" y="817.30" width="24.65" height="8.00" fill="url(#hate)"/>
<rect x="259.20" y="817.50" width="26.65" height="7.80" fill="#bec2fa"/>
<rect x="260.20" y="818.50" width="24.65" height="6.80" fill="url(#hate)"/>
<rect x="72.65" y="813.10" width="26.65" height="12.20" fill="none" stroke="#5b6ef5" stroke-width="1.9"/>
<rect x="99.30" y="726.10" width="26.65" height="99.20" fill="none" stroke="#5b6ef5" stroke-width="1.9"/>
<rect x="125.95" y="620.40" width="26.65" height="204.90" fill="none" stroke="#5b6ef5" stroke-width="1.9"/>
<rect x="152.60" y="630.70" width="26.65" height="194.60" fill="none" stroke="#5b6ef5" stroke-width="1.9"/>
<rect x="179.25" y="736.00" width="26.65" height="89.30" fill="none" stroke="#5b6ef5" stroke-width="1.9"/>
<rect x="205.90" y="766.60" width="26.65" height="58.70" fill="none" stroke="#5b6ef5" stroke-width="1.9"/>
<rect x="232.55" y="816.30" width="26.65" height="9.00" fill="none" stroke="#5b6ef5" stroke-width="1.9"/>
<rect x="259.20" y="817.50" width="26.65" height="7.80" fill="none" stroke="#5b6ef5" stroke-width="1.9"/>
<polyline points="46.1,823.8 47.6,823.6 49.1,823.4 50.6,823.1 52.1,822.8 53.6,822.5 55.1,822.2 56.6,821.7 58.1,821.3 59.6,820.8 61.1,820.2 62.6,819.6 64.1,819.0 65.6,818.2 67.1,817.4 68.6,816.5 70.1,815.5 71.6,814.5 73.1,813.3 74.6,812.1 76.1,810.7 77.6,809.2 79.1,807.6 80.6,805.9 82.1,804.1 83.6,802.1 85.1,800.0 86.6,797.7 88.1,795.3 89.6,792.7 91.1,790.0 92.6,787.1 94.1,784.1 95.6,780.9 97.1,777.5 98.6,774.0 100.1,770.3 101.6,766.5 103.1,762.5 104.6,758.3 106.1,754.0 107.6,749.5 109.1,744.9 110.6,740.2 112.1,735.4 113.6,730.5 115.1,725.5 116.6,720.4 118.1,715.2 119.6,710.0 121.1,704.8 122.6,699.5 124.1,694.2 125.6,689.0 127.1,683.8 128.6,678.7 130.1,673.7 131.6,668.8 133.1,664.0 134.6,659.3 136.1,654.9 137.6,650.6 139.1,646.5 140.6,642.7 142.1,639.1 143.6,635.8 145.1,632.7 146.6,630.0 148.1,627.6 149.6,625.5 151.1,623.7 152.6,622.3 154.1,621.3 155.6,620.6 157.1,620.2 158.6,620.3 160.1,620.6 161.6,621.4 163.1,622.4 164.6,623.8 166.1,625.5 167.6,627.6 169.1,629.9 170.6,632.6 172.1,635.5 173.6,638.7 175.1,642.1 176.6,645.8 178.1,649.7 179.6,653.8 181.1,658.1 182.6,662.6 184.1,667.2 185.6,671.9 187.1,676.8 188.6,681.7 190.1,686.7 191.6,691.7 193.1,696.8 194.6,701.9 196.1,707.0 197.6,712.1 199.1,717.1 200.6,722.1 202.1,727.0 203.6,731.9 205.1,736.6 206.6,741.3 208.1,745.8 209.6,750.3 211.1,754.6 212.6,758.7 214.1,762.7 215.6,766.6 217.1,770.3 218.6,773.9 220.1,777.4 221.6,780.6 223.1,783.7 224.6,786.7 226.1,789.5 227.6,792.2 229.1,794.7 230.6,797.1 232.1,799.3 233.6,801.4 235.1,803.4 236.6,805.2 238.1,806.9 239.6,808.5 241.1,810.0 242.6,811.4 244.1,812.7 245.6,813.8 247.1,814.9 248.6,815.9 250.1,816.8 251.6,817.7 253.1,818.4 254.6,819.1 256.1,819.8 257.6,820.4 259.1,820.9 260.6,821.4 262.1,821.8 263.6,822.2 265.1,822.5 266.6,822.8 268.1,823.1 269.6,823.4 271.1,823.6 272.6,823.8 274.1,824.0 275.6,824.2 277.1,824.3 278.6,824.4 280.1,824.5 281.6,824.6 283.1,824.7 284.6,824.8 286.1,824.9 287.6,824.9 289.1,825.0 290.6,825.0 292.1,825.1 293.6,825.1 295.1,825.1 296.6,825.1 298.1,825.2 299.6,825.2 301.1,825.2 302.6,825.2 304.1,825.2 305.6,825.2 307.1,825.3 308.6,825.3 310.1,825.3 311.6,825.3 313.1,825.3 314.6,825.3 316.1,825.3 317.6,825.3 319.1,825.3 320.6,825.3 322.1,825.3 323.6,825.3 325.1,825.3 326.6,825.3 328.1,825.3 329.6,825.3 331.1,825.3 332.6,825.3 334.1,825.3 335.6,825.3 337.1,825.3" fill="none" stroke="#5b6ef5" stroke-width="1.3"/>
<rect x="46.1" y="605.4" width="292.3" height="219.9" fill="none" stroke="#5b6ef5" stroke-width="2"/>
<line x1="46.00" y1="825.3" x2="46.00" y2="827.8" stroke="#5b6ef5" stroke-width="1.5"/>
<text x="46.00" y="839.1" font-family="Liberation Sans" font-weight="bold" font-size="10.6" fill="#5b6ef5" text-anchor="middle" transform="translate(46.00 0) scale(0.90 1) translate(-46.00 0)">0.0</text>
<line x1="179.25" y1="825.3" x2="179.25" y2="827.8" stroke="#5b6ef5" stroke-width="1.5"/>
<text x="179.25" y="839.1" font-family="Liberation Sans" font-weight="bold" font-size="10.6" fill="#5b6ef5" text-anchor="middle" transform="translate(179.25 0) scale(0.90 1) translate(-179.25 0)">0.5</text>
<line x1="312.50" y1="825.3" x2="312.50" y2="827.8" stroke="#5b6ef5" stroke-width="1.5"/>
<text x="312.50" y="839.1" font-family="Liberation Sans" font-weight="bold" font-size="10.6" fill="#5b6ef5" text-anchor="middle" transform="translate(312.50 0) scale(0.90 1) translate(-312.50 0)">1.0</text>
<text x="192.2" y="851.6" font-family="Liberation Serif" font-weight="bold" font-size="11.7" fill="#5b6ef5" text-anchor="middle">Grain size<tspan font-weight="normal" fill="#111">(</tspan>&#956;m<tspan font-weight="normal" fill="#111">)</tspan></text>
<rect x="208.1" y="613.6" width="118.0" height="12.1" fill="#c8c8c8"/>
<rect x="205.6" y="611.1" width="118.0" height="12.1" fill="#fff" stroke="#5b6ef5" stroke-width="1.2"/>
<text x="264.6" y="620.0" font-family="Liberation Serif" font-weight="bold" font-size="10.2" fill="#5b6ef5" text-anchor="middle" textLength="113.0" lengthAdjust="spacingAndGlyphs">Average grain size (0.42&#956;m)</text>
<line x1="255.0" y1="841.4" x2="337.6" y2="841.4" stroke="#fff" stroke-width="2.6"/>
<text x="296.3" y="853.9" font-family="Liberation Sans" font-weight="bold" font-size="9.2" fill="#f4f4f4" text-anchor="middle" transform="translate(296.3 0) scale(0.8 1) translate(-296.3 0)">2 &#956;m</text>
<text x="47.6" y="627.9" font-family="Liberation Serif" font-size="25.7" fill="#ff0000" textLength="26.9" lengthAdjust="spacingAndGlyphs">(e)</text></g>
<g><g clip-path="url(#cpf)"><g filter="url(#semblur)"><rect x="373.1" y="593.7" width="314.9" height="291.3" fill="#3a3a3a"/>
<path d="M614 634 618 631 621 625 619 609 610 607 606 609 601 616 606 628Z" fill="url(#g22)"/><path d="M686 790 682 786 670 791 671 805 675 805Z" fill="url(#g34)"/><path d="M429 692 447 691 450 684 445 677 432 681Z" fill="url(#g7)"/><path d="M601 661 608 672 614 673 616 655Z" fill="url(#g14)"/><path d="M451 645 456 632 451 627 445 626 436 634 435 641Z" fill="url(#g21)"/><path d="M643 865 642 869 652 877 664 878 668 869 660 859Z" fill="url(#g27)"/><path d="M641 634 636 638 636 650 653 650 655 637Z" fill="url(#g4)"/><path d="M682 766 698 763 707 752 699 743 682 745 679 763Z" fill="url(#g2)"/><path d="M433 730 430 723 421 719 414 725 432 731Z" fill="url(#g16)"/><path d="M490 592 494 598 497 598 508 591 497 571 490 580Z" fill="url(#g0)"/><path d="M547 682 540 694 540 695 562 699 563 693Z" fill="url(#g8)"/><path d="M557 882 550 888 549 891 561 904 575 891 575 889 567 882Z" fill="url(#g23)"/><path d="M580 704 586 707 592 694 584 692Z" fill="url(#g8)"/><path d="M599 815 604 828 613 828 615 825 612 814 610 813Z" fill="url(#g17)"/><path d="M444 731 448 743 455 742 463 730 459 725 453 725Z" fill="url(#g5)"/><path d="M676 604 684 594 684 593 679 591 669 599 669 601Z" fill="url(#g7)"/><path d="M392 579 384 577 377 581 371 594 389 602 402 592Z" fill="url(#g9)"/><path d="M512 870 520 870 527 866 531 859 531 855 524 850 522 850Z" fill="url(#g36)"/><path d="M543 714 547 715 564 710 564 709 561 702 540 698 539 700Z" fill="url(#g5)"/><path d="M524 627 524 633 527 637 545 636 546 631 538 625 531 624Z" fill="url(#g26)"/><path d="M432 678 444 674 444 667 425 667 424 670Z" fill="url(#g34)"/><path d="M654 684 660 680 652 669 644 679 644 680Z" fill="url(#g2)"/><path d="M673 685 680 689 686 681 681 677Z" fill="url(#g8)"/><path d="M678 850 688 846 682 842 676 844 674 847Z" fill="url(#g9)"/><path d="M522 609 525 596 520 591 514 593 515 609 518 611Z" fill="url(#g35)"/><path d="M518 681 509 688 508 692 521 703 536 699 537 694Z" fill="url(#g28)"/><path d="M653 903 661 898 666 883 665 881 653 880 651 899Z" fill="url(#g38)"/><path d="M619 654 616 673 619 675 623 674 631 669 632 662 631 656Z" fill="url(#g22)"/><path d="M532 726 526 734 536 745 542 738Z" fill="url(#g22)"/><path d="M375 868 375 856 366 851 362 856Z" fill="url(#g27)"/><path d="M550 718 552 728 563 730 562 714Z" fill="url(#g7)"/><path d="M633 775 656 765 656 764 649 753 635 757 632 773Z" fill="url(#g13)"/><path d="M613 644 599 649 598 658 599 658 616 652Z" fill="url(#g8)"/><path d="M467 812 468 811 470 786 456 786 457 810Z" fill="url(#g35)"/><path d="M506 687 498 680 479 685 483 694 490 698 504 693 506 692Z" fill="url(#g7)"/><path d="M576 819 581 817 580 806 564 799 562 804Z" fill="url(#g8)"/><path d="M570 662 568 663 566 676 573 684 578 683 583 671Z" fill="url(#g38)"/><path d="M639 853 643 863 660 856 662 849 659 844 648 839Z" fill="url(#g9)"/><path d="M667 880 669 882 679 885 685 874 680 868 671 870Z" fill="url(#g12)"/><path d="M477 685 470 682 466 706 470 706 481 694Z" fill="url(#g10)"/><path d="M540 611 540 624 547 629 551 623 542 611Z" fill="url(#g14)"/><path d="M477 881 469 872 460 894 462 897 467 900 474 895Z" fill="url(#g30)"/><path d="M587 670 600 677 605 673 598 661 596 661 594 662Z" fill="url(#g30)"/><path d="M471 783 474 781 474 769 467 761 462 764 455 782 456 784Z" fill="url(#g2)"/><path d="M612 691 617 682 617 677 614 675 607 674 602 679 600 690Z" fill="url(#g1)"/><path d="M334 638 361 645 375 634 376 628 363 620Z" fill="url(#g17)"/><path d="M653 821 666 828 671 826 664 810 662 810Z" fill="url(#g14)"/><path d="M391 849 389 849 379 856 378 869 381 870 391 867Z" fill="url(#g2)"/><path d="M571 685 564 677 548 678 547 679 547 680 565 691Z" fill="url(#g21)"/><path d="M659 614 674 612 674 606 668 603 662 606Z" fill="url(#g8)"/><path d="M374 678 367 687 366 700 378 708 384 705 385 680 383 679Z" fill="url(#g24)"/><path d="M619 741 610 743 603 758 610 766 625 752Z" fill="url(#g16)"/><path d="M512 873 511 875 517 890 528 885 520 873Z" fill="url(#g21)"/><path d="M493 844 494 843 487 831 475 839Z" fill="url(#g10)"/><path d="M402 790 398 794 402 804 406 805 409 796Z" fill="url(#g33)"/><path d="M660 788 657 784 644 791 646 799 655 801Z" fill="url(#g28)"/><path d="M557 757 554 766 559 775 572 770 575 755 570 753Z" fill="url(#g4)"/><path d="M627 696 628 692 618 684 614 691 626 697Z" fill="url(#g5)"/><path d="M441 752 427 747 419 750 429 769 441 753Z" fill="url(#g0)"/><path d="M536 609 541 609 549 600 544 593 534 598Z" fill="url(#g15)"/><path d="M542 716 533 724 543 737 550 730 547 717Z" fill="url(#g7)"/><path d="M401 807 394 810 391 822 402 827 407 808Z" fill="url(#g35)"/><path d="M639 685 642 681 642 679 632 670 625 676 634 685Z" fill="url(#g27)"/><path d="M591 713 600 707 595 695 589 709Z" fill="url(#g33)"/><path d="M439 613 439 614 445 623 451 624 462 605 448 599Z" fill="url(#g34)"/><path d="M613 831 604 831 595 838 594 841 600 850 611 851 617 845Z" fill="url(#g10)"/><path d="M368 802 371 803 380 799 384 792 380 779 370 779 366 787Z" fill="url(#g2)"/><path d="M409 806 419 810 423 795 419 792 412 796Z" fill="url(#g30)"/><path d="M650 821 639 812 635 812 632 823 637 828 644 829Z" fill="url(#g22)"/><path d="M555 881 550 869 544 870 541 877 549 886Z" fill="url(#g17)"/><path d="M418 624 434 631 442 624 437 616 427 617Z" fill="url(#g31)"/><path d="M501 715 503 696 491 700 487 717Z" fill="url(#g26)"/><path d="M668 695 672 706 680 704 682 696 680 692 672 688Z" fill="url(#g30)"/><path d="M545 738 555 743 562 737 562 734 551 732Z" fill="url(#g32)"/><path d="M520 733 524 732 529 725 519 718 512 722 512 729Z" fill="url(#g0)"/><path d="M529 776 530 770 515 761 509 768 513 776 519 779Z" fill="url(#g35)"/><path d="M504 715 510 719 517 715 519 705 507 694Z" fill="url(#g2)"/><path d="M427 881 423 897 425 899 436 900 439 889Z" fill="url(#g38)"/><path d="M664 630 679 642 688 638 689 634 679 622Z" fill="url(#g16)"/><path d="M566 713 566 731 577 731 580 722Z" fill="url(#g25)"/><path d="M298 719 372 729 377 710 364 703Z" fill="url(#g17)"/><path d="M508 832 515 845 523 847 527 829 513 825 508 829Z" fill="url(#g26)"/><path d="M470 841 485 857 492 846 473 840Z" fill="url(#g30)"/><path d="M486 787 497 804 502 803 506 795 503 787 494 783Z" fill="url(#g38)"/><path d="M622 610 623 623 637 619 639 614 624 609Z" fill="url(#g35)"/><path d="M557 754 568 751 563 740 556 745Z" fill="url(#g33)"/><path d="M414 626 421 644 432 642 432 634Z" fill="url(#g29)"/><path d="M633 755 649 750 650 740 633 732 621 740 627 751Z" fill="url(#g12)"/><path d="M596 814 595 794 594 793 583 805 584 816Z" fill="url(#g38)"/><path d="M580 684 584 688 596 691 597 690 599 680 585 673Z" fill="url(#g9)"/><path d="M667 715 654 721 654 737 673 733 674 730Z" fill="url(#g18)"/><path d="M422 879 427 879 430 867 424 859 412 860 409 865 415 876Z" fill="url(#g34)"/><path d="M678 605 685 608 690 603 685 596Z" fill="url(#g16)"/><path d="M688 791 677 806 686 815 697 805 694 794Z" fill="url(#g35)"/><path d="M430 771 443 772 447 761 442 755Z" fill="url(#g33)"/><path d="M681 620 691 633 693 631 696 617 686 615Z" fill="url(#g20)"/><path d="M589 640 583 649 593 659 595 658 596 649Z" fill="url(#g39)"/><path d="M636 701 637 713 645 712 648 701 642 698Z" fill="url(#g36)"/><path d="M511 777 507 769 498 770 495 781 503 785Z" fill="url(#g23)"/><path d="M652 819 659 809 654 804 646 802 641 809Z" fill="url(#g12)"/><path d="M529 778 519 781 517 793 520 794 535 787Z" fill="url(#g7)"/><path d="M489 861 501 860 503 853 494 846 487 859 487 860Z" fill="url(#g35)"/><path d="M664 847 670 846 674 842 672 829 667 830 662 843Z" fill="url(#g37)"/><path d="M452 685 449 692 452 700 464 705 468 683Z" fill="url(#g19)"/><path d="M604 608 593 596 578 599 585 616 600 615Z" fill="url(#g29)"/><path d="M404 627 390 620 379 628 378 634 388 645 394 644 401 636Z" fill="url(#g20)"/><path d="M613 641 613 635 605 630 591 639 598 647Z" fill="url(#g15)"/><path d="M574 594 578 597 593 595 597 584 589 579 576 587Z" fill="url(#g15)"/><path d="M609 811 606 796 597 794 598 813Z" fill="url(#g5)"/><path d="M435 645 435 652 446 662 452 656 450 649Z" fill="url(#g3)"/><path d="M441 749 445 744 441 731 435 732 433 733 429 745Z" fill="url(#g23)"/><path d="M411 626 407 627 404 637 415 650 418 645Z" fill="url(#g13)"/><path d="M648 898 650 879 640 871 635 874 633 890Z" fill="url(#g17)"/><path d="M404 757 415 749 406 733 383 743 387 749Z" fill="url(#g16)"/><path d="M603 881 593 877 577 889 577 890 586 900 595 900 605 891Z" fill="url(#g33)"/><path d="M554 754 553 746 544 742 541 745Z" fill="url(#g6)"/><path d="M644 833 637 832 628 845 638 851 647 838Z" fill="url(#g37)"/><path d="M607 794 613 791 614 787 608 773 592 786 595 791 596 792Z" fill="url(#g16)"/><path d="M614 642 618 652 631 654 634 651 634 638 619 633 615 635Z" fill="url(#g10)"/><path d="M489 699 482 696 473 707 485 715Z" fill="url(#g7)"/><path d="M531 776 538 787 555 784 557 777 551 768 537 766 532 770Z" fill="url(#g27)"/><path d="M566 663 554 660 549 676 564 675Z" fill="url(#g31)"/><path d="M485 789 484 787 476 783 472 785 470 811 473 811Z" fill="url(#g10)"/><path d="M684 697 682 705 691 712 700 707 700 698 695 695Z" fill="url(#g1)"/><path d="M664 850 661 857 670 868 680 866 681 863 678 853 671 848Z" fill="url(#g28)"/><path d="M567 710 581 720 589 716 586 711 578 707Z" fill="url(#g39)"/><path d="M380 873 377 871 373 873 372 876 371 888 381 893 384 891Z" fill="url(#g23)"/><path d="M513 608 513 593 510 592 498 599 503 609Z" fill="url(#g29)"/><path d="M492 765 476 770 477 781 485 785 493 781 496 769Z" fill="url(#g0)"/><path d="M643 695 650 698 652 695 652 687 644 683 641 686Z" fill="url(#g6)"/><path d="M423 696 412 677 406 677 405 678 408 698Z" fill="url(#g16)"/><path d="M660 605 652 596 646 598 644 611 657 613Z" fill="url(#g22)"/><path d="M388 680 387 705 399 707 406 700 402 678Z" fill="url(#g38)"/><path d="M524 611 519 613 519 619 523 625 530 622 531 612Z" fill="url(#g20)"/><path d="M567 856 561 833 548 836 546 848 558 857Z" fill="url(#g4)"/><path d="M512 812 523 806 520 796 516 795 508 796 504 804Z" fill="url(#g16)"/><path d="M584 751 594 757 601 757 608 742 598 735 586 741Z" fill="url(#g19)"/><path d="M474 661 495 662 495 643 489 640 478 642Z" fill="url(#g35)"/><path d="M667 791 663 790 657 802 662 808 668 805Z" fill="url(#g14)"/><path d="M534 609 532 599 527 598 525 608 532 610Z" fill="url(#g0)"/><path d="M657 616 642 614 640 620 642 631 656 634 661 630Z" fill="url(#g21)"/><path d="M682 864 682 866 688 873 690 874 701 864 701 862 700 860 693 858Z" fill="url(#g26)"/><path d="M460 867 455 861 449 865 448 886 449 886Z" fill="url(#g22)"/><path d="M626 846 619 846 613 853 618 869 633 872 639 869 641 864 637 854Z" fill="url(#g13)"/><path d="M385 656 369 660 368 665 374 674 382 675 385 658Z" fill="url(#g22)"/><path d="M407 891 401 884 391 892 399 899 405 898 408 894Z" fill="url(#g5)"/><path d="M437 712 432 722 435 729 440 729Z" fill="url(#g11)"/><path d="M628 699 624 705 630 715 632 715 633 714 632 701Z" fill="url(#g38)"/><path d="M586 783 585 780 572 772 559 777 558 785 563 794Z" fill="url(#g36)"/><path d="M493 882 479 882 477 894 494 897Z" fill="url(#g19)"/><path d="M585 818 594 835 602 829 596 816Z" fill="url(#g27)"/><path d="M610 771 616 785 630 776 629 775 611 769Z" fill="url(#g33)"/><path d="M402 882 408 889 420 880 415 878Z" fill="url(#g6)"/><path d="M488 637 491 622 480 615 471 633 477 640Z" fill="url(#g37)"/><path d="M402 774 403 772 403 761 387 753 384 775Z" fill="url(#g5)"/><path d="M517 613 514 610 504 611 501 620 504 622 516 618Z" fill="url(#g10)"/><path d="M514 823 528 827 530 826 533 810 524 807 513 814Z" fill="url(#g28)"/><path d="M383 777 387 792 395 792 401 787 401 777Z" fill="url(#g22)"/><path d="M573 857 589 865 597 851 591 843 584 844Z" fill="url(#g3)"/><path d="M470 595 467 603 480 613 481 613 493 599 489 593Z" fill="url(#g8)"/><path d="M469 632 478 614 466 605 464 605 454 625 459 631Z" fill="url(#g29)"/><path d="M655 686 655 695 666 694 670 686 662 681Z" fill="url(#g17)"/><path d="M561 831 553 811 552 812 545 831 548 834Z" fill="url(#g9)"/><path d="M591 784 607 770 608 768 601 760 594 759 587 779 589 782Z" fill="url(#g27)"/><path d="M402 639 396 645 407 656 413 652Z" fill="url(#g22)"/><path d="M592 716 599 725 610 718 608 710 602 709Z" fill="url(#g0)"/><path d="M567 858 558 859 553 868 557 880 567 880 569 859Z" fill="url(#g8)"/><path d="M604 879 616 869 611 854 600 852 591 867 593 875Z" fill="url(#g28)"/><path d="M429 879 441 887 445 886 446 866 432 868Z" fill="url(#g30)"/><path d="M438 610 446 597 442 589 437 588 427 597Z" fill="url(#g25)"/><path d="M420 596 424 595 434 586 422 567 407 592 413 596Z" fill="url(#g19)"/><path d="M613 812 625 804 624 799 614 792 608 795 611 811Z" fill="url(#g22)"/><path d="M507 828 512 824 511 814 502 805 497 805 488 815 491 822Z" fill="url(#g36)"/><path d="M584 841 591 840 592 837 583 820 577 822 572 829Z" fill="url(#g20)"/><path d="M473 750 466 732 466 732 457 744 467 756Z" fill="url(#g0)"/><path d="M600 727 600 733 610 740 617 739 613 720 612 720Z" fill="url(#g22)"/><path d="M611 693 599 692 597 693 603 707 608 709 612 705Z" fill="url(#g0)"/><path d="M686 825 683 840 690 844 692 842 693 829Z" fill="url(#g25)"/><path d="M10 739 308 755 370 747 377 741 373 732 291 721Z" fill="url(#g39)"/><path d="M472 662 455 658 447 665 447 675 452 682 470 680Z" fill="url(#g3)"/><path d="M485 860 485 859 469 842 457 848 456 859 463 866 469 870 470 870Z" fill="url(#g31)"/><path d="M570 660 573 652 566 642 551 644 550 652 554 658 567 661Z" fill="url(#g11)"/><path d="M388 605 369 596 363 598 365 618 377 625 388 618Z" fill="url(#g4)"/><path d="M491 756 476 751 468 759 476 768 491 763Z" fill="url(#g10)"/><path d="M520 715 531 723 541 714 537 701 522 705Z" fill="url(#g16)"/><path d="M552 659 548 653 533 660 531 666 546 677Z" fill="url(#g7)"/><path d="M486 792 476 811 487 813 495 805Z" fill="url(#g23)"/><path d="M652 702 648 713 653 717 665 712Z" fill="url(#g26)"/><path d="M573 660 584 669 590 660 580 652 576 653Z" fill="url(#g1)"/><path d="M360 828 358 832 363 842 365 844 373 836 368 827Z" fill="url(#g17)"/><path d="M537 880 531 885 539 894 547 890 547 888 539 879Z" fill="url(#g35)"/><path d="M649 667 635 664 634 669 643 676Z" fill="url(#g22)"/><path d="M624 895 630 890 632 874 617 871 606 881 608 891 611 894Z" fill="url(#g7)"/><path d="M395 794 386 793 382 801 394 808 399 806Z" fill="url(#g26)"/><path d="M572 861 569 880 576 886 590 875 588 868Z" fill="url(#g0)"/><path d="M652 823 646 832 649 838 660 842 665 829Z" fill="url(#g34)"/><path d="M661 603 667 600 667 599 663 590 657 588 654 594Z" fill="url(#g36)"/><path d="M674 614 659 616 663 628 679 620Z" fill="url(#g6)"/><path d="M529 867 536 877 538 876 542 869 533 861Z" fill="url(#g28)"/><path d="M688 789 695 792 710 783 698 765 683 768 684 784Z" fill="url(#g3)"/><path d="M386 647 377 636 362 647 368 658 385 653Z" fill="url(#g9)"/><path d="M675 808 670 808 667 810 674 825 684 822 684 817Z" fill="url(#g28)"/><path d="M496 882 497 898 498 899 513 896 514 892 509 877Z" fill="url(#g6)"/><path d="M536 611 534 612 533 621 537 622 537 612Z" fill="url(#g31)"/><path d="M687 817 687 823 694 827 704 826 715 817 698 807Z" fill="url(#g8)"/><path d="M528 869 522 872 530 882 534 878Z" fill="url(#g20)"/><path d="M370 826 376 834 380 835 387 824 375 818Z" fill="url(#g29)"/><path d="M544 610 553 621 559 618 560 605 550 602Z" fill="url(#g7)"/><path d="M434 835 425 816 421 815 412 833 429 838Z" fill="url(#g15)"/><path d="M492 879 488 863 486 862 472 871 479 880Z" fill="url(#g30)"/><path d="M676 644 662 634 658 637 656 650 659 656 672 657Z" fill="url(#g26)"/><path d="M450 763 445 772 453 778 458 764Z" fill="url(#g9)"/><path d="M404 787 411 793 417 790 417 779 406 775 404 776Z" fill="url(#g38)"/><path d="M688 679 693 679 699 675 695 664 680 665 681 674Z" fill="url(#g22)"/><path d="M413 876 408 867 399 871 402 880Z" fill="url(#g26)"/><path d="M359 869 373 870 360 859 358 860 357 865Z" fill="url(#g0)"/><path d="M506 834 496 844 504 851 512 846Z" fill="url(#g20)"/><path d="M585 776 591 759 583 753 578 755 575 770Z" fill="url(#g38)"/><path d="M380 775 384 751 379 744 372 749 366 769 370 776Z" fill="url(#g29)"/><path d="M440 834 451 813 440 808 429 815 437 834Z" fill="url(#g0)"/><path d="M475 641 469 635 459 634 453 647 455 656 471 659Z" fill="url(#g24)"/><path d="M394 647 389 648 387 654 389 656 403 662 405 657Z" fill="url(#g15)"/><path d="M388 659 384 677 387 679 403 676 404 675 403 664Z" fill="url(#g21)"/><path d="M545 849 533 855 534 859 543 868 551 867 556 858Z" fill="url(#g39)"/><path d="M629 696 634 699 641 696 639 687 634 687 630 692Z" fill="url(#g9)"/><path d="M689 682 682 691 685 694 693 693 692 682Z" fill="url(#g22)"/><path d="M513 757 496 752 494 756 494 763 497 767 508 767 513 760Z" fill="url(#g24)"/><path d="M566 734 565 738 572 750 577 752 581 750 583 741 578 734Z" fill="url(#g38)"/><path d="M589 637 603 628 599 618 585 619 580 626Z" fill="url(#g9)"/><path d="M426 693 430 680 422 672 414 676 425 694Z" fill="url(#g26)"/><path d="M497 661 509 659 513 652 505 641 497 644Z" fill="url(#g5)"/><path d="M546 592 551 599 561 603 571 595 552 580 547 586Z" fill="url(#g32)"/><path d="M508 729 508 722 502 718 488 720 487 726 503 734Z" fill="url(#g6)"/><path d="M576 624 582 617 576 600 573 598 563 605 562 618 575 625Z" fill="url(#g11)"/><path d="M582 723 580 732 585 739 597 733 597 727 590 718Z" fill="url(#g24)"/><path d="M687 609 687 613 696 615 700 612 698 606 691 604Z" fill="url(#g9)"/><path d="M505 832 506 829 491 824 488 830 495 841Z" fill="url(#g23)"/><path d="M672 709 669 713 677 727 688 721 689 714 681 707Z" fill="url(#g35)"/><path d="M417 652 424 659 432 652 432 645 421 647Z" fill="url(#g35)"/><path d="M593 792 590 786 588 784 564 796 581 804Z" fill="url(#g17)"/><path d="M496 641 504 639 506 636 503 624 499 622 493 623 491 638Z" fill="url(#g11)"/><path d="M679 674 678 665 674 662 665 679 670 683Z" fill="url(#g19)"/><path d="M454 858 455 848 441 837 436 837 430 841 426 858 431 865 446 863Z" fill="url(#g0)"/><path d="M634 809 638 808 643 800 641 792 637 789 627 800 627 804Z" fill="url(#g19)"/><path d="M656 782 656 769 634 778 638 786 643 789Z" fill="url(#g6)"/><path d="M573 687 567 693 564 701 567 707 577 703 581 690 578 686Z" fill="url(#g32)"/><path d="M422 881 409 891 410 893 421 896 425 881Z" fill="url(#g24)"/><path d="M390 824 382 836 389 846 392 847 401 844 406 835 402 830Z" fill="url(#g1)"/><path d="M468 840 466 814 456 812 455 813 442 835 457 846Z" fill="url(#g8)"/><path d="M674 827 676 841 681 839 684 825Z" fill="url(#g7)"/><path d="M434 654 425 662 425 664 445 664Z" fill="url(#g36)"/><path d="M407 864 410 860 401 847 394 849 394 868 397 869Z" fill="url(#g15)"/><path d="M431 774 438 789 452 783 443 774Z" fill="url(#g6)"/><path d="M652 593 656 587 654 580 651 579 635 587 645 596Z" fill="url(#g9)"/><path d="M411 624 412 598 405 593 404 593 390 604 391 618 406 625Z" fill="url(#g4)"/><path d="M400 882 396 871 393 870 383 873 386 890 389 890Z" fill="url(#g9)"/><path d="M510 867 519 850 514 849 506 853 504 860Z" fill="url(#g34)"/><path d="M683 861 691 856 688 849 680 853Z" fill="url(#g27)"/><path d="M628 717 615 720 619 739 632 731 631 718Z" fill="url(#g33)"/><path d="M534 808 536 806 537 789 536 788 521 796 525 805Z" fill="url(#g31)"/><path d="M651 664 656 657 653 652 636 653 634 655 635 661Z" fill="url(#g25)"/><path d="M666 590 669 596 676 590 672 586Z" fill="url(#g25)"/><path d="M625 797 635 787 632 779 616 788 615 791Z" fill="url(#g5)"/><path d="M681 887 685 893 693 894 695 892 697 885 690 876 688 876Z" fill="url(#g24)"/><path d="M517 621 506 624 509 635 521 632 522 627Z" fill="url(#g39)"/><path d="M418 748 426 745 431 733 411 726 410 726 408 730Z" fill="url(#g35)"/><path d="M680 768 677 765 660 766 659 782 663 786 668 788 681 783Z" fill="url(#g8)"/><path d="M386 847 380 838 376 838 367 846 367 847 377 853Z" fill="url(#g14)"/><path d="M677 762 679 744 674 736 653 740 651 751 659 763Z" fill="url(#g7)"/><path d="M420 778 420 790 425 793 435 793 436 791 428 774Z" fill="url(#g3)"/><path d="M438 709 442 708 449 701 447 694 428 695 426 697 426 698 429 704Z" fill="url(#g25)"/><path d="M569 827 573 821 560 807 556 810 564 829Z" fill="url(#g38)"/><path d="M612 605 620 606 623 605 629 587 622 579 614 582Z" fill="url(#g14)"/><path d="M501 737 487 730 487 738 496 748Z" fill="url(#g11)"/><path d="M469 594 467 581 461 573 444 588 449 596 464 603 465 602Z" fill="url(#g35)"/><path d="M442 728 450 723 442 711 440 712Z" fill="url(#g18)"/><path d="M417 751 406 760 406 772 419 776 428 771Z" fill="url(#g21)"/><path d="M413 624 414 623 425 615 419 599 414 599Z" fill="url(#g28)"/><path d="M444 709 453 723 460 723 464 708 451 702Z" fill="url(#g33)"/><path d="M653 667 662 679 672 660 658 659Z" fill="url(#g14)"/><path d="M510 871 502 862 490 863 495 880 509 874Z" fill="url(#g12)"/><path d="M516 781 513 779 506 787 509 793 515 792Z" fill="url(#g39)"/><path d="M699 741 700 731 690 722 676 730 675 735 681 743Z" fill="url(#g24)"/><path d="M621 631 635 636 639 632 638 622 623 627Z" fill="url(#g37)"/><path d="M381 741 406 730 408 726 398 709 386 707 379 711 375 731 379 741Z" fill="url(#g28)"/><path d="M539 806 551 809 553 808 559 803 561 796 556 786 540 790Z" fill="url(#g35)"/><path d="M423 857 427 841 408 836 403 845 412 858Z" fill="url(#g23)"/><path d="M423 699 408 701 401 708 410 724 420 717 426 705Z" fill="url(#g36)"/><path d="M483 614 492 621 499 619 502 610 497 600 494 600Z" fill="url(#g1)"/><path d="M422 811 426 812 437 805 434 797 426 797Z" fill="url(#g17)"/><path d="M497 750 514 754 515 751 503 739Z" fill="url(#g2)"/><path d="M422 662 415 654 408 658 405 664 406 674 412 674 421 670 423 665Z" fill="url(#g21)"/><path d="M436 711 428 707 423 717 431 720Z" fill="url(#g27)"/><path d="M443 752 449 759 460 761 465 759 454 746 448 746Z" fill="url(#g1)"/><path d="M544 591 544 586 527 579 521 590 526 595 533 596Z" fill="url(#g30)"/><path d="M465 708 461 724 466 729 468 730 484 726 486 719 485 717 471 708Z" fill="url(#g22)"/><path d="M537 763 551 765 554 758 538 747 536 750Z" fill="url(#g8)"/><path d="M475 748 484 738 484 728 470 732Z" fill="url(#g26)"/><path d="M389 821 392 810 381 803 373 806 376 815Z" fill="url(#g9)"/><path d="M566 640 574 627 560 620 553 624 548 630 547 637 550 643Z" fill="url(#g32)"/><path d="M505 737 516 749 518 736 510 732Z" fill="url(#g21)"/><path d="M547 650 548 644 545 639 528 640 526 649 532 657Z" fill="url(#g13)"/><path d="M518 752 516 756 516 759 531 768 535 764 533 751Z" fill="url(#g37)"/><path d="M628 689 631 686 623 677 620 678 620 682Z" fill="url(#g10)"/><path d="M522 674 520 679 538 691 545 679 530 668Z" fill="url(#g16)"/><path d="M569 856 570 856 582 843 570 830 563 833Z" fill="url(#g3)"/><path d="M634 830 629 825 618 827 616 830 620 844 625 844Z" fill="url(#g24)"/><path d="M506 640 514 650 523 649 525 638 522 634 508 637Z" fill="url(#g36)"/><path d="M494 751 485 741 479 749 492 754Z" fill="url(#g21)"/><path d="M519 749 534 748 534 747 524 735 521 736Z" fill="url(#g4)"/><path d="M495 664 474 663 472 680 478 683 498 678Z" fill="url(#g17)"/><path d="M654 699 667 709 669 707 666 697 655 698Z" fill="url(#g28)"/><path d="M632 588 626 606 641 611 643 598Z" fill="url(#g0)"/><path d="M530 829 526 848 533 853 544 847 546 836 543 832 531 829Z" fill="url(#g7)"/><path d="M454 786 438 792 437 795 440 805 454 811 455 810Z" fill="url(#g11)"/><path d="M621 706 613 706 610 710 612 718 614 719 627 716Z" fill="url(#g20)"/><path d="M408 833 418 813 409 809 404 828Z" fill="url(#g18)"/><path d="M471 838 486 829 489 822 486 816 473 813 468 814Z" fill="url(#g7)"/><path d="M645 716 636 716 634 718 634 730 651 738 651 720Z" fill="url(#g17)"/><path d="M677 606 676 612 680 618 685 613 684 610Z" fill="url(#g28)"/><path d="M632 811 626 806 615 813 617 824 629 822Z" fill="url(#g13)"/><path d="M421 599 427 615 437 614 437 612 425 597Z" fill="url(#g8)"/><path d="M609 605 610 582 610 582 599 585 595 595 605 606Z" fill="url(#g29)"/><path d="M467 871 463 868 452 888 459 892Z" fill="url(#g9)"/><path d="M613 692 614 704 621 704 624 698Z" fill="url(#g8)"/><path d="M497 663 500 678 508 685 517 679 520 673 509 661Z" fill="url(#g33)"/><path d="M612 767 629 772 632 756 626 753Z" fill="url(#g31)"/><path d="M575 650 580 648 586 639 577 628 576 628 568 641Z" fill="url(#g17)"/><path d="M674 659 680 663 695 662 700 654 688 641 680 644Z" fill="url(#g37)"/><path d="M543 829 549 811 538 808 535 810 532 826Z" fill="url(#g1)"/><path d="M521 671 529 666 530 659 523 651 515 653 511 659Z" fill="url(#g35)"/></g></g>
<rect x="386.90" y="819.50" width="20.47" height="10.10" fill="#bec2fa"/>
<rect x="387.90" y="820.50" width="18.47" height="9.10" fill="url(#hatf)"/>
<rect x="407.37" y="813.00" width="20.47" height="16.60" fill="#bec2fa"/>
<rect x="408.37" y="814.00" width="18.47" height="15.60" fill="url(#hatf)"/>
<rect x="427.84" y="737.80" width="20.47" height="91.80" fill="#bec2fa"/>
<rect x="428.84" y="738.80" width="18.47" height="90.80" fill="url(#hatf)"/>
<rect x="448.31" y="690.30" width="20.47" height="139.30" fill="#bec2fa"/>
<rect x="449.31" y="691.30" width="18.47" height="138.30" fill="url(#hatf)"/>
<rect x="468.78" y="606.90" width="20.47" height="222.70" fill="#bec2fa"/>
<rect x="469.78" y="607.90" width="18.47" height="221.70" fill="url(#hatf)"/>
<rect x="489.25" y="658.50" width="20.47" height="171.10" fill="#bec2fa"/>
<rect x="490.25" y="659.50" width="18.47" height="170.10" fill="url(#hatf)"/>
<rect x="509.72" y="693.90" width="20.47" height="135.70" fill="#bec2fa"/>
<rect x="510.72" y="694.90" width="18.47" height="134.70" fill="url(#hatf)"/>
<rect x="530.19" y="746.40" width="20.47" height="83.20" fill="#bec2fa"/>
<rect x="531.19" y="747.40" width="18.47" height="82.20" fill="url(#hatf)"/>
<rect x="550.66" y="780.00" width="20.47" height="49.60" fill="#bec2fa"/>
<rect x="551.66" y="781.00" width="18.47" height="48.60" fill="url(#hatf)"/>
<rect x="571.13" y="811.00" width="20.47" height="18.60" fill="#bec2fa"/>
<rect x="572.13" y="812.00" width="18.47" height="17.60" fill="url(#hatf)"/>
<rect x="591.60" y="823.90" width="20.47" height="5.70" fill="#bec2fa"/>
<rect x="592.60" y="824.90" width="18.47" height="4.70" fill="url(#hatf)"/>
<rect x="612.07" y="819.50" width="20.47" height="10.10" fill="#bec2fa"/>
<rect x="613.07" y="820.50" width="18.47" height="9.10" fill="url(#hatf)"/>
<rect x="653.01" y="827.50" width="20.47" height="2.10" fill="#bec2fa"/>
<rect x="654.01" y="828.50" width="18.47" height="1.10" fill="url(#hatf)"/>
<rect x="386.90" y="819.50" width="20.47" height="10.10" fill="none" stroke="#5b6ef5" stroke-width="1.9"/>
<rect x="407.37" y="813.00" width="20.47" height="16.60" fill="none" stroke="#5b6ef5" stroke-width="1.9"/>
<rect x="427.84" y="737.80" width="20.47" height="91.80" fill="none" stroke="#5b6ef5" stroke-width="1.9"/>
<rect x="448.31" y="690.30" width="20.47" height="139.30" fill="none" stroke="#5b6ef5" stroke-width="1.9"/>
<rect x="468.78" y="606.90" width="20.47" height="222.70" fill="none" stroke="#5b6ef5" stroke-width="1.9"/>
<rect x="489.25" y="658.50" width="20.47" height="171.10" fill="none" stroke="#5b6ef5" stroke-width="1.9"/>
<rect x="509.72" y="693.90" width="20.47" height="135.70" fill="none" stroke="#5b6ef5" stroke-width="1.9"/>
<rect x="530.19" y="746.40" width="20.47" height="83.20" fill="none" stroke="#5b6ef5" stroke-width="1.9"/>
<rect x="550.66" y="780.00" width="20.47" height="49.60" fill="none" stroke="#5b6ef5" stroke-width="1.9"/>
<rect x="571.13" y="811.00" width="20.47" height="18.60" fill="none" stroke="#5b6ef5" stroke-width="1.9"/>
<rect x="591.60" y="823.90" width="20.47" height="5.70" fill="none" stroke="#5b6ef5" stroke-width="1.9"/>
<rect x="612.07" y="819.50" width="20.47" height="10.10" fill="none" stroke="#5b6ef5" stroke-width="1.9"/>
<rect x="653.01" y="827.50" width="20.47" height="2.10" fill="none" stroke="#5b6ef5" stroke-width="1.9"/>
<polyline points="386.9,823.7 388.4,823.1 389.9,822.4 391.4,821.6 392.9,820.8 394.4,819.9 395.9,818.9 397.4,817.8 398.9,816.7 400.4,815.5 401.9,814.1 403.4,812.7 404.9,811.2 406.4,809.5 407.9,807.8 409.4,805.9 410.9,803.9 412.4,801.8 413.9,799.6 415.4,797.2 416.9,794.7 418.4,792.0 419.9,789.2 421.4,786.3 422.9,783.2 424.4,779.9 425.9,776.5 427.4,773.0 428.9,769.3 430.4,765.5 431.9,761.6 433.4,757.4 434.9,753.2 436.4,748.8 437.9,744.4 439.4,739.8 440.9,735.0 442.4,730.2 443.9,725.3 445.4,720.3 446.9,715.3 448.4,710.2 449.9,705.0 451.4,699.8 452.9,694.6 454.4,689.4 455.9,684.2 457.4,679.1 458.9,674.0 460.4,668.9 461.9,664.0 463.4,659.1 464.9,654.4 466.4,649.7 467.9,645.3 469.4,641.0 470.9,636.9 472.4,633.0 473.9,629.3 475.4,625.8 476.9,622.6 478.4,619.7 479.9,617.0 481.4,614.6 482.9,612.5 484.4,610.7 485.9,609.2 487.4,608.0 488.9,607.2 490.4,606.7 491.9,606.5 493.4,606.6 494.9,607.0 496.4,607.6 497.9,608.5 499.4,609.7 500.9,611.1 502.4,612.7 503.9,614.6 505.4,616.7 506.9,619.0 508.4,621.6 509.9,624.4 511.4,627.3 512.9,630.5 514.4,633.8 515.9,637.4 517.4,641.0 518.9,644.8 520.4,648.8 521.9,652.9 523.4,657.1 524.9,661.3 526.4,665.7 527.9,670.2 529.4,674.7 530.9,679.2 532.4,683.8 533.9,688.4 535.4,693.0 536.9,697.7 538.4,702.3 539.9,706.9 541.4,711.5 542.9,716.0 544.4,720.5 545.9,725.0 547.4,729.3 548.9,733.7 550.4,737.9 551.9,742.0 553.4,746.1 554.9,750.0 556.4,753.9 557.9,757.7 559.4,761.3 560.9,764.9 562.4,768.3 563.9,771.6 565.4,774.8 566.9,777.9 568.4,780.9 569.9,783.7 571.4,786.5 572.9,789.1 574.4,791.6 575.9,794.0 577.4,796.3 578.9,798.4 580.4,800.5 581.9,802.5 583.4,804.3 584.9,806.1 586.4,807.7 587.9,809.3 589.4,810.8 590.9,812.2 592.4,813.5 593.9,814.7 595.4,815.8 596.9,816.9 598.4,817.9 599.9,818.9 601.4,819.7 602.9,820.6 604.4,821.3 605.9,822.0 607.4,822.7 608.9,823.3 610.4,823.8 611.9,824.3 613.4,824.8 614.9,825.2 616.4,825.6 617.9,826.0 619.4,826.4 620.9,826.7 622.4,826.9 623.9,827.2 625.4,827.4 626.9,827.7 628.4,827.9 629.9,828.0 631.4,828.2 632.9,828.3 634.4,828.5 635.9,828.6 637.4,828.7 638.9,828.8 640.4,828.9 641.9,829.0 643.4,829.0 644.9,829.1 646.4,829.2 647.9,829.2 649.4,829.2 650.9,829.3 652.4,829.3 653.9,829.4 655.4,829.4 656.9,829.4 658.4,829.4 659.9,829.5 661.4,829.5 662.9,829.5 664.4,829.5 665.9,829.5 667.4,829.5 668.9,829.5 670.4,829.5 671.9,829.6 673.4,829.6" fill="none" stroke="#5b6ef5" stroke-width="1.3"/>
<rect x="386.9" y="601.0" width="287.2" height="228.6" fill="none" stroke="#5b6ef5" stroke-width="2"/>
<line x1="386.90" y1="829.6" x2="386.90" y2="832.1" stroke="#5b6ef5" stroke-width="1.5"/>
<text x="386.90" y="844.0" font-family="Liberation Sans" font-weight="bold" font-size="11.4" fill="#5b6ef5" text-anchor="middle" transform="translate(386.90 0) scale(0.84 1) translate(-386.90 0)">0.0</text>
<line x1="591.60" y1="829.6" x2="591.60" y2="832.1" stroke="#5b6ef5" stroke-width="1.5"/>
<text x="591.60" y="844.0" font-family="Liberation Sans" font-weight="bold" font-size="11.4" fill="#5b6ef5" text-anchor="middle" transform="translate(591.60 0) scale(0.84 1) translate(-591.60 0)">0.5</text>
<text x="530.5" y="855.9" font-family="Liberation Serif" font-weight="bold" font-size="11.7" fill="#5b6ef5" text-anchor="middle">Grain size<tspan font-weight="normal" fill="#111">(</tspan>&#956;m<tspan font-weight="normal" fill="#111">)</tspan></text>
<rect x="545.5" y="608.5" width="117.3" height="13.1" fill="#c8c8c8"/>
<rect x="543.0" y="606.0" width="117.3" height="13.1" fill="#fff" stroke="#5b6ef5" stroke-width="1.2"/>
<text x="601.6" y="615.9" font-family="Liberation Serif" font-weight="bold" font-size="10.2" fill="#5b6ef5" text-anchor="middle" textLength="112.3" lengthAdjust="spacingAndGlyphs">Average grain size (0.34&#956;m)</text>
<line x1="594.8" y1="851.4" x2="673.5" y2="851.4" stroke="#fff" stroke-width="2.6"/>
<text x="634.1" y="863.1" font-family="Liberation Sans" font-weight="bold" font-size="9.0" fill="#f4f4f4" text-anchor="middle" transform="translate(634.1 0) scale(0.8 1) translate(-634.1 0)">2 &#956;m</text>
<text x="384.6" y="621.5" font-family="Liberation Serif" font-size="22.1" fill="#ff0000" textLength="21.9" lengthAdjust="spacingAndGlyphs">(f)</text></g>
<line x1="217.9" y1="594.6" x2="219.6" y2="593.1" stroke="#ff3030" stroke-width="1.1" stroke-linecap="round"/>
</svg>
</body></html>
